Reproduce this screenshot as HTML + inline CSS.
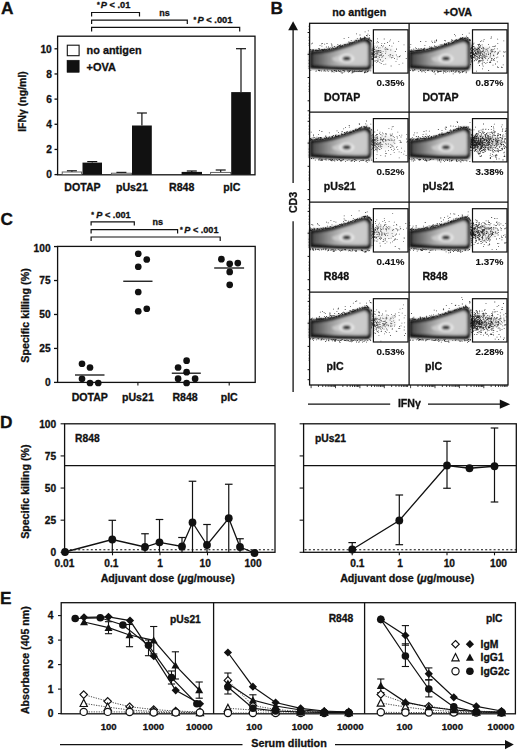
<!DOCTYPE html>
<html><head><meta charset="utf-8"><style>
html,body{margin:0;padding:0;background:#fff;}
svg{display:block;}
text{font-family:"Liberation Sans",sans-serif;fill:#111;stroke:#111;stroke-width:0.3px;}
</style></head><body>
<svg width="520" height="751" viewBox="0 0 520 751">
<defs><filter id="bl" x="-10%" y="-10%" width="120%" height="120%"><feGaussianBlur stdDeviation="0.8"/></filter>
<linearGradient id="gi" x1="0" y1="0" x2="1" y2="0"><stop offset="0" stop-color="#4a4a4a"/><stop offset="0.15" stop-color="#6e6e6e"/><stop offset="0.33" stop-color="#9c9c9c"/><stop offset="0.52" stop-color="#bababa"/><stop offset="0.8" stop-color="#c4c4c4"/><stop offset="1" stop-color="#b8b8b8"/></linearGradient></defs>
<rect width="520" height="751" fill="#fff"/>
<text x="1.00" y="13.60" font-size="17.3" text-anchor="start" font-weight="bold" >A</text>
<text x="270.60" y="13.60" font-size="17.3" text-anchor="start" font-weight="bold" >B</text>
<text x="0.40" y="225.20" font-size="17.3" text-anchor="start" font-weight="bold" >C</text>
<text x="-0.10" y="427.60" font-size="17.3" text-anchor="start" font-weight="bold" >D</text>
<text x="0.00" y="603.50" font-size="17.3" text-anchor="start" font-weight="bold" >E</text>
<path d="M91.60,16.60 L91.60,12.50 L139.50,12.50 L139.50,16.60" fill="none" stroke="#111" stroke-width="1.2"/>
<path d="M91.60,24.00 L91.60,20.20 L187.30,20.20 L187.30,24.00" fill="none" stroke="#111" stroke-width="1.2"/>
<path d="M91.60,31.60 L91.60,27.30 L239.70,27.30 L239.70,31.60" fill="none" stroke="#111" stroke-width="1.2"/>
<text x="97.00" y="7.10" font-size="7" font-weight="bold">*</text>
<text x="100.80" y="8.20" font-size="9" font-weight="bold" textLength="29.50" lengthAdjust="spacingAndGlyphs"><tspan font-style="italic">P</tspan> &lt; .01</text>
<text x="159.20" y="15.60" font-size="9" text-anchor="start" font-weight="bold" >ns</text>
<text x="193.60" y="22.00" font-size="7" font-weight="bold">*</text>
<text x="197.40" y="23.10" font-size="9" font-weight="bold" textLength="35.10" lengthAdjust="spacingAndGlyphs"><tspan font-style="italic">P</tspan> &lt; .001</text>
<rect x="57.60" y="36.20" width="197.40" height="138.60" fill="none" stroke="#111" stroke-width="1.3"/>
<line x1="54.50" y1="174.60" x2="57.60" y2="174.60" stroke="#111" stroke-width="1.3" />
<text x="51.80" y="178.30" font-size="10.2" text-anchor="end" font-weight="bold" >0</text>
<line x1="54.50" y1="149.44" x2="57.60" y2="149.44" stroke="#111" stroke-width="1.3" />
<text x="51.80" y="153.14" font-size="10.2" text-anchor="end" font-weight="bold" >2</text>
<line x1="54.50" y1="124.28" x2="57.60" y2="124.28" stroke="#111" stroke-width="1.3" />
<text x="51.80" y="127.98" font-size="10.2" text-anchor="end" font-weight="bold" >4</text>
<line x1="54.50" y1="99.12" x2="57.60" y2="99.12" stroke="#111" stroke-width="1.3" />
<text x="51.80" y="102.82" font-size="10.2" text-anchor="end" font-weight="bold" >6</text>
<line x1="54.50" y1="73.96" x2="57.60" y2="73.96" stroke="#111" stroke-width="1.3" />
<text x="51.80" y="77.66" font-size="10.2" text-anchor="end" font-weight="bold" >8</text>
<line x1="54.50" y1="48.80" x2="57.60" y2="48.80" stroke="#111" stroke-width="1.3" />
<text x="51.80" y="52.50" font-size="10.2" text-anchor="end" font-weight="bold" >10</text>
<text transform="translate(26.00,101.50) rotate(-90)" font-size="10.5" text-anchor="middle" font-weight="bold">IFN&#947; (ng/ml)</text>
<rect x="67.30" y="45.20" width="11.80" height="10.50" fill="#fff" stroke="#111" stroke-width="1.1"/>
<rect x="67.00" y="60.20" width="12.20" height="12.20" fill="#111" stroke="#111" stroke-width="0.5"/>
<text x="86.60" y="54.10" font-size="10.7" text-anchor="start" font-weight="bold"  textLength="55.0" lengthAdjust="spacingAndGlyphs">no antigen</text>
<text x="86.60" y="71.30" font-size="10.7" text-anchor="start" font-weight="bold"  textLength="29.4" lengthAdjust="spacingAndGlyphs">+OVA</text>
<line x1="71.90" y1="170.80" x2="71.90" y2="172.00" stroke="#111" stroke-width="1.2" />
<line x1="66.90" y1="170.80" x2="76.90" y2="170.80" stroke="#111" stroke-width="1.2" />
<rect x="62.20" y="172.00" width="19.40" height="2.60" fill="#fff" stroke="#555" stroke-width="0.9"/>
<line x1="92.25" y1="161.60" x2="92.25" y2="162.60" stroke="#111" stroke-width="1.2" />
<line x1="87.25" y1="161.60" x2="97.25" y2="161.60" stroke="#111" stroke-width="1.2" />
<rect x="82.50" y="162.60" width="19.50" height="12.00" fill="#111"/>
<line x1="121.40" y1="172.40" x2="121.40" y2="173.20" stroke="#111" stroke-width="1.2" />
<line x1="116.40" y1="172.40" x2="126.40" y2="172.40" stroke="#111" stroke-width="1.2" />
<rect x="111.40" y="173.20" width="20.00" height="1.40" fill="#fff" stroke="#555" stroke-width="0.9"/>
<line x1="141.90" y1="113.00" x2="141.90" y2="125.50" stroke="#111" stroke-width="1.2" />
<line x1="136.90" y1="113.00" x2="146.90" y2="113.00" stroke="#111" stroke-width="1.2" />
<rect x="132.00" y="125.50" width="19.80" height="49.10" fill="#111"/>
<line x1="191.80" y1="171.00" x2="191.80" y2="171.90" stroke="#111" stroke-width="1.2" />
<line x1="186.80" y1="171.00" x2="196.80" y2="171.00" stroke="#111" stroke-width="1.2" />
<rect x="181.60" y="171.90" width="20.40" height="2.70" fill="#111"/>
<line x1="220.70" y1="170.00" x2="220.70" y2="172.40" stroke="#111" stroke-width="1.2" />
<line x1="215.70" y1="170.00" x2="225.70" y2="170.00" stroke="#111" stroke-width="1.2" />
<rect x="210.60" y="172.40" width="20.20" height="2.20" fill="#fff" stroke="#555" stroke-width="0.9"/>
<line x1="241.00" y1="48.70" x2="241.00" y2="92.10" stroke="#111" stroke-width="1.2" />
<line x1="236.00" y1="48.70" x2="246.00" y2="48.70" stroke="#111" stroke-width="1.2" />
<rect x="231.20" y="92.10" width="19.60" height="82.50" fill="#111"/>
<text x="82.50" y="191.40" font-size="10.6" text-anchor="middle" font-weight="bold" >DOTAP</text>
<text x="131.90" y="191.40" font-size="10.6" text-anchor="middle" font-weight="bold" >pUs21</text>
<text x="181.70" y="191.40" font-size="10.6" text-anchor="middle" font-weight="bold" >R848</text>
<text x="231.90" y="191.40" font-size="10.6" text-anchor="middle" font-weight="bold" >pIC</text>
<path d="M91.10,225.60 L91.10,221.80 L134.30,221.80 L134.30,225.60" fill="none" stroke="#111" stroke-width="1.2"/>
<path d="M91.10,233.50 L91.10,229.70 L177.60,229.70 L177.60,233.50" fill="none" stroke="#111" stroke-width="1.2"/>
<path d="M91.10,241.00 L91.10,237.00 L220.20,237.00 L220.20,241.00" fill="none" stroke="#111" stroke-width="1.2"/>
<text x="91.30" y="217.00" font-size="7" font-weight="bold">*</text>
<text x="96.30" y="218.10" font-size="9" font-weight="bold" textLength="34.40" lengthAdjust="spacingAndGlyphs"><tspan font-style="italic">P</tspan> &lt; .001</text>
<text x="152.60" y="225.30" font-size="9" text-anchor="start" font-weight="bold" >ns</text>
<text x="179.90" y="231.70" font-size="7" font-weight="bold">*</text>
<text x="184.30" y="232.80" font-size="9" font-weight="bold" textLength="34.20" lengthAdjust="spacingAndGlyphs"><tspan font-style="italic">P</tspan> &lt; .001</text>
<rect x="57.60" y="246.40" width="197.60" height="136.00" fill="none" stroke="#111" stroke-width="1.3"/>
<line x1="54.00" y1="382.40" x2="57.60" y2="382.40" stroke="#111" stroke-width="1.3" />
<text x="50.60" y="386.10" font-size="10.2" text-anchor="end" font-weight="bold" >0</text>
<line x1="54.00" y1="348.44" x2="57.60" y2="348.44" stroke="#111" stroke-width="1.3" />
<text x="50.60" y="352.14" font-size="10.2" text-anchor="end" font-weight="bold" >25</text>
<line x1="54.00" y1="314.48" x2="57.60" y2="314.48" stroke="#111" stroke-width="1.3" />
<text x="50.60" y="318.18" font-size="10.2" text-anchor="end" font-weight="bold" >50</text>
<line x1="54.00" y1="280.52" x2="57.60" y2="280.52" stroke="#111" stroke-width="1.3" />
<text x="50.60" y="284.22" font-size="10.2" text-anchor="end" font-weight="bold" >75</text>
<line x1="54.00" y1="246.56" x2="57.60" y2="246.56" stroke="#111" stroke-width="1.3" />
<text x="50.60" y="251.66" font-size="10.2" text-anchor="end" font-weight="bold" >100</text>
<text transform="translate(28.80,315.50) rotate(-90)" font-size="10.7" text-anchor="middle" font-weight="bold">Specific killing (%)</text>
<line x1="89.80" y1="382.40" x2="89.80" y2="385.40" stroke="#111" stroke-width="1.1" />
<text x="89.80" y="401.00" font-size="10.6" text-anchor="middle" font-weight="bold" >DOTAP</text>
<line x1="137.90" y1="382.40" x2="137.90" y2="385.40" stroke="#111" stroke-width="1.1" />
<text x="137.90" y="401.00" font-size="10.6" text-anchor="middle" font-weight="bold" >pUs21</text>
<line x1="185.10" y1="382.40" x2="185.10" y2="385.40" stroke="#111" stroke-width="1.1" />
<text x="185.10" y="401.00" font-size="10.6" text-anchor="middle" font-weight="bold" >R848</text>
<line x1="229.20" y1="382.40" x2="229.20" y2="385.40" stroke="#111" stroke-width="1.1" />
<text x="229.20" y="401.00" font-size="10.6" text-anchor="middle" font-weight="bold" >pIC</text>
<circle cx="82" cy="363.75" r="3.35" fill="#111"/>
<circle cx="90" cy="367.5" r="3.35" fill="#111"/>
<circle cx="82" cy="378.75" r="3.35" fill="#111"/>
<circle cx="90" cy="383" r="3.35" fill="#111"/>
<circle cx="98.25" cy="383" r="3.35" fill="#111"/>
<circle cx="138.25" cy="253.75" r="3.35" fill="#111"/>
<circle cx="146.75" cy="259.5" r="3.35" fill="#111"/>
<circle cx="138.25" cy="266.75" r="3.35" fill="#111"/>
<circle cx="138.25" cy="292" r="3.35" fill="#111"/>
<circle cx="138.25" cy="311.25" r="3.35" fill="#111"/>
<circle cx="146.75" cy="308.75" r="3.35" fill="#111"/>
<circle cx="186.6" cy="360.7" r="3.35" fill="#111"/>
<circle cx="178.1" cy="367.5" r="3.35" fill="#111"/>
<circle cx="186.6" cy="372.2" r="3.35" fill="#111"/>
<circle cx="178.1" cy="378.7" r="3.35" fill="#111"/>
<circle cx="195.1" cy="378.7" r="3.35" fill="#111"/>
<circle cx="186.6" cy="383" r="3.35" fill="#111"/>
<circle cx="221.4" cy="259.2" r="3.35" fill="#111"/>
<circle cx="229.7" cy="263.8" r="3.35" fill="#111"/>
<circle cx="237.8" cy="263.1" r="3.35" fill="#111"/>
<circle cx="229.7" cy="271.9" r="3.35" fill="#111"/>
<circle cx="229.7" cy="284.8" r="3.35" fill="#111"/>
<line x1="75.00" y1="375.00" x2="104.50" y2="375.00" stroke="#111" stroke-width="1.3" />
<line x1="123.25" y1="281.25" x2="152.50" y2="281.25" stroke="#111" stroke-width="1.3" />
<line x1="171.80" y1="373.20" x2="200.80" y2="373.20" stroke="#111" stroke-width="1.3" />
<line x1="214.20" y1="268.00" x2="244.10" y2="268.00" stroke="#111" stroke-width="1.3" />
<rect x="64.60" y="423.80" width="210.40" height="128.50" fill="none" stroke="#111" stroke-width="1.3"/>
<line x1="64.60" y1="465.70" x2="275.00" y2="465.70" stroke="#111" stroke-width="1.3" />
<line x1="65.60" y1="549.80" x2="275.00" y2="549.80" stroke="#111" stroke-width="1.1" stroke-dasharray="2,2.2"/>
<line x1="60.60" y1="552.30" x2="64.60" y2="552.30" stroke="#111" stroke-width="1.1" />
<line x1="60.60" y1="520.17" x2="64.60" y2="520.17" stroke="#111" stroke-width="1.1" />
<line x1="60.60" y1="488.05" x2="64.60" y2="488.05" stroke="#111" stroke-width="1.1" />
<line x1="60.60" y1="455.92" x2="64.60" y2="455.92" stroke="#111" stroke-width="1.1" />
<line x1="60.60" y1="423.80" x2="64.60" y2="423.80" stroke="#111" stroke-width="1.1" />
<line x1="65.00" y1="552.30" x2="65.00" y2="555.30" stroke="#111" stroke-width="1.1" />
<text x="64.40" y="566.80" font-size="10.2" text-anchor="middle" font-weight="bold" >0.01</text>
<line x1="112.50" y1="552.30" x2="112.50" y2="555.30" stroke="#111" stroke-width="1.1" />
<text x="111.40" y="566.80" font-size="10.2" text-anchor="middle" font-weight="bold" >0.1</text>
<line x1="160.00" y1="552.30" x2="160.00" y2="555.30" stroke="#111" stroke-width="1.1" />
<text x="160.20" y="566.80" font-size="10.2" text-anchor="middle" font-weight="bold" >1</text>
<line x1="207.50" y1="552.30" x2="207.50" y2="555.30" stroke="#111" stroke-width="1.1" />
<text x="205.20" y="566.80" font-size="10.2" text-anchor="middle" font-weight="bold" >10</text>
<line x1="255.00" y1="552.30" x2="255.00" y2="555.30" stroke="#111" stroke-width="1.1" />
<text x="253.10" y="566.80" font-size="10.2" text-anchor="middle" font-weight="bold" >100</text>
<line x1="112.30" y1="520.30" x2="112.30" y2="552.30" stroke="#111" stroke-width="1.2" />
<line x1="108.50" y1="520.30" x2="116.10" y2="520.30" stroke="#111" stroke-width="1.2" />
<line x1="145.00" y1="533.75" x2="145.00" y2="552.30" stroke="#111" stroke-width="1.2" />
<line x1="141.20" y1="533.75" x2="148.80" y2="533.75" stroke="#111" stroke-width="1.2" />
<line x1="159.50" y1="519.50" x2="159.50" y2="552.30" stroke="#111" stroke-width="1.2" />
<line x1="155.70" y1="519.50" x2="163.30" y2="519.50" stroke="#111" stroke-width="1.2" />
<line x1="182.00" y1="537.50" x2="182.00" y2="552.30" stroke="#111" stroke-width="1.2" />
<line x1="178.20" y1="537.50" x2="185.80" y2="537.50" stroke="#111" stroke-width="1.2" />
<line x1="192.50" y1="481.25" x2="192.50" y2="552.30" stroke="#111" stroke-width="1.2" />
<line x1="188.70" y1="481.25" x2="196.30" y2="481.25" stroke="#111" stroke-width="1.2" />
<line x1="207.00" y1="524.50" x2="207.00" y2="552.30" stroke="#111" stroke-width="1.2" />
<line x1="203.20" y1="524.50" x2="210.80" y2="524.50" stroke="#111" stroke-width="1.2" />
<line x1="228.75" y1="484.25" x2="228.75" y2="552.30" stroke="#111" stroke-width="1.2" />
<line x1="224.95" y1="484.25" x2="232.55" y2="484.25" stroke="#111" stroke-width="1.2" />
<line x1="240.00" y1="538.75" x2="240.00" y2="552.30" stroke="#111" stroke-width="1.2" />
<line x1="236.20" y1="538.75" x2="243.80" y2="538.75" stroke="#111" stroke-width="1.2" />
<path d="M65.00,552.00 L112.30,539.50 L145.00,547.00 L159.50,542.30 L182.00,546.50 L192.50,522.50 L207.00,545.00 L228.75,518.25 L240.00,547.00 L254.50,553.00" fill="none" stroke="#111" stroke-width="1.3"/>
<circle cx="65" cy="552" r="3.9" fill="#111"/>
<circle cx="112.3" cy="539.5" r="3.9" fill="#111"/>
<circle cx="145" cy="547" r="3.9" fill="#111"/>
<circle cx="159.5" cy="542.3" r="3.9" fill="#111"/>
<circle cx="182" cy="546.5" r="3.9" fill="#111"/>
<circle cx="192.5" cy="522.5" r="3.9" fill="#111"/>
<circle cx="207" cy="545" r="3.9" fill="#111"/>
<circle cx="228.75" cy="518.25" r="3.9" fill="#111"/>
<circle cx="240" cy="547" r="3.9" fill="#111"/>
<circle cx="254.5" cy="553" r="3.9" fill="#111"/>
<text x="75.00" y="441.60" font-size="10.3" text-anchor="start" font-weight="bold" >R848</text>
<text x="56.20" y="556.00" font-size="10.2" text-anchor="end" font-weight="bold" >0</text>
<text x="56.20" y="523.88" font-size="10.2" text-anchor="end" font-weight="bold" >25</text>
<text x="56.20" y="491.75" font-size="10.2" text-anchor="end" font-weight="bold" >50</text>
<text x="56.20" y="459.62" font-size="10.2" text-anchor="end" font-weight="bold" >75</text>
<text x="56.20" y="427.50" font-size="10.2" text-anchor="end" font-weight="bold" >100</text>
<text transform="translate(28.60,491.60) rotate(-90)" font-size="10.7" text-anchor="middle" font-weight="bold">Specific killing (%)</text>
<text x="167.70" y="582.20" font-size="10.7" text-anchor="middle" font-weight="bold" >Adjuvant dose (<tspan font-style="italic">&#956;</tspan>g/mouse)</text>
<rect x="303.60" y="423.80" width="212.70" height="128.50" fill="none" stroke="#111" stroke-width="1.3"/>
<line x1="303.60" y1="465.70" x2="516.30" y2="465.70" stroke="#111" stroke-width="1.3" />
<line x1="304.60" y1="549.80" x2="516.30" y2="549.80" stroke="#111" stroke-width="1.1" stroke-dasharray="2,2.2"/>
<line x1="299.60" y1="552.30" x2="303.60" y2="552.30" stroke="#111" stroke-width="1.1" />
<line x1="299.60" y1="520.17" x2="303.60" y2="520.17" stroke="#111" stroke-width="1.1" />
<line x1="299.60" y1="488.05" x2="303.60" y2="488.05" stroke="#111" stroke-width="1.1" />
<line x1="299.60" y1="455.92" x2="303.60" y2="455.92" stroke="#111" stroke-width="1.1" />
<line x1="299.60" y1="423.80" x2="303.60" y2="423.80" stroke="#111" stroke-width="1.1" />
<line x1="352.20" y1="552.30" x2="352.20" y2="555.30" stroke="#111" stroke-width="1.1" />
<text x="357.40" y="566.80" font-size="10.2" text-anchor="middle" font-weight="bold" >0.1</text>
<line x1="399.30" y1="552.30" x2="399.30" y2="555.30" stroke="#111" stroke-width="1.1" />
<text x="400.20" y="566.80" font-size="10.2" text-anchor="middle" font-weight="bold" >1</text>
<line x1="447.00" y1="552.30" x2="447.00" y2="555.30" stroke="#111" stroke-width="1.1" />
<text x="449.30" y="566.80" font-size="10.2" text-anchor="middle" font-weight="bold" >10</text>
<line x1="494.50" y1="552.30" x2="494.50" y2="555.30" stroke="#111" stroke-width="1.1" />
<text x="498.50" y="566.80" font-size="10.2" text-anchor="middle" font-weight="bold" >100</text>
<line x1="352.20" y1="542.60" x2="352.20" y2="552.30" stroke="#111" stroke-width="1.2" />
<line x1="348.40" y1="542.60" x2="356.00" y2="542.60" stroke="#111" stroke-width="1.2" />
<line x1="399.30" y1="495.00" x2="399.30" y2="544.70" stroke="#111" stroke-width="1.2" />
<line x1="395.50" y1="495.00" x2="403.10" y2="495.00" stroke="#111" stroke-width="1.2" />
<line x1="395.50" y1="544.70" x2="403.10" y2="544.70" stroke="#111" stroke-width="1.2" />
<line x1="447.00" y1="441.25" x2="447.00" y2="488.25" stroke="#111" stroke-width="1.2" />
<line x1="443.20" y1="441.25" x2="450.80" y2="441.25" stroke="#111" stroke-width="1.2" />
<line x1="443.20" y1="488.25" x2="450.80" y2="488.25" stroke="#111" stroke-width="1.2" />
<line x1="494.50" y1="428.00" x2="494.50" y2="502.00" stroke="#111" stroke-width="1.2" />
<line x1="490.70" y1="428.00" x2="498.30" y2="428.00" stroke="#111" stroke-width="1.2" />
<line x1="490.70" y1="502.00" x2="498.30" y2="502.00" stroke="#111" stroke-width="1.2" />
<path d="M352.20,549.50 L399.30,520.50 L447.00,465.50 L469.50,468.25 L494.50,466.25" fill="none" stroke="#111" stroke-width="1.3"/>
<circle cx="352.2" cy="549.5" r="3.9" fill="#111"/>
<circle cx="399.3" cy="520.5" r="3.9" fill="#111"/>
<circle cx="447" cy="465.5" r="3.9" fill="#111"/>
<circle cx="469.5" cy="468.25" r="3.9" fill="#111"/>
<circle cx="494.5" cy="466.25" r="3.9" fill="#111"/>
<text x="315.00" y="441.60" font-size="10.3" text-anchor="start" font-weight="bold" >pUs21</text>
<text x="407.20" y="582.00" font-size="10.7" text-anchor="middle" font-weight="bold" >Adjuvant dose (<tspan font-style="italic">&#956;</tspan>g/mouse)</text>
<rect x="61.20" y="602.70" width="454.20" height="111.10" fill="none" stroke="#111" stroke-width="1.3"/>
<line x1="213.60" y1="602.70" x2="213.60" y2="713.80" stroke="#111" stroke-width="1.3" />
<line x1="364.60" y1="602.70" x2="364.60" y2="713.80" stroke="#111" stroke-width="1.3" />
<line x1="58.00" y1="713.60" x2="61.20" y2="713.60" stroke="#111" stroke-width="1.1" />
<text x="53.40" y="717.20" font-size="10.2" text-anchor="end" font-weight="bold" >0</text>
<line x1="58.00" y1="689.10" x2="61.20" y2="689.10" stroke="#111" stroke-width="1.1" />
<text x="53.40" y="692.70" font-size="10.2" text-anchor="end" font-weight="bold" >1</text>
<line x1="58.00" y1="664.60" x2="61.20" y2="664.60" stroke="#111" stroke-width="1.1" />
<text x="53.40" y="668.20" font-size="10.2" text-anchor="end" font-weight="bold" >2</text>
<line x1="58.00" y1="640.10" x2="61.20" y2="640.10" stroke="#111" stroke-width="1.1" />
<text x="53.40" y="643.70" font-size="10.2" text-anchor="end" font-weight="bold" >3</text>
<line x1="58.00" y1="615.60" x2="61.20" y2="615.60" stroke="#111" stroke-width="1.1" />
<text x="53.40" y="619.20" font-size="10.2" text-anchor="end" font-weight="bold" >4</text>
<text transform="translate(28.80,660.20) rotate(-90)" font-size="10.6" text-anchor="middle" font-weight="bold">Absorbance (405 nm)</text>
<text x="108.70" y="729.60" font-size="9.6" text-anchor="middle" font-weight="bold" >100</text>
<text x="153.50" y="729.60" font-size="9.6" text-anchor="middle" font-weight="bold" >1000</text>
<text x="199.30" y="729.60" font-size="9.6" text-anchor="middle" font-weight="bold" >10000</text>
<text x="254.30" y="729.60" font-size="9.6" text-anchor="middle" font-weight="bold" >100</text>
<text x="302.40" y="729.60" font-size="9.6" text-anchor="middle" font-weight="bold" >1000</text>
<text x="350.30" y="729.60" font-size="9.6" text-anchor="middle" font-weight="bold" >10000</text>
<text x="404.60" y="729.60" font-size="9.6" text-anchor="middle" font-weight="bold" >100</text>
<text x="452.30" y="729.60" font-size="9.6" text-anchor="middle" font-weight="bold" >1000</text>
<text x="500.90" y="729.60" font-size="9.6" text-anchor="middle" font-weight="bold" >10000</text>
<text x="185.40" y="622.60" font-size="10.3" text-anchor="middle" font-weight="bold" >pUs21</text>
<text x="341.00" y="621.90" font-size="10.3" text-anchor="middle" font-weight="bold" >R848</text>
<text x="494.20" y="622.40" font-size="10.3" text-anchor="middle" font-weight="bold" >pIC</text>
<line x1="60.00" y1="744.60" x2="242.50" y2="744.60" stroke="#111" stroke-width="1.3" />
<line x1="335.00" y1="744.60" x2="506.00" y2="744.60" stroke="#111" stroke-width="1.3" />
<path d="M505,740 L513.8,744.6 L505,749.2 Z" fill="#111"/>
<text x="289.00" y="747.20" font-size="10.8" text-anchor="middle" font-weight="bold" >Serum dilution</text>
<path d="M83.70,694.60 L107.70,701.30 L129.60,706.70 L153.70,709.60 L175.70,711.00 L200.00,712.00" fill="none" stroke="#333" stroke-width="0.9" stroke-dasharray="1.2,1.3"/>
<path d="M83.70,703.30 L107.70,707.10 L129.60,710.00 L153.70,711.50 L175.70,712.00 L200.00,712.50" fill="none" stroke="#333" stroke-width="0.9" stroke-dasharray="1.2,1.3"/>
<path d="M83.70,711.90 L107.70,711.90 L129.60,712.00 L153.70,712.50 L175.70,712.50 L199.90,712.50" fill="none" stroke="#333" stroke-width="0.9" stroke-dasharray="1.2,1.3"/>
<path d="M84.00,617.30 L108.50,616.80 L130.00,620.60 L153.80,656.20 L175.70,690.30 L200.00,703.80" fill="none" stroke="#111" stroke-width="1.2"/>
<line x1="108.50" y1="621.70" x2="108.50" y2="633.70" stroke="#111" stroke-width="1.1" />
<line x1="104.90" y1="621.70" x2="112.10" y2="621.70" stroke="#111" stroke-width="1.1" />
<line x1="104.90" y1="633.70" x2="112.10" y2="633.70" stroke="#111" stroke-width="1.1" />
<line x1="129.50" y1="624.50" x2="129.50" y2="646.70" stroke="#111" stroke-width="1.1" />
<line x1="125.90" y1="624.50" x2="133.10" y2="624.50" stroke="#111" stroke-width="1.1" />
<line x1="125.90" y1="646.70" x2="133.10" y2="646.70" stroke="#111" stroke-width="1.1" />
<line x1="153.70" y1="626.50" x2="153.70" y2="654.00" stroke="#111" stroke-width="1.1" />
<line x1="150.10" y1="626.50" x2="157.30" y2="626.50" stroke="#111" stroke-width="1.1" />
<line x1="150.10" y1="654.00" x2="157.30" y2="654.00" stroke="#111" stroke-width="1.1" />
<line x1="175.40" y1="651.80" x2="175.40" y2="679.00" stroke="#111" stroke-width="1.1" />
<line x1="171.80" y1="651.80" x2="179.00" y2="651.80" stroke="#111" stroke-width="1.1" />
<line x1="171.80" y1="679.00" x2="179.00" y2="679.00" stroke="#111" stroke-width="1.1" />
<line x1="199.20" y1="682.00" x2="199.20" y2="698.20" stroke="#111" stroke-width="1.1" />
<line x1="195.60" y1="682.00" x2="202.80" y2="682.00" stroke="#111" stroke-width="1.1" />
<line x1="195.60" y1="698.20" x2="202.80" y2="698.20" stroke="#111" stroke-width="1.1" />
<path d="M84.00,622.00 L108.50,627.70 L129.50,635.00 L153.70,640.40 L175.40,665.40 L199.20,690.00" fill="none" stroke="#111" stroke-width="1.2"/>
<line x1="148.50" y1="640.00" x2="148.50" y2="655.70" stroke="#111" stroke-width="1.1" />
<line x1="144.90" y1="640.00" x2="152.10" y2="640.00" stroke="#111" stroke-width="1.1" />
<line x1="144.90" y1="655.70" x2="152.10" y2="655.70" stroke="#111" stroke-width="1.1" />
<line x1="171.50" y1="671.00" x2="171.50" y2="684.00" stroke="#111" stroke-width="1.1" />
<line x1="167.90" y1="671.00" x2="175.10" y2="671.00" stroke="#111" stroke-width="1.1" />
<line x1="167.90" y1="684.00" x2="175.10" y2="684.00" stroke="#111" stroke-width="1.1" />
<path d="M75.20,618.50 L100.30,617.80 L122.90,625.00 L148.50,645.30 L171.50,677.60 L196.90,703.80" fill="none" stroke="#111" stroke-width="1.2"/>
<path d="M83.70,690.90 L87.40,694.60 L83.70,698.30 L80.00,694.60 Z" fill="#fff" stroke="#111" stroke-width="1.2"/>
<path d="M107.70,697.60 L111.40,701.30 L107.70,705.00 L104.00,701.30 Z" fill="#fff" stroke="#111" stroke-width="1.2"/>
<path d="M129.60,703.00 L133.30,706.70 L129.60,710.40 L125.90,706.70 Z" fill="#fff" stroke="#111" stroke-width="1.2"/>
<path d="M153.70,705.90 L157.40,709.60 L153.70,713.30 L150.00,709.60 Z" fill="#fff" stroke="#111" stroke-width="1.2"/>
<path d="M175.70,707.30 L179.40,711.00 L175.70,714.70 L172.00,711.00 Z" fill="#fff" stroke="#111" stroke-width="1.2"/>
<path d="M200.00,708.30 L203.70,712.00 L200.00,715.70 L196.30,712.00 Z" fill="#fff" stroke="#111" stroke-width="1.2"/>
<path d="M83.70,699.30 L87.30,706.50 L80.10,706.50 Z" fill="#fff" stroke="#111" stroke-width="1.2"/>
<path d="M107.70,703.10 L111.30,710.30 L104.10,710.30 Z" fill="#fff" stroke="#111" stroke-width="1.2"/>
<path d="M129.60,706.00 L133.20,713.20 L126.00,713.20 Z" fill="#fff" stroke="#111" stroke-width="1.2"/>
<path d="M153.70,707.50 L157.30,714.70 L150.10,714.70 Z" fill="#fff" stroke="#111" stroke-width="1.2"/>
<path d="M175.70,708.00 L179.30,715.20 L172.10,715.20 Z" fill="#fff" stroke="#111" stroke-width="1.2"/>
<path d="M200.00,708.50 L203.60,715.70 L196.40,715.70 Z" fill="#fff" stroke="#111" stroke-width="1.2"/>
<circle cx="83.70" cy="711.90" r="3.60" fill="#fff" stroke="#111" stroke-width="1.2"/>
<circle cx="107.70" cy="711.90" r="3.60" fill="#fff" stroke="#111" stroke-width="1.2"/>
<circle cx="129.60" cy="712.00" r="3.60" fill="#fff" stroke="#111" stroke-width="1.2"/>
<circle cx="153.70" cy="712.50" r="3.60" fill="#fff" stroke="#111" stroke-width="1.2"/>
<circle cx="175.70" cy="712.50" r="3.60" fill="#fff" stroke="#111" stroke-width="1.2"/>
<circle cx="199.90" cy="712.50" r="3.60" fill="#fff" stroke="#111" stroke-width="1.2"/>
<path d="M84.00,613.20 L88.10,617.30 L84.00,621.40 L79.90,617.30 Z" fill="#111" stroke="#111" stroke-width="0"/>
<path d="M108.50,612.70 L112.60,616.80 L108.50,620.90 L104.40,616.80 Z" fill="#111" stroke="#111" stroke-width="0"/>
<path d="M130.00,616.50 L134.10,620.60 L130.00,624.70 L125.90,620.60 Z" fill="#111" stroke="#111" stroke-width="0"/>
<path d="M153.80,652.10 L157.90,656.20 L153.80,660.30 L149.70,656.20 Z" fill="#111" stroke="#111" stroke-width="0"/>
<path d="M175.70,686.20 L179.80,690.30 L175.70,694.40 L171.60,690.30 Z" fill="#111" stroke="#111" stroke-width="0"/>
<path d="M200.00,699.70 L204.10,703.80 L200.00,707.90 L195.90,703.80 Z" fill="#111" stroke="#111" stroke-width="0"/>
<path d="M84.00,618.00 L88.00,625.20 L80.00,625.20 Z" fill="#111" stroke="#111" stroke-width="0"/>
<path d="M108.50,623.70 L112.50,630.90 L104.50,630.90 Z" fill="#111" stroke="#111" stroke-width="0"/>
<path d="M129.50,631.00 L133.50,638.20 L125.50,638.20 Z" fill="#111" stroke="#111" stroke-width="0"/>
<path d="M153.70,636.40 L157.70,643.60 L149.70,643.60 Z" fill="#111" stroke="#111" stroke-width="0"/>
<path d="M175.40,661.40 L179.40,668.60 L171.40,668.60 Z" fill="#111" stroke="#111" stroke-width="0"/>
<path d="M199.20,686.00 L203.20,693.20 L195.20,693.20 Z" fill="#111" stroke="#111" stroke-width="0"/>
<circle cx="75.20" cy="618.50" r="3.80" fill="#111" stroke="#111" stroke-width="0"/>
<circle cx="100.30" cy="617.80" r="3.80" fill="#111" stroke="#111" stroke-width="0"/>
<circle cx="122.90" cy="625.00" r="3.80" fill="#111" stroke="#111" stroke-width="0"/>
<circle cx="148.50" cy="645.30" r="3.80" fill="#111" stroke="#111" stroke-width="0"/>
<circle cx="171.50" cy="677.60" r="3.80" fill="#111" stroke="#111" stroke-width="0"/>
<circle cx="196.90" cy="703.80" r="3.80" fill="#111" stroke="#111" stroke-width="0"/>
<path d="M227.90,680.40 L252.90,705.50 L275.60,709.50 L300.60,711.50 L324.20,712.00 L348.70,712.30" fill="none" stroke="#333" stroke-width="0.9" stroke-dasharray="1.2,1.3"/>
<path d="M227.90,708.30 L252.90,710.00 L275.60,711.50 L300.60,712.00 L324.20,712.30 L348.70,712.50" fill="none" stroke="#333" stroke-width="0.9" stroke-dasharray="1.2,1.3"/>
<path d="M227.90,713.00 L252.90,713.00 L275.60,713.00 L300.60,713.00 L324.20,713.00 L348.70,713.00" fill="none" stroke="#333" stroke-width="0.9" stroke-dasharray="1.2,1.3"/>
<path d="M227.90,652.50 L252.90,686.70 L275.60,702.50 L300.60,708.30 L324.20,711.00 L348.70,712.00" fill="none" stroke="#111" stroke-width="1.2"/>
<line x1="227.90" y1="673.00" x2="227.90" y2="694.00" stroke="#111" stroke-width="1.1" />
<line x1="224.30" y1="673.00" x2="231.50" y2="673.00" stroke="#111" stroke-width="1.1" />
<line x1="224.30" y1="694.00" x2="231.50" y2="694.00" stroke="#111" stroke-width="1.1" />
<line x1="252.90" y1="694.80" x2="252.90" y2="705.60" stroke="#111" stroke-width="1.1" />
<line x1="249.30" y1="694.80" x2="256.50" y2="694.80" stroke="#111" stroke-width="1.1" />
<line x1="249.30" y1="705.60" x2="256.50" y2="705.60" stroke="#111" stroke-width="1.1" />
<path d="M227.90,683.50 L252.90,700.20 L275.60,706.00 L300.60,710.00 L324.20,711.50 L348.70,712.00" fill="none" stroke="#111" stroke-width="1.2"/>
<path d="M227.90,687.00 L252.90,708.30 L275.60,711.00 L300.60,712.00 L324.20,712.50 L348.70,712.50" fill="none" stroke="#111" stroke-width="1.2"/>
<path d="M227.90,676.70 L231.60,680.40 L227.90,684.10 L224.20,680.40 Z" fill="#fff" stroke="#111" stroke-width="1.2"/>
<path d="M252.90,701.80 L256.60,705.50 L252.90,709.20 L249.20,705.50 Z" fill="#fff" stroke="#111" stroke-width="1.2"/>
<path d="M275.60,705.80 L279.30,709.50 L275.60,713.20 L271.90,709.50 Z" fill="#fff" stroke="#111" stroke-width="1.2"/>
<path d="M300.60,707.80 L304.30,711.50 L300.60,715.20 L296.90,711.50 Z" fill="#fff" stroke="#111" stroke-width="1.2"/>
<path d="M324.20,708.30 L327.90,712.00 L324.20,715.70 L320.50,712.00 Z" fill="#fff" stroke="#111" stroke-width="1.2"/>
<path d="M348.70,708.60 L352.40,712.30 L348.70,716.00 L345.00,712.30 Z" fill="#fff" stroke="#111" stroke-width="1.2"/>
<path d="M227.90,704.30 L231.50,711.50 L224.30,711.50 Z" fill="#fff" stroke="#111" stroke-width="1.2"/>
<path d="M252.90,706.00 L256.50,713.20 L249.30,713.20 Z" fill="#fff" stroke="#111" stroke-width="1.2"/>
<path d="M275.60,707.50 L279.20,714.70 L272.00,714.70 Z" fill="#fff" stroke="#111" stroke-width="1.2"/>
<path d="M300.60,708.00 L304.20,715.20 L297.00,715.20 Z" fill="#fff" stroke="#111" stroke-width="1.2"/>
<path d="M324.20,708.30 L327.80,715.50 L320.60,715.50 Z" fill="#fff" stroke="#111" stroke-width="1.2"/>
<path d="M348.70,708.50 L352.30,715.70 L345.10,715.70 Z" fill="#fff" stroke="#111" stroke-width="1.2"/>
<circle cx="227.90" cy="713.00" r="3.60" fill="#fff" stroke="#111" stroke-width="1.2"/>
<circle cx="252.90" cy="713.00" r="3.60" fill="#fff" stroke="#111" stroke-width="1.2"/>
<circle cx="275.60" cy="713.00" r="3.60" fill="#fff" stroke="#111" stroke-width="1.2"/>
<circle cx="300.60" cy="713.00" r="3.60" fill="#fff" stroke="#111" stroke-width="1.2"/>
<circle cx="324.20" cy="713.00" r="3.60" fill="#fff" stroke="#111" stroke-width="1.2"/>
<circle cx="348.70" cy="713.00" r="3.60" fill="#fff" stroke="#111" stroke-width="1.2"/>
<path d="M227.90,648.40 L232.00,652.50 L227.90,656.60 L223.80,652.50 Z" fill="#111" stroke="#111" stroke-width="0"/>
<path d="M252.90,682.60 L257.00,686.70 L252.90,690.80 L248.80,686.70 Z" fill="#111" stroke="#111" stroke-width="0"/>
<path d="M275.60,698.40 L279.70,702.50 L275.60,706.60 L271.50,702.50 Z" fill="#111" stroke="#111" stroke-width="0"/>
<path d="M300.60,704.20 L304.70,708.30 L300.60,712.40 L296.50,708.30 Z" fill="#111" stroke="#111" stroke-width="0"/>
<path d="M324.20,706.90 L328.30,711.00 L324.20,715.10 L320.10,711.00 Z" fill="#111" stroke="#111" stroke-width="0"/>
<path d="M348.70,707.90 L352.80,712.00 L348.70,716.10 L344.60,712.00 Z" fill="#111" stroke="#111" stroke-width="0"/>
<path d="M227.90,679.50 L231.90,686.70 L223.90,686.70 Z" fill="#111" stroke="#111" stroke-width="0"/>
<path d="M252.90,696.20 L256.90,703.40 L248.90,703.40 Z" fill="#111" stroke="#111" stroke-width="0"/>
<path d="M275.60,702.00 L279.60,709.20 L271.60,709.20 Z" fill="#111" stroke="#111" stroke-width="0"/>
<path d="M300.60,706.00 L304.60,713.20 L296.60,713.20 Z" fill="#111" stroke="#111" stroke-width="0"/>
<path d="M324.20,707.50 L328.20,714.70 L320.20,714.70 Z" fill="#111" stroke="#111" stroke-width="0"/>
<path d="M348.70,708.00 L352.70,715.20 L344.70,715.20 Z" fill="#111" stroke="#111" stroke-width="0"/>
<circle cx="227.90" cy="687.00" r="3.80" fill="#111" stroke="#111" stroke-width="0"/>
<circle cx="252.90" cy="708.30" r="3.80" fill="#111" stroke="#111" stroke-width="0"/>
<circle cx="275.60" cy="711.00" r="3.80" fill="#111" stroke="#111" stroke-width="0"/>
<circle cx="300.60" cy="712.00" r="3.80" fill="#111" stroke="#111" stroke-width="0"/>
<circle cx="324.20" cy="712.50" r="3.80" fill="#111" stroke="#111" stroke-width="0"/>
<circle cx="348.70" cy="712.50" r="3.80" fill="#111" stroke="#111" stroke-width="0"/>
<path d="M380.80,694.40 L405.40,703.00 L428.80,706.30 L453.80,710.00 L476.30,711.00 L501.50,712.00" fill="none" stroke="#333" stroke-width="0.9" stroke-dasharray="1.2,1.3"/>
<path d="M380.80,703.00 L405.40,707.00 L428.80,710.00 L453.80,711.50 L476.30,712.00 L501.50,712.50" fill="none" stroke="#333" stroke-width="0.9" stroke-dasharray="1.2,1.3"/>
<path d="M380.80,712.30 L405.40,712.50 L428.80,712.50 L453.80,712.50 L476.30,712.50 L501.50,712.50" fill="none" stroke="#333" stroke-width="0.9" stroke-dasharray="1.2,1.3"/>
<line x1="405.40" y1="625.60" x2="405.40" y2="645.20" stroke="#111" stroke-width="1.1" />
<line x1="401.80" y1="625.60" x2="409.00" y2="625.60" stroke="#111" stroke-width="1.1" />
<line x1="401.80" y1="645.20" x2="409.00" y2="645.20" stroke="#111" stroke-width="1.1" />
<line x1="428.80" y1="667.90" x2="428.80" y2="679.70" stroke="#111" stroke-width="1.1" />
<line x1="425.20" y1="667.90" x2="432.40" y2="667.90" stroke="#111" stroke-width="1.1" />
<line x1="425.20" y1="679.70" x2="432.40" y2="679.70" stroke="#111" stroke-width="1.1" />
<path d="M380.80,619.40 L405.40,635.40 L428.80,673.80 L453.80,697.30 L476.30,706.30 L501.50,711.00" fill="none" stroke="#111" stroke-width="1.2"/>
<line x1="380.80" y1="679.00" x2="380.80" y2="692.60" stroke="#111" stroke-width="1.1" />
<line x1="377.20" y1="679.00" x2="384.40" y2="679.00" stroke="#111" stroke-width="1.1" />
<line x1="377.20" y1="692.60" x2="384.40" y2="692.60" stroke="#111" stroke-width="1.1" />
<path d="M380.80,685.80 L405.40,702.10 L428.80,707.00 L453.80,710.00 L476.30,711.50 L501.50,712.00" fill="none" stroke="#111" stroke-width="1.2"/>
<line x1="405.40" y1="643.80" x2="405.40" y2="666.50" stroke="#111" stroke-width="1.1" />
<line x1="401.80" y1="643.80" x2="409.00" y2="643.80" stroke="#111" stroke-width="1.1" />
<line x1="401.80" y1="666.50" x2="409.00" y2="666.50" stroke="#111" stroke-width="1.1" />
<line x1="428.80" y1="680.00" x2="428.80" y2="696.90" stroke="#111" stroke-width="1.1" />
<line x1="425.20" y1="680.00" x2="432.40" y2="680.00" stroke="#111" stroke-width="1.1" />
<line x1="425.20" y1="696.90" x2="432.40" y2="696.90" stroke="#111" stroke-width="1.1" />
<path d="M380.80,619.40 L405.40,656.00 L428.80,689.00 L453.80,706.90 L476.30,712.00 L501.50,712.50" fill="none" stroke="#111" stroke-width="1.2"/>
<path d="M380.80,690.70 L384.50,694.40 L380.80,698.10 L377.10,694.40 Z" fill="#fff" stroke="#111" stroke-width="1.2"/>
<path d="M405.40,699.30 L409.10,703.00 L405.40,706.70 L401.70,703.00 Z" fill="#fff" stroke="#111" stroke-width="1.2"/>
<path d="M428.80,702.60 L432.50,706.30 L428.80,710.00 L425.10,706.30 Z" fill="#fff" stroke="#111" stroke-width="1.2"/>
<path d="M453.80,706.30 L457.50,710.00 L453.80,713.70 L450.10,710.00 Z" fill="#fff" stroke="#111" stroke-width="1.2"/>
<path d="M476.30,707.30 L480.00,711.00 L476.30,714.70 L472.60,711.00 Z" fill="#fff" stroke="#111" stroke-width="1.2"/>
<path d="M501.50,708.30 L505.20,712.00 L501.50,715.70 L497.80,712.00 Z" fill="#fff" stroke="#111" stroke-width="1.2"/>
<path d="M380.80,699.00 L384.40,706.20 L377.20,706.20 Z" fill="#fff" stroke="#111" stroke-width="1.2"/>
<path d="M405.40,703.00 L409.00,710.20 L401.80,710.20 Z" fill="#fff" stroke="#111" stroke-width="1.2"/>
<path d="M428.80,706.00 L432.40,713.20 L425.20,713.20 Z" fill="#fff" stroke="#111" stroke-width="1.2"/>
<path d="M453.80,707.50 L457.40,714.70 L450.20,714.70 Z" fill="#fff" stroke="#111" stroke-width="1.2"/>
<path d="M476.30,708.00 L479.90,715.20 L472.70,715.20 Z" fill="#fff" stroke="#111" stroke-width="1.2"/>
<path d="M501.50,708.50 L505.10,715.70 L497.90,715.70 Z" fill="#fff" stroke="#111" stroke-width="1.2"/>
<circle cx="380.80" cy="712.30" r="3.60" fill="#fff" stroke="#111" stroke-width="1.2"/>
<circle cx="405.40" cy="712.50" r="3.60" fill="#fff" stroke="#111" stroke-width="1.2"/>
<circle cx="428.80" cy="712.50" r="3.60" fill="#fff" stroke="#111" stroke-width="1.2"/>
<circle cx="453.80" cy="712.50" r="3.60" fill="#fff" stroke="#111" stroke-width="1.2"/>
<circle cx="476.30" cy="712.50" r="3.60" fill="#fff" stroke="#111" stroke-width="1.2"/>
<circle cx="501.50" cy="712.50" r="3.60" fill="#fff" stroke="#111" stroke-width="1.2"/>
<path d="M380.80,615.30 L384.90,619.40 L380.80,623.50 L376.70,619.40 Z" fill="#111" stroke="#111" stroke-width="0"/>
<path d="M405.40,631.30 L409.50,635.40 L405.40,639.50 L401.30,635.40 Z" fill="#111" stroke="#111" stroke-width="0"/>
<path d="M428.80,669.70 L432.90,673.80 L428.80,677.90 L424.70,673.80 Z" fill="#111" stroke="#111" stroke-width="0"/>
<path d="M453.80,693.20 L457.90,697.30 L453.80,701.40 L449.70,697.30 Z" fill="#111" stroke="#111" stroke-width="0"/>
<path d="M476.30,702.20 L480.40,706.30 L476.30,710.40 L472.20,706.30 Z" fill="#111" stroke="#111" stroke-width="0"/>
<path d="M501.50,706.90 L505.60,711.00 L501.50,715.10 L497.40,711.00 Z" fill="#111" stroke="#111" stroke-width="0"/>
<path d="M380.80,681.80 L384.80,689.00 L376.80,689.00 Z" fill="#111" stroke="#111" stroke-width="0"/>
<path d="M405.40,698.10 L409.40,705.30 L401.40,705.30 Z" fill="#111" stroke="#111" stroke-width="0"/>
<path d="M428.80,703.00 L432.80,710.20 L424.80,710.20 Z" fill="#111" stroke="#111" stroke-width="0"/>
<path d="M453.80,706.00 L457.80,713.20 L449.80,713.20 Z" fill="#111" stroke="#111" stroke-width="0"/>
<path d="M476.30,707.50 L480.30,714.70 L472.30,714.70 Z" fill="#111" stroke="#111" stroke-width="0"/>
<path d="M501.50,708.00 L505.50,715.20 L497.50,715.20 Z" fill="#111" stroke="#111" stroke-width="0"/>
<circle cx="380.80" cy="619.40" r="3.80" fill="#111" stroke="#111" stroke-width="0"/>
<circle cx="405.40" cy="656.00" r="3.80" fill="#111" stroke="#111" stroke-width="0"/>
<circle cx="428.80" cy="689.00" r="3.80" fill="#111" stroke="#111" stroke-width="0"/>
<circle cx="453.80" cy="706.90" r="3.80" fill="#111" stroke="#111" stroke-width="0"/>
<circle cx="476.30" cy="712.00" r="3.80" fill="#111" stroke="#111" stroke-width="0"/>
<circle cx="501.50" cy="712.50" r="3.80" fill="#111" stroke="#111" stroke-width="0"/>
<path d="M455.50,640.50 L459.20,644.20 L455.50,647.90 L451.80,644.20 Z" fill="#fff" stroke="#111" stroke-width="1.2"/>
<path d="M469.90,640.10 L474.00,644.20 L469.90,648.30 L465.80,644.20 Z" fill="#111" stroke="#111" stroke-width="0"/>
<path d="M455.50,653.60 L459.10,660.80 L451.90,660.80 Z" fill="#fff" stroke="#111" stroke-width="1.2"/>
<path d="M469.90,653.60 L473.90,660.80 L465.90,660.80 Z" fill="#111" stroke="#111" stroke-width="0"/>
<circle cx="455.50" cy="671.30" r="3.60" fill="#fff" stroke="#111" stroke-width="1.2"/>
<circle cx="469.90" cy="671.30" r="3.80" fill="#111" stroke="#111" stroke-width="0"/>
<text x="480.60" y="647.60" font-size="10.4" text-anchor="start" font-weight="bold" >IgM</text>
<text x="480.60" y="660.80" font-size="10.4" text-anchor="start" font-weight="bold" >IgG1</text>
<text x="480.60" y="674.80" font-size="10.4" text-anchor="start" font-weight="bold" >IgG2c</text>
<text x="359.30" y="15.80" font-size="10.7" text-anchor="middle" font-weight="bold" >no antigen</text>
<text x="457.70" y="15.80" font-size="10.7" text-anchor="middle" font-weight="bold" >+OVA</text>
<g filter="url(#bl)">
<ellipse cx="382.40" cy="53.30" rx="13.05" ry="7" fill="#000" opacity="0.052"/>
<path d="M309.60,51.10 L321.56,50.20 L331.53,48.70 L341.50,46.10 L349.47,43.60 L356.45,41.10 L361.43,39.30 L365.92,38.30 L368.91,39.10 L370.80,41.50 L371.30,43.30 L371.30,66.30 L370.20,69.50 L367.41,70.50 L354.45,70.40 L339.50,70.10 L324.55,69.60 L309.60,68.80 Z" fill="#141414"/>
<path d="M312.59,54.30 L321.56,53.40 L331.53,51.90 L341.50,49.20 L349.47,46.70 L356.45,44.30 L361.43,42.60 L364.72,41.90 L367.01,42.90 L368.41,45.30 L368.61,64.30 L367.21,66.60 L354.45,66.60 L339.50,66.30 L324.55,65.70 L312.59,64.90 Z" fill="url(#gi)"/>
<path d="M331.53,58.30 L341.50,54.30 L351.46,49.80 L359.44,45.80 L364.42,43.80 L367.01,46.30 L366.81,59.30 L364.92,63.50 L353.46,63.90 L341.50,62.90 L334.52,61.30 Z" fill="#cbcbcb"/>
<ellipse cx="346.68" cy="58.50" rx="7.6" ry="4.4" fill="#e9e9e9"/>
<ellipse cx="346.68" cy="58.50" rx="4.3" ry="2.5" fill="#5c5c5c"/>
<ellipse cx="346.68" cy="58.50" rx="2.4" ry="1.4" fill="#353535"/>
<ellipse cx="481.50" cy="53.30" rx="14.61" ry="7" fill="#000" opacity="0.071"/>
<path d="M409.10,51.10 L420.98,50.20 L430.89,48.70 L440.79,46.10 L448.71,43.60 L455.65,41.10 L460.60,39.30 L465.05,38.30 L468.02,39.10 L469.91,41.50 L470.40,43.30 L470.40,66.30 L469.31,69.50 L466.54,70.50 L453.66,70.40 L438.81,70.10 L423.95,69.60 L409.10,68.80 Z" fill="#141414"/>
<path d="M412.07,54.30 L420.98,53.40 L430.89,51.90 L440.79,49.20 L448.71,46.70 L455.65,44.30 L460.60,42.60 L463.86,41.90 L466.14,42.90 L467.53,45.30 L467.73,64.30 L466.34,66.60 L453.66,66.60 L438.81,66.30 L423.95,65.70 L412.07,64.90 Z" fill="url(#gi)"/>
<path d="M430.89,58.30 L440.79,54.30 L450.69,49.80 L458.62,45.80 L463.57,43.80 L466.14,46.30 L465.94,59.30 L464.06,63.50 L452.67,63.90 L440.79,62.90 L433.86,61.30 Z" fill="#cbcbcb"/>
<ellipse cx="445.94" cy="58.50" rx="7.6" ry="4.4" fill="#e9e9e9"/>
<ellipse cx="445.94" cy="58.50" rx="4.3" ry="2.5" fill="#5c5c5c"/>
<ellipse cx="445.94" cy="58.50" rx="2.4" ry="1.4" fill="#353535"/>
<ellipse cx="382.40" cy="142.10" rx="13.56" ry="7" fill="#000" opacity="0.058"/>
<path d="M309.60,139.90 L321.56,139.00 L331.53,137.50 L341.50,134.90 L349.47,132.40 L356.45,129.90 L361.43,128.10 L365.92,127.10 L368.91,127.90 L370.80,130.30 L371.30,132.10 L371.30,155.10 L370.20,158.30 L367.41,159.30 L354.45,159.20 L339.50,158.90 L324.55,158.40 L309.60,157.60 Z" fill="#141414"/>
<path d="M312.59,143.10 L321.56,142.20 L331.53,140.70 L341.50,138.00 L349.47,135.50 L356.45,133.10 L361.43,131.40 L364.72,130.70 L367.01,131.70 L368.41,134.10 L368.61,153.10 L367.21,155.40 L354.45,155.40 L339.50,155.10 L324.55,154.50 L312.59,153.70 Z" fill="url(#gi)"/>
<path d="M331.53,147.10 L341.50,143.10 L351.46,138.60 L359.44,134.60 L364.42,132.60 L367.01,135.10 L366.81,148.10 L364.92,152.30 L353.46,152.70 L341.50,151.70 L334.52,150.10 Z" fill="#cbcbcb"/>
<ellipse cx="346.68" cy="147.30" rx="7.6" ry="4.4" fill="#e9e9e9"/>
<ellipse cx="346.68" cy="147.30" rx="4.3" ry="2.5" fill="#5c5c5c"/>
<ellipse cx="346.68" cy="147.30" rx="2.4" ry="1.4" fill="#353535"/>
<ellipse cx="481.50" cy="142.10" rx="22.14" ry="7" fill="#000" opacity="0.159"/>
<path d="M409.10,139.90 L420.98,139.00 L430.89,137.50 L440.79,134.90 L448.71,132.40 L455.65,129.90 L460.60,128.10 L465.05,127.10 L468.02,127.90 L469.91,130.30 L470.40,132.10 L470.40,155.10 L469.31,158.30 L466.54,159.30 L453.66,159.20 L438.81,158.90 L423.95,158.40 L409.10,157.60 Z" fill="#141414"/>
<path d="M412.07,143.10 L420.98,142.20 L430.89,140.70 L440.79,138.00 L448.71,135.50 L455.65,133.10 L460.60,131.40 L463.86,130.70 L466.14,131.70 L467.53,134.10 L467.73,153.10 L466.34,155.40 L453.66,155.40 L438.81,155.10 L423.95,154.50 L412.07,153.70 Z" fill="url(#gi)"/>
<path d="M430.89,147.10 L440.79,143.10 L450.69,138.60 L458.62,134.60 L463.57,132.60 L466.14,135.10 L465.94,148.10 L464.06,152.30 L452.67,152.70 L440.79,151.70 L433.86,150.10 Z" fill="#cbcbcb"/>
<ellipse cx="445.94" cy="147.30" rx="7.6" ry="4.4" fill="#e9e9e9"/>
<ellipse cx="445.94" cy="147.30" rx="4.3" ry="2.5" fill="#5c5c5c"/>
<ellipse cx="445.94" cy="147.30" rx="2.4" ry="1.4" fill="#353535"/>
<ellipse cx="382.40" cy="232.20" rx="13.23" ry="7" fill="#000" opacity="0.054"/>
<path d="M309.60,230.00 L321.56,229.10 L331.53,227.60 L341.50,225.00 L349.47,222.50 L356.45,220.00 L361.43,218.20 L365.92,217.20 L368.91,218.00 L370.80,220.40 L371.30,222.20 L371.30,245.20 L370.20,248.40 L367.41,249.40 L354.45,249.30 L339.50,249.00 L324.55,248.50 L309.60,247.70 Z" fill="#141414"/>
<path d="M312.59,233.20 L321.56,232.30 L331.53,230.80 L341.50,228.10 L349.47,225.60 L356.45,223.20 L361.43,221.50 L364.72,220.80 L367.01,221.80 L368.41,224.20 L368.61,243.20 L367.21,245.50 L354.45,245.50 L339.50,245.20 L324.55,244.60 L312.59,243.80 Z" fill="url(#gi)"/>
<path d="M331.53,237.20 L341.50,233.20 L351.46,228.70 L359.44,224.70 L364.42,222.70 L367.01,225.20 L366.81,238.20 L364.92,242.40 L353.46,242.80 L341.50,241.80 L334.52,240.20 Z" fill="#cbcbcb"/>
<ellipse cx="346.68" cy="237.40" rx="7.6" ry="4.4" fill="#e9e9e9"/>
<ellipse cx="346.68" cy="237.40" rx="4.3" ry="2.5" fill="#5c5c5c"/>
<ellipse cx="346.68" cy="237.40" rx="2.4" ry="1.4" fill="#353535"/>
<ellipse cx="481.50" cy="232.20" rx="16.11" ry="7" fill="#000" opacity="0.088"/>
<path d="M409.10,230.00 L420.98,229.10 L430.89,227.60 L440.79,225.00 L448.71,222.50 L455.65,220.00 L460.60,218.20 L465.05,217.20 L468.02,218.00 L469.91,220.40 L470.40,222.20 L470.40,245.20 L469.31,248.40 L466.54,249.40 L453.66,249.30 L438.81,249.00 L423.95,248.50 L409.10,247.70 Z" fill="#141414"/>
<path d="M412.07,233.20 L420.98,232.30 L430.89,230.80 L440.79,228.10 L448.71,225.60 L455.65,223.20 L460.60,221.50 L463.86,220.80 L466.14,221.80 L467.53,224.20 L467.73,243.20 L466.34,245.50 L453.66,245.50 L438.81,245.20 L423.95,244.60 L412.07,243.80 Z" fill="url(#gi)"/>
<path d="M430.89,237.20 L440.79,233.20 L450.69,228.70 L458.62,224.70 L463.57,222.70 L466.14,225.20 L465.94,238.20 L464.06,242.40 L452.67,242.80 L440.79,241.80 L433.86,240.20 Z" fill="#cbcbcb"/>
<ellipse cx="445.94" cy="237.40" rx="7.6" ry="4.4" fill="#e9e9e9"/>
<ellipse cx="445.94" cy="237.40" rx="4.3" ry="2.5" fill="#5c5c5c"/>
<ellipse cx="445.94" cy="237.40" rx="2.4" ry="1.4" fill="#353535"/>
<ellipse cx="382.40" cy="322.20" rx="13.59" ry="7" fill="#000" opacity="0.059"/>
<path d="M309.60,320.00 L321.56,319.10 L331.53,317.60 L341.50,315.00 L349.47,312.50 L356.45,310.00 L361.43,308.20 L365.92,307.20 L368.91,308.00 L370.80,310.40 L371.30,312.20 L371.30,335.20 L370.20,338.40 L367.41,339.40 L354.45,339.30 L339.50,339.00 L324.55,338.50 L309.60,337.70 Z" fill="#141414"/>
<path d="M312.59,323.20 L321.56,322.30 L331.53,320.80 L341.50,318.10 L349.47,315.60 L356.45,313.20 L361.43,311.50 L364.72,310.80 L367.01,311.80 L368.41,314.20 L368.61,333.20 L367.21,335.50 L354.45,335.50 L339.50,335.20 L324.55,334.60 L312.59,333.80 Z" fill="url(#gi)"/>
<path d="M331.53,327.20 L341.50,323.20 L351.46,318.70 L359.44,314.70 L364.42,312.70 L367.01,315.20 L366.81,328.20 L364.92,332.40 L353.46,332.80 L341.50,331.80 L334.52,330.20 Z" fill="#cbcbcb"/>
<ellipse cx="346.68" cy="327.40" rx="7.6" ry="4.4" fill="#e9e9e9"/>
<ellipse cx="346.68" cy="327.40" rx="4.3" ry="2.5" fill="#5c5c5c"/>
<ellipse cx="346.68" cy="327.40" rx="2.4" ry="1.4" fill="#353535"/>
<ellipse cx="481.50" cy="322.20" rx="18.84" ry="7" fill="#000" opacity="0.120"/>
<path d="M409.10,320.00 L420.98,319.10 L430.89,317.60 L440.79,315.00 L448.71,312.50 L455.65,310.00 L460.60,308.20 L465.05,307.20 L468.02,308.00 L469.91,310.40 L470.40,312.20 L470.40,335.20 L469.31,338.40 L466.54,339.40 L453.66,339.30 L438.81,339.00 L423.95,338.50 L409.10,337.70 Z" fill="#141414"/>
<path d="M412.07,323.20 L420.98,322.30 L430.89,320.80 L440.79,318.10 L448.71,315.60 L455.65,313.20 L460.60,311.50 L463.86,310.80 L466.14,311.80 L467.53,314.20 L467.73,333.20 L466.34,335.50 L453.66,335.50 L438.81,335.20 L423.95,334.60 L412.07,333.80 Z" fill="url(#gi)"/>
<path d="M430.89,327.20 L440.79,323.20 L450.69,318.70 L458.62,314.70 L463.57,312.70 L466.14,315.20 L465.94,328.20 L464.06,332.40 L452.67,332.80 L440.79,331.80 L433.86,330.20 Z" fill="#cbcbcb"/>
<ellipse cx="445.94" cy="327.40" rx="7.6" ry="4.4" fill="#e9e9e9"/>
<ellipse cx="445.94" cy="327.40" rx="4.3" ry="2.5" fill="#5c5c5c"/>
<ellipse cx="445.94" cy="327.40" rx="2.4" ry="1.4" fill="#353535"/>
</g>
<path d="M375.6 57.3h.8v.8h-.8zM371.8 58.2h.8v.8h-.8zM380.1 52.1h.8v.8h-.8zM379.4 54.7h.8v.8h-.8zM371.4 51.9h.8v.8h-.8zM372.0 53.9h.8v.8h-.8zM377.6 54.5h.8v.8h-.8zM373.9 51.3h.8v.8h-.8zM382.8 60.5h.8v.8h-.8zM377.0 51.2h.8v.8h-.8zM375.0 55.9h.8v.8h-.8zM372.8 56.0h.8v.8h-.8zM391.3 57.4h.8v.8h-.8zM373.3 47.9h.8v.8h-.8zM376.5 49.9h.8v.8h-.8zM380.5 55.1h.8v.8h-.8zM373.7 53.9h.8v.8h-.8zM384.6 48.6h.8v.8h-.8zM381.5 55.4h.8v.8h-.8zM378.2 50.5h.8v.8h-.8zM385.4 63.7h.8v.8h-.8zM374.3 48.4h.8v.8h-.8zM396.0 49.0h.8v.8h-.8zM386.7 49.1h.8v.8h-.8zM372.4 64.8h.8v.8h-.8zM377.4 53.4h.8v.8h-.8zM379.0 50.3h.8v.8h-.8zM371.4 49.9h.8v.8h-.8zM381.2 45.1h.8v.8h-.8zM396.0 48.6h.8v.8h-.8zM381.8 61.3h.8v.8h-.8zM381.4 43.0h.8v.8h-.8zM405.8 58.1h.8v.8h-.8zM378.6 52.4h.8v.8h-.8zM385.5 51.4h.8v.8h-.8zM383.5 64.2h.8v.8h-.8zM374.9 52.9h.8v.8h-.8zM376.8 52.8h.8v.8h-.8zM378.4 52.3h.8v.8h-.8zM373.1 54.4h.8v.8h-.8zM388.5 54.9h.8v.8h-.8zM372.6 53.4h.8v.8h-.8zM395.6 61.0h.8v.8h-.8zM371.9 48.3h.8v.8h-.8zM396.8 56.4h.8v.8h-.8zM391.5 57.1h.8v.8h-.8zM377.4 50.3h.8v.8h-.8zM376.3 62.3h.8v.8h-.8zM372.9 46.1h.8v.8h-.8zM373.2 53.7h.8v.8h-.8zM378.9 57.1h.8v.8h-.8zM381.6 53.3h.8v.8h-.8zM377.4 53.7h.8v.8h-.8zM376.5 42.4h.8v.8h-.8zM385.0 47.2h.8v.8h-.8zM379.6 47.4h.8v.8h-.8zM371.6 49.2h.8v.8h-.8zM398.6 56.4h.8v.8h-.8zM390.2 39.5h.8v.8h-.8zM376.9 51.5h.8v.8h-.8zM383.0 54.9h.8v.8h-.8zM371.7 55.9h.8v.8h-.8zM373.0 54.5h.8v.8h-.8zM375.9 53.4h.8v.8h-.8zM372.9 53.3h.8v.8h-.8zM372.2 52.7h.8v.8h-.8zM395.9 54.6h.8v.8h-.8zM382.4 55.9h.8v.8h-.8zM376.0 56.2h.8v.8h-.8zM376.4 60.0h.8v.8h-.8zM378.5 51.1h.8v.8h-.8zM372.2 53.5h.8v.8h-.8zM376.0 52.5h.8v.8h-.8zM373.0 61.4h.8v.8h-.8zM371.2 58.0h.8v.8h-.8zM372.8 51.7h.8v.8h-.8zM380.3 59.8h.8v.8h-.8zM394.9 51.3h.8v.8h-.8zM376.4 49.8h.8v.8h-.8zM373.1 54.0h.8v.8h-.8zM389.1 45.1h.8v.8h-.8zM375.7 54.8h.8v.8h-.8zM394.0 58.1h.8v.8h-.8zM387.1 42.1h.8v.8h-.8zM374.0 49.1h.8v.8h-.8zM371.3 52.9h.8v.8h-.8zM371.2 52.7h.8v.8h-.8zM385.1 58.0h.8v.8h-.8zM374.0 55.7h.8v.8h-.8zM373.5 55.0h.8v.8h-.8zM398.7 64.3h.8v.8h-.8zM393.0 42.7h.8v.8h-.8zM390.3 54.6h.8v.8h-.8zM372.0 48.4h.8v.8h-.8zM389.3 40.8h.8v.8h-.8zM387.6 49.3h.8v.8h-.8zM389.7 53.9h.8v.8h-.8zM375.8 57.3h.8v.8h-.8zM377.0 40.9h.8v.8h-.8zM377.1 60.8h.8v.8h-.8zM373.1 51.0h.8v.8h-.8zM372.5 58.7h.8v.8h-.8zM390.7 65.6h.8v.8h-.8zM372.8 58.9h.8v.8h-.8zM383.8 38.6h.8v.8h-.8zM376.1 50.9h.8v.8h-.8zM371.1 52.7h.8v.8h-.8zM403.6 44.5h.8v.8h-.8zM377.8 59.8h.8v.8h-.8zM373.8 47.3h.8v.8h-.8zM374.4 52.4h.8v.8h-.8zM381.5 57.3h.8v.8h-.8zM374.5 51.2h.8v.8h-.8zM399.9 55.5h.8v.8h-.8zM376.2 47.2h.8v.8h-.8zM399.2 56.1h.8v.8h-.8zM377.5 58.4h.8v.8h-.8zM380.0 50.2h.8v.8h-.8zM379.8 59.0h.8v.8h-.8zM373.3 53.9h.8v.8h-.8zM370.9 54.0h.8v.8h-.8zM378.6 50.3h.8v.8h-.8zM386.5 48.0h.8v.8h-.8zM379.7 51.7h.8v.8h-.8zM380.7 53.9h.8v.8h-.8zM380.8 50.8h.8v.8h-.8zM374.3 52.0h.8v.8h-.8zM379.4 62.3h.8v.8h-.8zM380.8 54.1h.8v.8h-.8zM378.0 42.2h.8v.8h-.8zM382.3 46.5h.8v.8h-.8zM385.1 53.0h.8v.8h-.8zM378.2 47.6h.8v.8h-.8zM405.1 51.1h.8v.8h-.8zM385.4 63.8h.8v.8h-.8zM374.5 45.7h.8v.8h-.8zM380.8 63.1h.8v.8h-.8zM372.7 50.4h.8v.8h-.8zM372.5 51.8h.8v.8h-.8zM374.2 53.9h.8v.8h-.8zM371.8 49.8h.8v.8h-.8zM398.3 40.9h.8v.8h-.8zM372.9 52.0h.8v.8h-.8zM372.8 47.2h.8v.8h-.8zM396.7 58.7h.8v.8h-.8zM377.0 38.4h.8v.8h-.8zM392.4 55.1h.8v.8h-.8zM373.0 48.6h.8v.8h-.8zM375.9 55.7h.8v.8h-.8zM373.5 50.4h.8v.8h-.8zM371.1 59.2h.8v.8h-.8zM380.6 52.3h.8v.8h-.8zM375.8 53.6h.8v.8h-.8zM382.7 51.2h.8v.8h-.8zM389.6 56.5h.8v.8h-.8zM374.6 52.9h.8v.8h-.8zM371.4 53.9h.8v.8h-.8zM372.6 50.0h.8v.8h-.8zM377.5 61.1h.8v.8h-.8zM374.5 48.9h.8v.8h-.8zM372.8 58.2h.8v.8h-.8zM385.4 49.4h.8v.8h-.8zM372.0 59.3h.8v.8h-.8zM377.6 56.0h.8v.8h-.8zM371.8 58.7h.8v.8h-.8zM390.4 49.6h.8v.8h-.8zM372.0 54.3h.8v.8h-.8zM394.8 51.1h.8v.8h-.8zM378.2 49.9h.8v.8h-.8zM402.4 62.7h.8v.8h-.8zM374.7 57.1h.8v.8h-.8zM374.2 57.3h.8v.8h-.8zM372.3 54.0h.8v.8h-.8zM373.6 54.5h.8v.8h-.8zM375.4 50.6h.8v.8h-.8zM375.0 60.6h.8v.8h-.8zM379.3 55.4h.8v.8h-.8zM371.1 56.6h.8v.8h-.8zM374.4 60.6h.8v.8h-.8zM380.6 54.2h.8v.8h-.8zM373.4 43.2h.8v.8h-.8zM372.3 54.9h.8v.8h-.8zM391.5 45.8h.8v.8h-.8zM392.6 56.8h.8v.8h-.8zM376.9 45.8h.8v.8h-.8zM376.0 57.0h.8v.8h-.8zM383.1 45.4h.8v.8h-.8zM377.2 52.4h.8v.8h-.8zM372.6 54.5h.8v.8h-.8zM371.8 53.1h.8v.8h-.8zM373.0 50.0h.8v.8h-.8zM372.0 57.9h.8v.8h-.8zM384.3 43.1h.8v.8h-.8z" fill="#444"/>
<path d="M327.0 49.6h.8v.8h-.8zM337.2 46.6h.8v.8h-.8zM369.7 39.4h.8v.8h-.8zM331.6 45.7h.8v.8h-.8zM338.9 46.3h.8v.8h-.8zM325.9 46.6h.8v.8h-.8zM312.2 50.3h.8v.8h-.8zM342.3 46.0h.8v.8h-.8zM353.8 41.5h.8v.8h-.8zM318.8 50.0h.8v.8h-.8zM312.3 50.0h.8v.8h-.8zM359.8 38.2h.8v.8h-.8zM340.8 45.6h.8v.8h-.8zM364.8 37.1h.8v.8h-.8zM323.8 49.6h.8v.8h-.8zM361.3 39.6h.8v.8h-.8zM348.3 37.3h.8v.8h-.8zM355.8 40.5h.8v.8h-.8zM350.3 41.9h.8v.8h-.8zM326.0 49.1h.8v.8h-.8zM355.3 40.5h.8v.8h-.8zM351.9 42.9h.8v.8h-.8zM349.3 43.4h.8v.8h-.8zM328.4 49.2h.8v.8h-.8zM313.3 50.9h.8v.8h-.8zM327.6 48.0h.8v.8h-.8zM338.4 45.5h.8v.8h-.8zM367.5 33.8h.8v.8h-.8zM360.3 38.8h.8v.8h-.8zM368.0 38.9h.8v.8h-.8zM318.4 48.1h.8v.8h-.8zM341.0 46.1h.8v.8h-.8zM323.9 49.1h.8v.8h-.8zM340.0 46.0h.8v.8h-.8zM318.3 50.2h.8v.8h-.8zM356.0 40.8h.8v.8h-.8zM366.9 38.3h.8v.8h-.8zM333.9 46.1h.8v.8h-.8zM331.9 47.3h.8v.8h-.8zM361.2 39.3h.8v.8h-.8zM325.0 49.9h.8v.8h-.8zM368.7 38.0h.8v.8h-.8zM348.6 41.9h.8v.8h-.8zM312.7 49.8h.8v.8h-.8zM356.1 33.5h.8v.8h-.8zM317.5 50.1h.8v.8h-.8zM328.0 49.3h.8v.8h-.8zM328.2 46.5h.8v.8h-.8zM319.9 50.2h.8v.8h-.8zM323.2 49.6h.8v.8h-.8zM337.4 44.3h.8v.8h-.8zM315.2 50.4h.8v.8h-.8zM344.8 44.0h.8v.8h-.8zM342.0 45.1h.8v.8h-.8zM313.4 50.6h.8v.8h-.8zM348.5 41.4h.8v.8h-.8zM326.3 49.8h.8v.8h-.8zM362.0 38.4h.8v.8h-.8zM311.6 50.7h.8v.8h-.8zM309.6 49.1h.8v.8h-.8zM360.6 38.1h.8v.8h-.8zM319.1 48.4h.8v.8h-.8zM367.8 38.8h.8v.8h-.8zM343.7 37.9h.8v.8h-.8zM324.0 48.7h.8v.8h-.8zM325.2 49.2h.8v.8h-.8zM316.5 49.7h.8v.8h-.8zM323.4 49.6h.8v.8h-.8zM328.2 46.8h.8v.8h-.8zM339.0 46.4h.8v.8h-.8zM369.0 35.2h.8v.8h-.8zM351.3 42.3h.8v.8h-.8zM350.8 40.0h.8v.8h-.8zM335.6 47.6h.8v.8h-.8zM358.9 40.4h.8v.8h-.8zM328.9 48.1h.8v.8h-.8zM323.3 50.2h.8v.8h-.8zM321.2 49.6h.8v.8h-.8zM350.7 42.9h.8v.8h-.8zM369.8 40.1h.8v.8h-.8zM313.3 49.3h.8v.8h-.8zM371.2 40.2h.8v.8h-.8zM321.1 43.5h.8v.8h-.8zM333.0 47.9h.8v.8h-.8zM320.1 49.7h.8v.8h-.8zM317.2 50.8h.8v.8h-.8zM331.6 48.1h.8v.8h-.8zM338.9 45.2h.8v.8h-.8zM321.5 45.7h.8v.8h-.8zM359.8 38.4h.8v.8h-.8zM311.8 49.0h.8v.8h-.8zM365.1 37.8h.8v.8h-.8zM368.8 38.7h.8v.8h-.8zM326.6 43.1h.8v.8h-.8zM366.2 35.1h.8v.8h-.8zM339.0 45.1h.8v.8h-.8zM333.5 48.5h.8v.8h-.8zM320.9 49.4h.8v.8h-.8zM360.4 39.7h.8v.8h-.8zM332.0 47.4h.8v.8h-.8zM321.8 50.2h.8v.8h-.8zM343.8 44.9h.8v.8h-.8zM364.2 37.4h.8v.8h-.8zM340.4 46.6h.8v.8h-.8zM324.1 48.8h.8v.8h-.8zM361.9 38.7h.8v.8h-.8zM361.6 39.2h.8v.8h-.8zM321.9 49.1h.8v.8h-.8zM319.1 49.6h.8v.8h-.8zM370.9 40.4h.8v.8h-.8zM359.6 34.6h.8v.8h-.8zM360.2 37.3h.8v.8h-.8zM312.1 51.1h.8v.8h-.8zM345.6 44.6h.8v.8h-.8zM363.1 38.4h.8v.8h-.8zM316.1 50.6h.8v.8h-.8zM323.1 49.9h.8v.8h-.8zM346.6 44.3h.8v.8h-.8zM310.3 50.6h.8v.8h-.8zM322.2 48.9h.8v.8h-.8zM313.5 50.2h.8v.8h-.8zM315.2 50.3h.8v.8h-.8zM334.9 47.9h.8v.8h-.8zM344.6 44.5h.8v.8h-.8zM363.0 38.2h.8v.8h-.8zM322.2 43.2h.8v.8h-.8zM335.8 47.4h.8v.8h-.8zM319.6 45.2h.8v.8h-.8zM349.2 43.6h.8v.8h-.8zM340.8 46.3h.8v.8h-.8zM341.8 45.8h.8v.8h-.8zM369.4 39.6h.8v.8h-.8zM367.9 30.5h.8v.8h-.8zM333.6 48.3h.8v.8h-.8zM360.6 38.9h.8v.8h-.8zM361.9 37.9h.8v.8h-.8zM323.1 49.2h.8v.8h-.8zM324.9 49.2h.8v.8h-.8zM312.1 42.8h.8v.8h-.8zM316.9 50.1h.8v.8h-.8zM348.4 43.9h.8v.8h-.8zM350.3 42.5h.8v.8h-.8zM311.0 50.4h.8v.8h-.8zM357.8 40.0h.8v.8h-.8zM338.8 46.6h.8v.8h-.8zM336.9 47.2h.8v.8h-.8zM348.9 42.5h.8v.8h-.8zM313.0 50.3h.8v.8h-.8zM368.4 37.8h.8v.8h-.8zM360.0 38.5h.8v.8h-.8zM340.0 44.4h.8v.8h-.8zM367.1 35.5h.8v.8h-.8zM356.3 40.2h.8v.8h-.8zM318.5 48.8h.8v.8h-.8zM322.5 50.3h.8v.8h-.8zM320.9 49.3h.8v.8h-.8zM351.6 42.6h.8v.8h-.8zM342.4 45.7h.8v.8h-.8zM363.5 37.8h.8v.8h-.8zM371.0 40.9h.8v.8h-.8zM358.9 40.2h.8v.8h-.8zM356.9 37.9h.8v.8h-.8zM355.6 39.8h.8v.8h-.8zM370.4 40.2h.8v.8h-.8zM328.9 49.1h.8v.8h-.8zM336.3 47.7h.8v.8h-.8zM317.8 50.5h.8v.8h-.8zM331.5 44.6h.8v.8h-.8zM323.5 48.9h.8v.8h-.8zM338.9 46.3h.8v.8h-.8zM324.7 49.7h.8v.8h-.8zM357.9 40.5h.8v.8h-.8zM310.3 50.5h.8v.8h-.8zM337.0 46.4h.8v.8h-.8zM325.0 49.7h.8v.8h-.8zM324.3 43.7h.8v.8h-.8zM310.4 48.9h.8v.8h-.8zM347.2 43.8h.8v.8h-.8zM359.9 39.7h.8v.8h-.8zM364.6 38.1h.8v.8h-.8zM310.0 50.4h.8v.8h-.8zM337.6 45.9h.8v.8h-.8zM324.0 49.2h.8v.8h-.8zM361.8 39.3h.8v.8h-.8zM343.8 43.9h.8v.8h-.8zM349.3 43.2h.8v.8h-.8zM364.0 38.2h.8v.8h-.8zM368.0 39.1h.8v.8h-.8zM364.0 38.6h.8v.8h-.8zM352.4 42.1h.8v.8h-.8zM338.6 46.2h.8v.8h-.8zM354.4 40.7h.8v.8h-.8zM322.7 50.0h.8v.8h-.8zM311.3 43.5h.8v.8h-.8zM330.9 43.4h.8v.8h-.8zM348.8 43.9h.8v.8h-.8zM313.7 50.2h.8v.8h-.8zM364.7 31.4h.8v.8h-.8zM366.1 38.2h.8v.8h-.8zM311.7 51.1h.8v.8h-.8zM348.8 43.4h.8v.8h-.8zM315.6 49.6h.8v.8h-.8zM329.3 49.1h.8v.8h-.8zM353.8 42.2h.8v.8h-.8zM369.2 37.5h.8v.8h-.8zM335.1 48.0h.8v.8h-.8zM331.0 48.7h.8v.8h-.8zM315.2 49.7h.8v.8h-.8zM309.7 50.8h.8v.8h-.8zM339.9 45.0h.8v.8h-.8zM321.0 49.5h.8v.8h-.8zM367.9 39.1h.8v.8h-.8zM352.8 42.2h.8v.8h-.8zM358.3 40.7h.8v.8h-.8zM348.4 43.5h.8v.8h-.8zM314.9 50.1h.8v.8h-.8zM322.3 50.2h.8v.8h-.8zM364.2 36.6h.8v.8h-.8zM342.4 46.0h.8v.8h-.8zM329.8 47.4h.8v.8h-.8zM350.5 43.5h.8v.8h-.8zM345.4 44.5h.8v.8h-.8zM364.3 38.9h.8v.8h-.8zM361.7 38.8h.8v.8h-.8zM324.9 49.4h.8v.8h-.8zM321.3 49.3h.8v.8h-.8zM315.9 50.4h.8v.8h-.8zM358.7 40.5h.8v.8h-.8zM321.7 50.1h.8v.8h-.8zM311.7 50.8h.8v.8h-.8zM352.5 72.1h.8v.8h-.8zM338.2 70.1h.8v.8h-.8zM318.4 70.2h.8v.8h-.8zM355.4 71.1h.8v.8h-.8zM365.7 71.9h.8v.8h-.8zM355.9 71.1h.8v.8h-.8zM335.6 70.2h.8v.8h-.8zM364.0 72.4h.8v.8h-.8zM357.4 71.1h.8v.8h-.8zM351.6 72.6h.8v.8h-.8zM349.2 71.3h.8v.8h-.8zM348.4 70.6h.8v.8h-.8zM315.6 71.0h.8v.8h-.8zM353.7 71.4h.8v.8h-.8zM348.5 70.3h.8v.8h-.8zM337.7 71.3h.8v.8h-.8zM348.0 71.8h.8v.8h-.8zM367.1 71.5h.8v.8h-.8zM320.9 70.6h.8v.8h-.8zM333.6 71.6h.8v.8h-.8zM339.9 70.4h.8v.8h-.8zM343.2 70.2h.8v.8h-.8zM319.5 69.9h.8v.8h-.8zM341.7 72.9h.8v.8h-.8zM315.8 70.5h.8v.8h-.8zM353.9 71.1h.8v.8h-.8zM341.3 71.6h.8v.8h-.8zM341.8 71.9h.8v.8h-.8zM335.0 70.7h.8v.8h-.8zM351.9 70.6h.8v.8h-.8zM333.9 70.0h.8v.8h-.8zM370.4 70.4h.8v.8h-.8zM331.6 70.7h.8v.8h-.8zM334.3 70.3h.8v.8h-.8zM310.4 69.9h.8v.8h-.8zM352.8 71.0h.8v.8h-.8zM331.4 69.9h.8v.8h-.8zM355.4 71.3h.8v.8h-.8zM367.7 71.3h.8v.8h-.8zM359.1 70.6h.8v.8h-.8zM333.8 70.1h.8v.8h-.8zM357.6 71.0h.8v.8h-.8zM359.6 71.3h.8v.8h-.8zM344.3 71.2h.8v.8h-.8zM323.6 70.6h.8v.8h-.8zM349.1 70.5h.8v.8h-.8zM360.2 71.0h.8v.8h-.8zM327.8 70.9h.8v.8h-.8zM343.5 71.8h.8v.8h-.8zM331.5 71.4h.8v.8h-.8zM362.2 70.6h.8v.8h-.8zM325.3 70.8h.8v.8h-.8zM335.9 70.0h.8v.8h-.8zM354.2 70.5h.8v.8h-.8zM327.0 69.7h.8v.8h-.8zM339.2 71.1h.8v.8h-.8zM336.1 71.1h.8v.8h-.8zM332.0 71.2h.8v.8h-.8zM367.0 70.7h.8v.8h-.8zM360.8 70.8h.8v.8h-.8zM365.6 70.6h.8v.8h-.8zM361.0 71.1h.8v.8h-.8zM348.7 70.5h.8v.8h-.8zM368.4 70.3h.8v.8h-.8zM350.1 70.3h.8v.8h-.8zM318.4 69.8h.8v.8h-.8zM324.0 69.8h.8v.8h-.8zM319.0 70.4h.8v.8h-.8zM365.5 70.7h.8v.8h-.8zM364.7 71.2h.8v.8h-.8zM347.2 70.6h.8v.8h-.8zM364.8 72.2h.8v.8h-.8zM358.3 70.9h.8v.8h-.8zM352.4 71.0h.8v.8h-.8zM342.4 70.2h.8v.8h-.8zM364.1 71.8h.8v.8h-.8zM343.9 70.3h.8v.8h-.8zM318.2 70.1h.8v.8h-.8zM340.1 71.4h.8v.8h-.8zM318.5 69.8h.8v.8h-.8z" fill="#222"/>
<path d="M479.2 46.6h.8v.8h-.8zM497.0 53.4h.8v.8h-.8zM470.1 55.7h.8v.8h-.8zM481.3 47.9h.8v.8h-.8zM484.9 56.6h.8v.8h-.8zM477.4 49.1h.8v.8h-.8zM483.8 57.2h.8v.8h-.8zM470.4 48.6h.8v.8h-.8zM475.5 59.0h.8v.8h-.8zM479.0 52.6h.8v.8h-.8zM501.0 66.8h.8v.8h-.8zM483.4 55.3h.8v.8h-.8zM475.6 56.3h.8v.8h-.8zM478.8 49.4h.8v.8h-.8zM480.1 53.8h.8v.8h-.8zM477.8 49.8h.8v.8h-.8zM477.5 44.3h.8v.8h-.8zM474.7 50.4h.8v.8h-.8zM493.9 45.9h.8v.8h-.8zM474.3 56.4h.8v.8h-.8zM479.6 61.1h.8v.8h-.8zM491.4 51.7h.8v.8h-.8zM475.5 51.6h.8v.8h-.8zM482.0 57.8h.8v.8h-.8zM483.7 53.7h.8v.8h-.8zM487.5 51.5h.8v.8h-.8zM499.5 50.7h.8v.8h-.8zM474.9 52.9h.8v.8h-.8zM470.1 56.6h.8v.8h-.8zM482.8 65.7h.8v.8h-.8zM484.6 56.6h.8v.8h-.8zM482.9 40.7h.8v.8h-.8zM483.1 46.9h.8v.8h-.8zM482.3 46.8h.8v.8h-.8zM485.5 55.5h.8v.8h-.8zM478.3 60.9h.8v.8h-.8zM489.6 56.8h.8v.8h-.8zM470.5 54.8h.8v.8h-.8zM490.3 62.1h.8v.8h-.8zM476.3 49.6h.8v.8h-.8zM493.5 55.5h.8v.8h-.8zM474.1 47.5h.8v.8h-.8zM474.9 49.6h.8v.8h-.8zM477.7 55.4h.8v.8h-.8zM484.0 55.2h.8v.8h-.8zM481.4 52.5h.8v.8h-.8zM470.5 58.8h.8v.8h-.8zM481.7 60.4h.8v.8h-.8zM504.1 51.8h.8v.8h-.8zM476.7 53.6h.8v.8h-.8zM482.2 68.5h.8v.8h-.8zM478.8 47.6h.8v.8h-.8zM477.2 59.2h.8v.8h-.8zM473.2 57.2h.8v.8h-.8zM472.2 53.7h.8v.8h-.8zM485.7 53.4h.8v.8h-.8zM471.8 55.1h.8v.8h-.8zM497.7 52.6h.8v.8h-.8zM471.9 60.1h.8v.8h-.8zM473.8 54.1h.8v.8h-.8zM488.0 54.1h.8v.8h-.8zM490.2 55.4h.8v.8h-.8zM487.0 59.8h.8v.8h-.8zM471.2 48.0h.8v.8h-.8zM483.5 51.6h.8v.8h-.8zM474.0 60.4h.8v.8h-.8zM470.2 51.9h.8v.8h-.8zM470.2 49.0h.8v.8h-.8zM471.1 47.1h.8v.8h-.8zM475.1 52.9h.8v.8h-.8zM496.9 48.5h.8v.8h-.8zM479.1 58.1h.8v.8h-.8zM481.6 55.3h.8v.8h-.8zM477.9 52.0h.8v.8h-.8zM491.7 49.7h.8v.8h-.8zM476.1 49.0h.8v.8h-.8zM477.4 47.6h.8v.8h-.8zM476.6 56.0h.8v.8h-.8zM490.9 36.6h.8v.8h-.8zM481.4 52.8h.8v.8h-.8zM486.5 56.0h.8v.8h-.8zM482.7 48.6h.8v.8h-.8zM475.0 47.7h.8v.8h-.8zM477.6 57.1h.8v.8h-.8zM485.7 49.3h.8v.8h-.8zM482.5 61.8h.8v.8h-.8zM474.5 48.1h.8v.8h-.8zM470.0 53.0h.8v.8h-.8zM482.0 59.4h.8v.8h-.8zM493.0 55.0h.8v.8h-.8zM494.4 51.8h.8v.8h-.8zM492.7 59.8h.8v.8h-.8zM474.4 48.8h.8v.8h-.8zM495.9 57.5h.8v.8h-.8zM503.4 40.5h.8v.8h-.8zM475.8 58.6h.8v.8h-.8zM491.7 58.0h.8v.8h-.8zM473.0 53.3h.8v.8h-.8zM473.6 42.8h.8v.8h-.8zM482.7 50.4h.8v.8h-.8zM473.1 48.8h.8v.8h-.8zM474.0 53.4h.8v.8h-.8zM478.4 44.0h.8v.8h-.8zM471.2 55.8h.8v.8h-.8zM473.6 46.0h.8v.8h-.8zM481.8 62.9h.8v.8h-.8zM480.0 46.4h.8v.8h-.8zM478.8 50.4h.8v.8h-.8zM472.9 51.8h.8v.8h-.8zM472.7 52.0h.8v.8h-.8zM481.3 48.1h.8v.8h-.8zM477.0 50.4h.8v.8h-.8zM470.6 53.0h.8v.8h-.8zM483.6 55.3h.8v.8h-.8zM491.1 58.7h.8v.8h-.8zM475.8 58.8h.8v.8h-.8zM480.0 54.7h.8v.8h-.8zM497.4 42.9h.8v.8h-.8zM474.1 53.8h.8v.8h-.8zM490.6 38.0h.8v.8h-.8zM489.8 60.9h.8v.8h-.8zM493.3 58.9h.8v.8h-.8zM470.5 52.6h.8v.8h-.8zM473.1 54.1h.8v.8h-.8zM470.7 54.9h.8v.8h-.8zM481.1 57.6h.8v.8h-.8zM502.8 64.4h.8v.8h-.8zM476.9 56.0h.8v.8h-.8zM471.7 56.5h.8v.8h-.8zM481.3 52.2h.8v.8h-.8zM483.9 62.0h.8v.8h-.8zM476.8 51.3h.8v.8h-.8zM478.1 60.6h.8v.8h-.8zM473.4 56.7h.8v.8h-.8zM475.9 54.2h.8v.8h-.8zM501.7 67.1h.8v.8h-.8zM470.7 48.9h.8v.8h-.8zM491.0 50.7h.8v.8h-.8zM470.8 57.5h.8v.8h-.8zM485.4 50.8h.8v.8h-.8zM489.3 62.1h.8v.8h-.8zM471.5 51.8h.8v.8h-.8zM471.8 56.2h.8v.8h-.8zM478.9 55.2h.8v.8h-.8zM472.1 56.1h.8v.8h-.8zM485.4 63.3h.8v.8h-.8zM473.0 53.9h.8v.8h-.8zM470.5 55.9h.8v.8h-.8zM497.4 56.7h.8v.8h-.8zM478.1 51.5h.8v.8h-.8zM471.4 60.6h.8v.8h-.8zM483.5 48.3h.8v.8h-.8zM478.2 48.1h.8v.8h-.8zM478.8 61.7h.8v.8h-.8zM483.5 56.0h.8v.8h-.8zM470.8 55.6h.8v.8h-.8zM487.0 49.8h.8v.8h-.8zM497.8 51.8h.8v.8h-.8zM474.2 51.0h.8v.8h-.8zM474.3 54.7h.8v.8h-.8zM494.9 50.9h.8v.8h-.8zM479.2 56.1h.8v.8h-.8zM475.2 55.2h.8v.8h-.8zM470.8 58.1h.8v.8h-.8zM473.2 49.2h.8v.8h-.8zM478.8 52.4h.8v.8h-.8zM473.1 56.7h.8v.8h-.8zM476.2 70.7h.8v.8h-.8zM505.3 51.4h.8v.8h-.8zM471.4 51.1h.8v.8h-.8zM470.8 61.8h.8v.8h-.8zM487.6 48.3h.8v.8h-.8zM470.2 64.1h.8v.8h-.8zM492.4 51.1h.8v.8h-.8zM470.0 55.2h.8v.8h-.8zM494.3 48.5h.8v.8h-.8zM477.8 52.7h.8v.8h-.8zM503.1 55.6h.8v.8h-.8zM472.0 58.8h.8v.8h-.8zM472.7 54.2h.8v.8h-.8zM473.0 46.3h.8v.8h-.8zM471.1 58.2h.8v.8h-.8zM479.3 57.2h.8v.8h-.8zM474.4 55.0h.8v.8h-.8zM486.7 61.9h.8v.8h-.8zM492.7 49.0h.8v.8h-.8zM470.9 51.9h.8v.8h-.8zM488.0 44.3h.8v.8h-.8zM470.8 56.9h.8v.8h-.8zM492.6 46.1h.8v.8h-.8zM497.2 66.6h.8v.8h-.8zM479.2 65.1h.8v.8h-.8zM478.8 54.4h.8v.8h-.8zM498.0 52.8h.8v.8h-.8zM494.2 58.2h.8v.8h-.8zM476.2 55.8h.8v.8h-.8zM482.3 58.1h.8v.8h-.8zM470.1 49.0h.8v.8h-.8zM479.9 52.6h.8v.8h-.8zM471.8 51.6h.8v.8h-.8zM497.3 38.8h.8v.8h-.8zM475.3 52.2h.8v.8h-.8zM488.9 46.8h.8v.8h-.8zM470.9 60.4h.8v.8h-.8zM479.3 43.7h.8v.8h-.8zM479.8 46.6h.8v.8h-.8zM470.3 52.3h.8v.8h-.8zM471.5 55.9h.8v.8h-.8zM473.9 53.8h.8v.8h-.8zM471.4 52.4h.8v.8h-.8zM486.3 53.7h.8v.8h-.8zM482.5 54.3h.8v.8h-.8zM481.7 44.4h.8v.8h-.8zM471.5 52.4h.8v.8h-.8zM497.7 52.8h.8v.8h-.8zM471.8 52.0h.8v.8h-.8zM479.3 48.9h.8v.8h-.8zM471.8 53.3h.8v.8h-.8zM477.1 57.7h.8v.8h-.8zM496.9 61.4h.8v.8h-.8zM472.2 46.9h.8v.8h-.8zM472.4 50.1h.8v.8h-.8zM493.8 60.2h.8v.8h-.8zM477.4 51.4h.8v.8h-.8zM494.9 45.6h.8v.8h-.8zM490.4 50.5h.8v.8h-.8zM475.6 56.3h.8v.8h-.8zM477.8 62.6h.8v.8h-.8zM503.2 51.4h.8v.8h-.8zM493.0 54.7h.8v.8h-.8zM479.9 51.8h.8v.8h-.8zM477.5 51.7h.8v.8h-.8zM483.6 48.4h.8v.8h-.8zM471.0 57.1h.8v.8h-.8zM477.7 52.2h.8v.8h-.8zM472.0 53.3h.8v.8h-.8zM483.7 39.3h.8v.8h-.8zM492.6 64.8h.8v.8h-.8zM470.5 47.7h.8v.8h-.8zM484.0 52.4h.8v.8h-.8zM474.3 60.3h.8v.8h-.8zM480.6 60.2h.8v.8h-.8zM473.9 50.4h.8v.8h-.8zM480.0 41.0h.8v.8h-.8zM474.6 58.0h.8v.8h-.8zM475.0 51.9h.8v.8h-.8zM482.3 50.9h.8v.8h-.8zM478.5 52.9h.8v.8h-.8zM480.4 55.0h.8v.8h-.8zM471.9 55.1h.8v.8h-.8zM474.7 50.1h.8v.8h-.8zM473.8 55.4h.8v.8h-.8zM471.3 45.6h.8v.8h-.8zM482.8 50.0h.8v.8h-.8zM481.5 51.1h.8v.8h-.8zM486.9 49.8h.8v.8h-.8zM478.4 46.4h.8v.8h-.8zM478.6 51.1h.8v.8h-.8zM475.1 53.5h.8v.8h-.8zM479.8 57.2h.8v.8h-.8zM476.6 52.6h.8v.8h-.8zM475.9 52.9h.8v.8h-.8zM496.9 54.0h.8v.8h-.8zM479.2 60.1h.8v.8h-.8zM474.6 57.2h.8v.8h-.8zM490.1 52.8h.8v.8h-.8zM472.3 61.3h.8v.8h-.8zM477.9 57.6h.8v.8h-.8zM470.9 49.9h.8v.8h-.8zM488.1 58.0h.8v.8h-.8zM471.6 55.0h.8v.8h-.8zM488.3 70.1h.8v.8h-.8zM472.3 51.2h.8v.8h-.8zM485.3 58.3h.8v.8h-.8zM483.0 59.8h.8v.8h-.8zM479.9 45.1h.8v.8h-.8zM488.3 52.8h.8v.8h-.8zM478.8 44.3h.8v.8h-.8zM490.9 49.2h.8v.8h-.8zM471.9 44.1h.8v.8h-.8zM497.9 67.2h.8v.8h-.8zM482.0 53.6h.8v.8h-.8zM479.4 60.2h.8v.8h-.8zM477.4 51.8h.8v.8h-.8zM490.8 60.1h.8v.8h-.8zM476.5 48.4h.8v.8h-.8zM478.2 45.2h.8v.8h-.8zM474.7 55.3h.8v.8h-.8zM476.7 48.7h.8v.8h-.8zM475.3 51.7h.8v.8h-.8zM491.1 58.2h.8v.8h-.8zM478.0 48.3h.8v.8h-.8zM472.8 52.5h.8v.8h-.8zM481.7 56.3h.8v.8h-.8zM481.9 64.4h.8v.8h-.8zM475.3 59.0h.8v.8h-.8zM495.2 63.6h.8v.8h-.8zM473.1 43.7h.8v.8h-.8zM477.6 53.9h.8v.8h-.8zM470.7 53.0h.8v.8h-.8zM481.3 40.5h.8v.8h-.8zM490.2 53.6h.8v.8h-.8zM480.5 60.0h.8v.8h-.8zM479.9 53.2h.8v.8h-.8zM485.7 48.7h.8v.8h-.8zM482.3 56.8h.8v.8h-.8zM475.9 60.2h.8v.8h-.8zM480.1 50.6h.8v.8h-.8zM471.4 50.3h.8v.8h-.8zM481.2 57.4h.8v.8h-.8z" fill="#222"/>
<path d="M444.3 43.2h.8v.8h-.8zM447.5 42.4h.8v.8h-.8zM441.7 45.9h.8v.8h-.8zM459.8 39.3h.8v.8h-.8zM464.0 38.1h.8v.8h-.8zM434.9 46.0h.8v.8h-.8zM440.5 45.8h.8v.8h-.8zM446.1 44.7h.8v.8h-.8zM448.2 43.0h.8v.8h-.8zM451.5 40.2h.8v.8h-.8zM460.8 38.2h.8v.8h-.8zM443.1 44.8h.8v.8h-.8zM441.7 44.7h.8v.8h-.8zM418.7 50.6h.8v.8h-.8zM415.2 50.3h.8v.8h-.8zM458.6 39.0h.8v.8h-.8zM456.4 40.4h.8v.8h-.8zM425.5 41.0h.8v.8h-.8zM444.9 44.4h.8v.8h-.8zM463.8 37.9h.8v.8h-.8zM436.1 39.6h.8v.8h-.8zM461.6 38.8h.8v.8h-.8zM459.2 39.6h.8v.8h-.8zM467.4 37.8h.8v.8h-.8zM453.2 42.1h.8v.8h-.8zM457.8 39.7h.8v.8h-.8zM431.1 47.8h.8v.8h-.8zM416.2 48.2h.8v.8h-.8zM433.9 47.7h.8v.8h-.8zM424.1 49.8h.8v.8h-.8zM423.7 48.5h.8v.8h-.8zM452.4 40.0h.8v.8h-.8zM460.4 38.9h.8v.8h-.8zM418.9 49.8h.8v.8h-.8zM432.2 47.9h.8v.8h-.8zM423.1 50.0h.8v.8h-.8zM452.5 42.4h.8v.8h-.8zM424.2 47.7h.8v.8h-.8zM462.7 38.2h.8v.8h-.8zM456.5 40.2h.8v.8h-.8zM444.0 43.6h.8v.8h-.8zM461.4 38.4h.8v.8h-.8zM415.8 49.9h.8v.8h-.8zM413.1 50.7h.8v.8h-.8zM416.8 50.6h.8v.8h-.8zM456.7 40.1h.8v.8h-.8zM417.2 50.7h.8v.8h-.8zM430.7 48.8h.8v.8h-.8zM452.0 42.7h.8v.8h-.8zM420.3 41.1h.8v.8h-.8zM454.2 40.6h.8v.8h-.8zM421.3 50.2h.8v.8h-.8zM411.5 50.6h.8v.8h-.8zM444.1 43.9h.8v.8h-.8zM435.8 40.6h.8v.8h-.8zM456.8 40.1h.8v.8h-.8zM461.5 39.1h.8v.8h-.8zM457.7 40.4h.8v.8h-.8zM455.1 40.1h.8v.8h-.8zM460.0 38.9h.8v.8h-.8zM467.2 36.9h.8v.8h-.8zM460.1 38.6h.8v.8h-.8zM412.4 50.8h.8v.8h-.8zM416.9 49.7h.8v.8h-.8zM452.2 42.3h.8v.8h-.8zM448.2 43.2h.8v.8h-.8zM412.7 50.4h.8v.8h-.8zM417.5 49.9h.8v.8h-.8zM423.7 50.0h.8v.8h-.8zM430.7 47.7h.8v.8h-.8zM417.8 49.8h.8v.8h-.8zM455.8 41.0h.8v.8h-.8zM445.9 43.0h.8v.8h-.8zM426.9 49.2h.8v.8h-.8zM412.8 51.0h.8v.8h-.8zM416.0 50.2h.8v.8h-.8zM431.4 40.7h.8v.8h-.8zM455.2 35.5h.8v.8h-.8zM469.3 40.1h.8v.8h-.8zM420.8 50.3h.8v.8h-.8zM465.6 37.8h.8v.8h-.8zM424.5 48.7h.8v.8h-.8zM410.8 50.9h.8v.8h-.8zM448.3 42.0h.8v.8h-.8zM419.4 50.2h.8v.8h-.8zM420.4 48.5h.8v.8h-.8zM431.7 47.8h.8v.8h-.8zM411.6 50.9h.8v.8h-.8zM459.4 39.4h.8v.8h-.8zM439.8 44.4h.8v.8h-.8zM444.8 43.7h.8v.8h-.8zM468.6 38.9h.8v.8h-.8zM436.1 40.3h.8v.8h-.8zM461.6 37.7h.8v.8h-.8zM426.5 49.0h.8v.8h-.8zM436.0 46.5h.8v.8h-.8zM464.6 38.2h.8v.8h-.8zM430.5 48.3h.8v.8h-.8zM429.0 46.4h.8v.8h-.8zM468.9 39.6h.8v.8h-.8zM458.9 38.7h.8v.8h-.8zM444.2 44.7h.8v.8h-.8zM448.8 43.5h.8v.8h-.8zM420.7 49.6h.8v.8h-.8zM414.3 50.4h.8v.8h-.8zM441.6 45.2h.8v.8h-.8zM416.1 49.9h.8v.8h-.8zM462.0 37.2h.8v.8h-.8zM441.7 46.1h.8v.8h-.8zM444.3 39.9h.8v.8h-.8zM445.2 40.5h.8v.8h-.8zM462.1 38.7h.8v.8h-.8zM455.6 38.9h.8v.8h-.8zM460.1 37.6h.8v.8h-.8zM468.0 37.7h.8v.8h-.8zM412.6 50.4h.8v.8h-.8zM410.0 50.7h.8v.8h-.8zM435.3 47.4h.8v.8h-.8zM462.6 36.9h.8v.8h-.8zM454.9 40.7h.8v.8h-.8zM450.9 42.9h.8v.8h-.8zM467.3 38.7h.8v.8h-.8zM446.2 43.6h.8v.8h-.8zM465.9 38.0h.8v.8h-.8zM421.0 48.5h.8v.8h-.8zM410.4 44.2h.8v.8h-.8zM420.5 49.7h.8v.8h-.8zM418.0 50.4h.8v.8h-.8zM451.4 39.2h.8v.8h-.8zM418.4 48.2h.8v.8h-.8zM458.2 39.8h.8v.8h-.8zM433.2 48.2h.8v.8h-.8zM461.0 37.8h.8v.8h-.8zM429.3 47.9h.8v.8h-.8zM445.3 44.3h.8v.8h-.8zM444.5 45.0h.8v.8h-.8zM409.5 46.8h.8v.8h-.8zM469.7 39.4h.8v.8h-.8zM450.3 43.2h.8v.8h-.8zM444.0 44.5h.8v.8h-.8zM470.0 40.0h.8v.8h-.8zM456.6 40.7h.8v.8h-.8zM431.4 48.5h.8v.8h-.8zM450.9 41.2h.8v.8h-.8zM454.5 40.3h.8v.8h-.8zM434.0 45.4h.8v.8h-.8zM428.9 48.0h.8v.8h-.8zM423.5 50.0h.8v.8h-.8zM409.5 50.5h.8v.8h-.8zM427.7 48.6h.8v.8h-.8zM427.6 48.9h.8v.8h-.8zM430.0 47.5h.8v.8h-.8zM414.0 50.4h.8v.8h-.8zM456.7 39.7h.8v.8h-.8zM413.3 48.7h.8v.8h-.8zM410.5 51.1h.8v.8h-.8zM452.3 42.4h.8v.8h-.8zM462.2 38.2h.8v.8h-.8zM454.2 34.0h.8v.8h-.8zM462.9 38.8h.8v.8h-.8zM420.7 48.3h.8v.8h-.8zM422.1 49.8h.8v.8h-.8zM448.9 42.4h.8v.8h-.8zM434.5 42.1h.8v.8h-.8zM429.6 47.7h.8v.8h-.8zM409.9 51.3h.8v.8h-.8zM469.7 39.6h.8v.8h-.8zM414.8 50.4h.8v.8h-.8zM456.2 39.5h.8v.8h-.8zM445.2 43.9h.8v.8h-.8zM446.0 43.9h.8v.8h-.8zM456.0 39.7h.8v.8h-.8zM456.5 39.9h.8v.8h-.8zM466.9 38.9h.8v.8h-.8zM438.3 46.0h.8v.8h-.8zM423.1 48.6h.8v.8h-.8zM410.8 51.0h.8v.8h-.8zM420.3 50.3h.8v.8h-.8zM418.3 49.9h.8v.8h-.8zM410.9 49.6h.8v.8h-.8zM469.4 39.2h.8v.8h-.8zM437.4 47.3h.8v.8h-.8zM415.7 50.9h.8v.8h-.8zM462.2 34.3h.8v.8h-.8zM434.3 45.8h.8v.8h-.8zM424.6 48.7h.8v.8h-.8zM423.3 49.6h.8v.8h-.8zM470.2 39.7h.8v.8h-.8zM418.7 49.2h.8v.8h-.8zM459.6 38.3h.8v.8h-.8zM438.9 46.4h.8v.8h-.8zM436.9 47.0h.8v.8h-.8zM422.0 49.6h.8v.8h-.8zM420.3 49.9h.8v.8h-.8zM427.4 49.0h.8v.8h-.8zM465.1 38.5h.8v.8h-.8zM415.1 47.4h.8v.8h-.8zM465.5 37.3h.8v.8h-.8zM469.3 39.8h.8v.8h-.8zM411.4 51.1h.8v.8h-.8zM435.5 47.6h.8v.8h-.8zM463.0 38.9h.8v.8h-.8zM417.4 50.1h.8v.8h-.8zM454.4 41.5h.8v.8h-.8zM430.8 46.5h.8v.8h-.8zM468.5 39.8h.8v.8h-.8zM425.9 49.0h.8v.8h-.8zM440.3 45.7h.8v.8h-.8zM431.4 47.2h.8v.8h-.8zM442.8 45.7h.8v.8h-.8zM462.8 38.9h.8v.8h-.8zM468.8 39.1h.8v.8h-.8zM434.3 40.8h.8v.8h-.8zM466.0 35.8h.8v.8h-.8zM432.2 41.9h.8v.8h-.8zM457.2 40.1h.8v.8h-.8zM451.7 42.1h.8v.8h-.8zM468.8 32.7h.8v.8h-.8zM461.5 37.9h.8v.8h-.8zM447.8 44.1h.8v.8h-.8zM452.8 41.4h.8v.8h-.8zM428.9 48.5h.8v.8h-.8zM422.8 49.6h.8v.8h-.8zM453.4 41.6h.8v.8h-.8zM422.7 48.7h.8v.8h-.8zM441.5 44.2h.8v.8h-.8zM419.7 50.1h.8v.8h-.8zM464.0 37.7h.8v.8h-.8zM432.5 47.6h.8v.8h-.8zM424.5 45.3h.8v.8h-.8zM458.4 71.7h.8v.8h-.8zM414.5 69.3h.8v.8h-.8zM433.4 71.8h.8v.8h-.8zM436.7 70.1h.8v.8h-.8zM438.5 70.7h.8v.8h-.8zM418.3 71.2h.8v.8h-.8zM450.9 71.3h.8v.8h-.8zM423.7 70.7h.8v.8h-.8zM431.9 70.5h.8v.8h-.8zM410.2 69.9h.8v.8h-.8zM421.4 69.8h.8v.8h-.8zM420.1 69.6h.8v.8h-.8zM453.2 70.6h.8v.8h-.8zM423.9 70.6h.8v.8h-.8zM460.3 71.9h.8v.8h-.8zM461.8 71.4h.8v.8h-.8zM421.5 71.4h.8v.8h-.8zM447.0 71.3h.8v.8h-.8zM431.9 71.1h.8v.8h-.8zM431.6 70.2h.8v.8h-.8zM452.8 70.7h.8v.8h-.8zM448.9 71.5h.8v.8h-.8zM458.9 71.2h.8v.8h-.8zM444.6 71.2h.8v.8h-.8zM465.9 71.6h.8v.8h-.8zM452.8 73.4h.8v.8h-.8zM432.0 70.4h.8v.8h-.8zM413.4 70.0h.8v.8h-.8zM455.5 71.5h.8v.8h-.8zM439.6 71.1h.8v.8h-.8zM464.4 70.5h.8v.8h-.8zM445.5 70.5h.8v.8h-.8zM437.5 72.3h.8v.8h-.8zM434.6 70.5h.8v.8h-.8zM438.2 71.1h.8v.8h-.8zM439.3 70.9h.8v.8h-.8zM440.5 70.9h.8v.8h-.8zM454.6 72.0h.8v.8h-.8zM433.8 71.7h.8v.8h-.8zM443.1 70.6h.8v.8h-.8zM456.3 70.5h.8v.8h-.8zM422.7 70.1h.8v.8h-.8zM413.8 69.3h.8v.8h-.8zM414.5 69.6h.8v.8h-.8zM455.4 70.8h.8v.8h-.8zM450.9 70.5h.8v.8h-.8zM452.8 70.8h.8v.8h-.8zM451.5 70.4h.8v.8h-.8zM434.8 73.6h.8v.8h-.8zM459.3 72.6h.8v.8h-.8zM462.6 71.1h.8v.8h-.8zM440.9 71.0h.8v.8h-.8zM409.5 69.8h.8v.8h-.8zM425.2 69.7h.8v.8h-.8zM428.3 69.8h.8v.8h-.8zM443.2 72.6h.8v.8h-.8zM440.5 70.5h.8v.8h-.8zM427.8 69.9h.8v.8h-.8zM462.3 71.2h.8v.8h-.8zM424.9 71.9h.8v.8h-.8zM421.5 70.9h.8v.8h-.8zM432.1 70.4h.8v.8h-.8zM437.6 71.6h.8v.8h-.8zM431.6 70.0h.8v.8h-.8zM458.3 71.3h.8v.8h-.8zM443.2 72.8h.8v.8h-.8zM412.2 69.6h.8v.8h-.8zM434.2 71.3h.8v.8h-.8zM443.8 70.6h.8v.8h-.8zM458.0 71.3h.8v.8h-.8zM427.0 70.2h.8v.8h-.8zM445.5 72.3h.8v.8h-.8zM437.0 71.2h.8v.8h-.8zM463.0 71.0h.8v.8h-.8zM412.6 70.6h.8v.8h-.8zM412.1 69.7h.8v.8h-.8zM462.1 71.9h.8v.8h-.8zM420.2 70.1h.8v.8h-.8zM465.7 72.5h.8v.8h-.8zM439.7 70.9h.8v.8h-.8z" fill="#222"/>
<path d="M385.0 139.8h.8v.8h-.8zM373.9 138.8h.8v.8h-.8zM393.8 152.2h.8v.8h-.8zM373.8 150.0h.8v.8h-.8zM372.2 148.2h.8v.8h-.8zM377.6 140.0h.8v.8h-.8zM400.6 136.6h.8v.8h-.8zM385.4 143.3h.8v.8h-.8zM385.8 143.9h.8v.8h-.8zM371.4 143.9h.8v.8h-.8zM374.2 138.9h.8v.8h-.8zM381.9 139.1h.8v.8h-.8zM373.0 147.1h.8v.8h-.8zM401.4 134.7h.8v.8h-.8zM373.0 149.5h.8v.8h-.8zM391.1 149.0h.8v.8h-.8zM371.3 141.6h.8v.8h-.8zM376.9 139.9h.8v.8h-.8zM380.8 139.1h.8v.8h-.8zM372.1 135.5h.8v.8h-.8zM378.0 143.9h.8v.8h-.8zM385.2 150.8h.8v.8h-.8zM372.5 147.3h.8v.8h-.8zM380.3 141.8h.8v.8h-.8zM375.2 137.6h.8v.8h-.8zM379.5 149.3h.8v.8h-.8zM404.3 150.8h.8v.8h-.8zM396.0 147.0h.8v.8h-.8zM382.3 139.7h.8v.8h-.8zM372.8 141.6h.8v.8h-.8zM374.9 149.1h.8v.8h-.8zM374.1 136.7h.8v.8h-.8zM403.4 153.8h.8v.8h-.8zM376.2 148.7h.8v.8h-.8zM371.5 140.1h.8v.8h-.8zM376.0 138.7h.8v.8h-.8zM387.9 143.6h.8v.8h-.8zM373.4 143.0h.8v.8h-.8zM371.8 138.7h.8v.8h-.8zM381.2 147.9h.8v.8h-.8zM390.4 147.1h.8v.8h-.8zM382.3 140.6h.8v.8h-.8zM379.9 142.4h.8v.8h-.8zM372.2 140.8h.8v.8h-.8zM381.7 139.7h.8v.8h-.8zM376.4 137.1h.8v.8h-.8zM373.1 146.6h.8v.8h-.8zM373.2 145.7h.8v.8h-.8zM394.1 139.7h.8v.8h-.8zM396.9 137.6h.8v.8h-.8zM372.1 142.4h.8v.8h-.8zM397.4 149.0h.8v.8h-.8zM380.5 146.4h.8v.8h-.8zM372.5 139.6h.8v.8h-.8zM380.5 142.8h.8v.8h-.8zM379.8 139.7h.8v.8h-.8zM377.4 144.6h.8v.8h-.8zM373.8 144.4h.8v.8h-.8zM396.7 146.3h.8v.8h-.8zM379.7 142.8h.8v.8h-.8zM406.9 141.1h.8v.8h-.8zM379.3 143.8h.8v.8h-.8zM385.6 134.3h.8v.8h-.8zM374.2 142.1h.8v.8h-.8zM374.8 139.5h.8v.8h-.8zM371.3 138.3h.8v.8h-.8zM375.2 145.6h.8v.8h-.8zM398.7 151.4h.8v.8h-.8zM374.2 145.1h.8v.8h-.8zM382.3 144.0h.8v.8h-.8zM371.7 135.8h.8v.8h-.8zM374.4 131.6h.8v.8h-.8zM371.4 135.3h.8v.8h-.8zM383.0 138.3h.8v.8h-.8zM376.2 133.9h.8v.8h-.8zM391.8 126.5h.8v.8h-.8zM371.0 144.3h.8v.8h-.8zM406.3 134.0h.8v.8h-.8zM372.1 144.3h.8v.8h-.8zM374.4 141.4h.8v.8h-.8zM373.0 135.6h.8v.8h-.8zM376.2 144.1h.8v.8h-.8zM374.0 144.4h.8v.8h-.8zM375.9 158.3h.8v.8h-.8zM390.6 138.5h.8v.8h-.8zM379.1 133.0h.8v.8h-.8zM400.9 142.3h.8v.8h-.8zM388.4 139.2h.8v.8h-.8zM383.2 139.2h.8v.8h-.8zM394.4 142.9h.8v.8h-.8zM386.8 139.4h.8v.8h-.8zM376.3 148.6h.8v.8h-.8zM384.9 155.6h.8v.8h-.8zM388.1 150.3h.8v.8h-.8zM405.7 155.1h.8v.8h-.8zM400.4 141.6h.8v.8h-.8zM391.3 128.8h.8v.8h-.8zM382.1 132.4h.8v.8h-.8zM390.2 147.2h.8v.8h-.8zM396.6 136.0h.8v.8h-.8zM380.4 155.3h.8v.8h-.8zM390.4 154.2h.8v.8h-.8zM374.5 143.8h.8v.8h-.8zM373.7 139.4h.8v.8h-.8zM378.6 142.6h.8v.8h-.8zM400.9 152.0h.8v.8h-.8zM385.4 140.6h.8v.8h-.8zM390.1 135.4h.8v.8h-.8zM390.7 135.3h.8v.8h-.8zM392.8 126.2h.8v.8h-.8zM377.4 148.3h.8v.8h-.8zM393.6 147.7h.8v.8h-.8zM376.1 134.6h.8v.8h-.8zM390.7 134.7h.8v.8h-.8zM371.0 141.4h.8v.8h-.8zM372.4 142.2h.8v.8h-.8zM391.9 133.6h.8v.8h-.8zM378.6 145.5h.8v.8h-.8zM376.0 143.1h.8v.8h-.8zM394.3 148.9h.8v.8h-.8zM383.0 141.4h.8v.8h-.8zM374.9 144.0h.8v.8h-.8zM386.1 133.5h.8v.8h-.8zM391.6 145.8h.8v.8h-.8zM372.5 141.6h.8v.8h-.8zM392.6 140.2h.8v.8h-.8zM373.5 140.6h.8v.8h-.8zM376.6 154.2h.8v.8h-.8zM374.1 146.8h.8v.8h-.8zM399.1 134.9h.8v.8h-.8zM377.2 129.8h.8v.8h-.8zM379.8 142.1h.8v.8h-.8zM373.1 149.7h.8v.8h-.8zM380.3 145.5h.8v.8h-.8zM378.5 143.5h.8v.8h-.8zM376.4 138.7h.8v.8h-.8zM372.2 134.2h.8v.8h-.8zM380.0 138.6h.8v.8h-.8zM376.8 151.4h.8v.8h-.8zM384.7 136.5h.8v.8h-.8zM371.9 138.9h.8v.8h-.8zM376.5 138.5h.8v.8h-.8zM376.8 136.2h.8v.8h-.8zM380.2 136.9h.8v.8h-.8zM379.6 131.8h.8v.8h-.8zM376.6 143.7h.8v.8h-.8zM393.5 141.7h.8v.8h-.8zM385.4 135.8h.8v.8h-.8zM388.4 139.6h.8v.8h-.8zM398.8 140.3h.8v.8h-.8zM371.3 135.4h.8v.8h-.8zM375.8 149.7h.8v.8h-.8zM398.8 157.4h.8v.8h-.8zM372.9 137.3h.8v.8h-.8zM371.5 139.3h.8v.8h-.8zM377.2 142.0h.8v.8h-.8zM375.0 135.5h.8v.8h-.8zM389.0 139.9h.8v.8h-.8zM377.8 148.2h.8v.8h-.8zM385.1 133.2h.8v.8h-.8zM376.9 149.6h.8v.8h-.8zM385.6 139.9h.8v.8h-.8zM375.0 145.3h.8v.8h-.8zM392.9 150.2h.8v.8h-.8zM390.7 139.9h.8v.8h-.8zM380.0 144.5h.8v.8h-.8zM397.3 148.9h.8v.8h-.8zM373.3 148.2h.8v.8h-.8zM375.6 145.8h.8v.8h-.8zM377.0 143.5h.8v.8h-.8zM375.5 141.4h.8v.8h-.8zM378.1 146.3h.8v.8h-.8zM372.3 141.8h.8v.8h-.8zM377.0 147.0h.8v.8h-.8zM401.0 147.8h.8v.8h-.8zM378.4 145.9h.8v.8h-.8zM389.8 133.8h.8v.8h-.8zM375.6 146.7h.8v.8h-.8zM378.9 149.2h.8v.8h-.8zM381.2 137.7h.8v.8h-.8zM374.9 135.3h.8v.8h-.8zM376.6 147.3h.8v.8h-.8zM375.2 139.3h.8v.8h-.8zM383.4 141.5h.8v.8h-.8zM371.4 149.1h.8v.8h-.8zM392.9 135.9h.8v.8h-.8zM406.2 138.6h.8v.8h-.8zM374.8 142.2h.8v.8h-.8zM380.9 144.2h.8v.8h-.8zM388.5 139.1h.8v.8h-.8zM391.6 135.5h.8v.8h-.8zM372.4 140.0h.8v.8h-.8zM383.5 138.5h.8v.8h-.8zM377.2 134.1h.8v.8h-.8zM406.3 141.7h.8v.8h-.8zM377.2 137.6h.8v.8h-.8zM391.5 139.4h.8v.8h-.8zM396.7 146.2h.8v.8h-.8zM380.4 134.1h.8v.8h-.8zM400.0 140.4h.8v.8h-.8zM372.7 141.3h.8v.8h-.8zM377.6 143.7h.8v.8h-.8zM379.7 146.8h.8v.8h-.8zM381.7 135.4h.8v.8h-.8zM377.4 138.5h.8v.8h-.8zM394.3 139.4h.8v.8h-.8zM390.4 144.2h.8v.8h-.8zM384.9 139.1h.8v.8h-.8zM388.5 127.9h.8v.8h-.8zM399.7 142.0h.8v.8h-.8zM388.0 146.2h.8v.8h-.8zM397.4 131.7h.8v.8h-.8zM372.7 140.2h.8v.8h-.8zM382.8 133.4h.8v.8h-.8zM374.9 147.8h.8v.8h-.8zM392.7 146.2h.8v.8h-.8zM374.9 142.9h.8v.8h-.8zM372.1 145.0h.8v.8h-.8zM385.1 153.0h.8v.8h-.8zM376.5 140.7h.8v.8h-.8zM386.0 152.9h.8v.8h-.8zM375.8 146.1h.8v.8h-.8zM370.9 140.6h.8v.8h-.8zM374.9 140.3h.8v.8h-.8zM371.7 137.2h.8v.8h-.8zM391.6 145.1h.8v.8h-.8zM371.4 143.0h.8v.8h-.8zM374.1 140.2h.8v.8h-.8zM383.4 139.3h.8v.8h-.8zM381.5 146.3h.8v.8h-.8zM374.0 142.9h.8v.8h-.8zM393.9 137.2h.8v.8h-.8z" fill="#444"/>
<path d="M359.6 128.8h.8v.8h-.8zM340.8 135.3h.8v.8h-.8zM348.5 132.8h.8v.8h-.8zM346.0 132.4h.8v.8h-.8zM371.1 129.4h.8v.8h-.8zM314.0 137.2h.8v.8h-.8zM337.7 135.5h.8v.8h-.8zM321.3 137.7h.8v.8h-.8zM321.6 139.2h.8v.8h-.8zM353.1 130.1h.8v.8h-.8zM344.2 133.5h.8v.8h-.8zM366.5 124.7h.8v.8h-.8zM313.5 139.9h.8v.8h-.8zM348.5 132.8h.8v.8h-.8zM319.7 137.1h.8v.8h-.8zM320.4 136.9h.8v.8h-.8zM359.3 127.4h.8v.8h-.8zM357.6 129.6h.8v.8h-.8zM365.9 127.1h.8v.8h-.8zM316.3 138.5h.8v.8h-.8zM322.5 139.2h.8v.8h-.8zM368.0 127.7h.8v.8h-.8zM354.9 129.3h.8v.8h-.8zM310.4 138.8h.8v.8h-.8zM333.0 135.3h.8v.8h-.8zM312.3 139.9h.8v.8h-.8zM314.0 139.2h.8v.8h-.8zM349.1 131.4h.8v.8h-.8zM365.6 127.1h.8v.8h-.8zM322.0 138.9h.8v.8h-.8zM348.9 126.8h.8v.8h-.8zM312.9 138.8h.8v.8h-.8zM351.2 131.9h.8v.8h-.8zM338.8 135.1h.8v.8h-.8zM346.6 132.8h.8v.8h-.8zM333.8 136.9h.8v.8h-.8zM348.8 125.1h.8v.8h-.8zM359.2 128.5h.8v.8h-.8zM324.5 138.2h.8v.8h-.8zM349.1 132.5h.8v.8h-.8zM319.1 129.9h.8v.8h-.8zM353.5 131.1h.8v.8h-.8zM319.7 138.9h.8v.8h-.8zM366.2 120.6h.8v.8h-.8zM344.0 133.9h.8v.8h-.8zM359.0 127.7h.8v.8h-.8zM343.3 128.4h.8v.8h-.8zM311.1 139.0h.8v.8h-.8zM337.9 135.0h.8v.8h-.8zM316.4 138.6h.8v.8h-.8zM331.4 136.3h.8v.8h-.8zM315.9 138.7h.8v.8h-.8zM356.7 129.2h.8v.8h-.8zM310.0 138.1h.8v.8h-.8zM352.4 130.6h.8v.8h-.8zM347.4 132.6h.8v.8h-.8zM354.9 130.1h.8v.8h-.8zM311.5 137.7h.8v.8h-.8zM336.2 136.1h.8v.8h-.8zM353.3 130.9h.8v.8h-.8zM331.1 137.6h.8v.8h-.8zM350.0 132.1h.8v.8h-.8zM361.3 126.6h.8v.8h-.8zM335.1 135.0h.8v.8h-.8zM364.4 126.9h.8v.8h-.8zM364.6 127.2h.8v.8h-.8zM316.1 139.3h.8v.8h-.8zM342.8 133.9h.8v.8h-.8zM342.4 134.1h.8v.8h-.8zM366.1 126.3h.8v.8h-.8zM315.1 139.6h.8v.8h-.8zM325.7 137.8h.8v.8h-.8zM320.5 137.8h.8v.8h-.8zM356.1 129.7h.8v.8h-.8zM311.3 139.8h.8v.8h-.8zM349.4 132.0h.8v.8h-.8zM346.5 132.8h.8v.8h-.8zM310.5 139.3h.8v.8h-.8zM316.6 136.8h.8v.8h-.8zM357.2 129.8h.8v.8h-.8zM328.3 136.9h.8v.8h-.8zM315.5 138.8h.8v.8h-.8zM361.0 126.5h.8v.8h-.8zM359.2 128.8h.8v.8h-.8zM310.2 139.3h.8v.8h-.8zM345.9 131.6h.8v.8h-.8zM318.5 137.0h.8v.8h-.8zM344.8 132.4h.8v.8h-.8zM310.5 139.8h.8v.8h-.8zM354.3 130.5h.8v.8h-.8zM325.2 135.9h.8v.8h-.8zM358.8 128.4h.8v.8h-.8zM356.9 129.9h.8v.8h-.8zM332.2 136.9h.8v.8h-.8zM363.3 126.4h.8v.8h-.8zM311.4 139.6h.8v.8h-.8zM338.0 132.2h.8v.8h-.8zM320.3 138.9h.8v.8h-.8zM316.9 138.7h.8v.8h-.8zM343.9 132.2h.8v.8h-.8zM355.6 128.5h.8v.8h-.8zM316.4 138.8h.8v.8h-.8zM324.4 137.8h.8v.8h-.8zM326.0 136.7h.8v.8h-.8zM354.8 129.7h.8v.8h-.8zM350.6 131.8h.8v.8h-.8zM370.4 123.7h.8v.8h-.8zM341.4 131.4h.8v.8h-.8zM355.4 129.8h.8v.8h-.8zM349.8 132.4h.8v.8h-.8zM368.0 127.8h.8v.8h-.8zM320.8 137.2h.8v.8h-.8zM365.3 123.4h.8v.8h-.8zM318.3 139.2h.8v.8h-.8zM345.6 132.9h.8v.8h-.8zM368.2 127.6h.8v.8h-.8zM341.2 134.1h.8v.8h-.8zM323.0 138.7h.8v.8h-.8zM371.4 129.8h.8v.8h-.8zM334.8 136.7h.8v.8h-.8zM311.0 139.6h.8v.8h-.8zM347.1 133.0h.8v.8h-.8zM344.3 134.2h.8v.8h-.8zM368.9 127.7h.8v.8h-.8zM341.9 131.2h.8v.8h-.8zM320.0 138.3h.8v.8h-.8zM334.9 135.7h.8v.8h-.8zM326.2 137.6h.8v.8h-.8zM312.8 137.2h.8v.8h-.8zM327.5 138.1h.8v.8h-.8zM335.6 134.6h.8v.8h-.8zM341.3 132.9h.8v.8h-.8zM350.3 130.7h.8v.8h-.8zM321.5 131.1h.8v.8h-.8zM344.8 133.4h.8v.8h-.8zM332.2 136.1h.8v.8h-.8zM314.1 139.8h.8v.8h-.8zM359.0 123.9h.8v.8h-.8zM351.5 131.6h.8v.8h-.8zM358.2 128.0h.8v.8h-.8zM368.8 127.9h.8v.8h-.8zM324.0 137.9h.8v.8h-.8zM350.6 132.2h.8v.8h-.8zM326.0 137.0h.8v.8h-.8zM334.7 136.6h.8v.8h-.8zM345.3 133.8h.8v.8h-.8zM336.6 130.5h.8v.8h-.8zM319.5 138.3h.8v.8h-.8zM357.0 129.2h.8v.8h-.8zM369.3 127.2h.8v.8h-.8zM328.2 138.2h.8v.8h-.8zM363.7 125.9h.8v.8h-.8zM310.5 138.4h.8v.8h-.8zM309.9 139.8h.8v.8h-.8zM309.8 140.1h.8v.8h-.8zM310.8 131.8h.8v.8h-.8zM369.5 128.2h.8v.8h-.8zM335.4 136.0h.8v.8h-.8zM313.0 134.4h.8v.8h-.8zM352.7 131.2h.8v.8h-.8zM354.6 130.2h.8v.8h-.8zM344.2 132.0h.8v.8h-.8zM352.4 130.3h.8v.8h-.8zM359.2 123.4h.8v.8h-.8zM321.4 138.8h.8v.8h-.8zM315.4 137.8h.8v.8h-.8zM318.1 134.0h.8v.8h-.8zM324.5 137.5h.8v.8h-.8zM342.5 134.8h.8v.8h-.8zM327.6 138.1h.8v.8h-.8zM347.6 132.7h.8v.8h-.8zM325.7 138.2h.8v.8h-.8zM357.3 129.1h.8v.8h-.8zM328.7 136.7h.8v.8h-.8zM313.0 135.5h.8v.8h-.8zM318.9 139.2h.8v.8h-.8zM338.1 135.9h.8v.8h-.8zM332.0 137.1h.8v.8h-.8zM357.5 129.5h.8v.8h-.8zM325.2 138.5h.8v.8h-.8zM329.3 136.4h.8v.8h-.8zM337.2 136.1h.8v.8h-.8zM347.8 132.3h.8v.8h-.8zM311.9 139.3h.8v.8h-.8zM317.6 138.1h.8v.8h-.8zM356.0 130.0h.8v.8h-.8zM314.9 139.4h.8v.8h-.8zM327.4 138.1h.8v.8h-.8zM316.2 139.1h.8v.8h-.8zM320.1 139.1h.8v.8h-.8zM335.9 136.4h.8v.8h-.8zM316.8 139.2h.8v.8h-.8zM364.7 126.6h.8v.8h-.8zM327.4 137.7h.8v.8h-.8zM355.0 130.2h.8v.8h-.8zM359.9 128.4h.8v.8h-.8zM325.4 135.4h.8v.8h-.8zM329.5 137.5h.8v.8h-.8zM330.7 137.5h.8v.8h-.8zM345.1 126.9h.8v.8h-.8zM347.1 131.3h.8v.8h-.8zM360.2 127.2h.8v.8h-.8zM332.8 135.0h.8v.8h-.8zM365.8 126.6h.8v.8h-.8zM364.4 127.7h.8v.8h-.8zM370.8 129.2h.8v.8h-.8zM359.8 128.9h.8v.8h-.8zM317.9 138.0h.8v.8h-.8zM360.3 127.6h.8v.8h-.8zM318.2 137.8h.8v.8h-.8zM351.4 131.8h.8v.8h-.8zM337.8 135.9h.8v.8h-.8zM357.9 129.1h.8v.8h-.8zM315.8 139.2h.8v.8h-.8zM358.8 123.4h.8v.8h-.8zM321.9 138.8h.8v.8h-.8zM359.2 128.3h.8v.8h-.8zM338.7 135.7h.8v.8h-.8zM328.9 132.5h.8v.8h-.8zM360.8 127.6h.8v.8h-.8zM335.3 135.6h.8v.8h-.8zM332.1 136.6h.8v.8h-.8zM317.3 139.4h.8v.8h-.8zM353.9 130.9h.8v.8h-.8zM342.0 134.2h.8v.8h-.8zM355.6 128.7h.8v.8h-.8zM364.2 126.6h.8v.8h-.8zM367.1 127.6h.8v.8h-.8zM329.9 138.0h.8v.8h-.8zM350.9 131.5h.8v.8h-.8zM371.4 160.3h.8v.8h-.8zM320.9 159.0h.8v.8h-.8zM365.8 161.2h.8v.8h-.8zM363.3 159.9h.8v.8h-.8zM332.0 159.4h.8v.8h-.8zM311.0 158.1h.8v.8h-.8zM340.6 161.0h.8v.8h-.8zM368.6 160.5h.8v.8h-.8zM341.2 160.3h.8v.8h-.8zM318.5 158.7h.8v.8h-.8zM348.6 159.5h.8v.8h-.8zM346.8 160.2h.8v.8h-.8zM325.6 158.6h.8v.8h-.8zM341.3 160.2h.8v.8h-.8zM338.5 159.0h.8v.8h-.8zM330.6 158.7h.8v.8h-.8zM353.9 159.2h.8v.8h-.8zM325.4 159.3h.8v.8h-.8zM341.5 159.7h.8v.8h-.8zM365.5 160.7h.8v.8h-.8zM322.1 159.9h.8v.8h-.8zM355.9 160.2h.8v.8h-.8zM353.6 159.4h.8v.8h-.8zM361.4 160.2h.8v.8h-.8zM366.8 162.0h.8v.8h-.8zM337.0 159.7h.8v.8h-.8zM314.9 159.8h.8v.8h-.8zM351.5 160.0h.8v.8h-.8zM318.4 159.7h.8v.8h-.8zM371.3 158.8h.8v.8h-.8zM330.4 158.7h.8v.8h-.8zM321.9 159.2h.8v.8h-.8zM319.6 159.5h.8v.8h-.8zM328.3 159.4h.8v.8h-.8zM319.6 158.2h.8v.8h-.8zM321.5 158.7h.8v.8h-.8zM329.1 159.3h.8v.8h-.8zM339.2 158.9h.8v.8h-.8zM336.8 160.2h.8v.8h-.8zM368.0 159.4h.8v.8h-.8zM338.7 159.4h.8v.8h-.8zM318.5 159.6h.8v.8h-.8zM320.1 159.8h.8v.8h-.8zM369.4 159.6h.8v.8h-.8zM334.5 159.5h.8v.8h-.8zM331.4 159.6h.8v.8h-.8zM352.3 159.7h.8v.8h-.8zM363.0 159.7h.8v.8h-.8zM345.0 161.3h.8v.8h-.8zM354.6 159.3h.8v.8h-.8zM331.5 160.5h.8v.8h-.8zM334.4 160.7h.8v.8h-.8zM336.3 159.2h.8v.8h-.8zM350.6 160.6h.8v.8h-.8zM355.0 159.8h.8v.8h-.8zM332.2 158.9h.8v.8h-.8zM362.2 159.7h.8v.8h-.8zM351.5 160.7h.8v.8h-.8zM330.6 160.0h.8v.8h-.8zM334.5 159.2h.8v.8h-.8zM320.9 160.1h.8v.8h-.8zM359.1 160.9h.8v.8h-.8zM311.3 158.3h.8v.8h-.8zM340.2 160.1h.8v.8h-.8zM332.1 159.5h.8v.8h-.8zM342.5 159.6h.8v.8h-.8zM367.0 160.2h.8v.8h-.8zM330.2 159.6h.8v.8h-.8zM333.5 160.3h.8v.8h-.8zM325.7 159.8h.8v.8h-.8zM332.5 159.5h.8v.8h-.8zM366.0 160.0h.8v.8h-.8zM342.9 159.1h.8v.8h-.8zM360.4 160.3h.8v.8h-.8zM319.5 158.2h.8v.8h-.8zM321.5 158.5h.8v.8h-.8zM313.3 158.0h.8v.8h-.8zM323.7 159.0h.8v.8h-.8zM313.2 158.0h.8v.8h-.8zM354.1 161.1h.8v.8h-.8z" fill="#222"/>
<path d="M472.0 146.2h.8v.8h-.8zM474.5 139.8h.8v.8h-.8zM499.1 147.3h.8v.8h-.8zM472.1 138.8h.8v.8h-.8zM470.8 144.1h.8v.8h-.8zM470.5 142.8h.8v.8h-.8zM496.0 139.5h.8v.8h-.8zM473.7 140.5h.8v.8h-.8zM474.2 136.7h.8v.8h-.8zM479.5 147.8h.8v.8h-.8zM480.5 141.3h.8v.8h-.8zM476.2 143.6h.8v.8h-.8zM495.9 144.4h.8v.8h-.8zM473.5 144.6h.8v.8h-.8zM479.1 141.9h.8v.8h-.8zM486.0 139.9h.8v.8h-.8zM494.1 150.1h.8v.8h-.8zM503.1 144.1h.8v.8h-.8zM488.1 128.9h.8v.8h-.8zM489.4 146.4h.8v.8h-.8zM478.7 132.0h.8v.8h-.8zM474.1 141.1h.8v.8h-.8zM480.2 141.9h.8v.8h-.8zM504.2 141.3h.8v.8h-.8zM502.6 141.2h.8v.8h-.8zM503.8 142.0h.8v.8h-.8zM481.3 138.5h.8v.8h-.8zM497.6 132.9h.8v.8h-.8zM481.1 155.8h.8v.8h-.8zM490.2 139.3h.8v.8h-.8zM476.6 146.5h.8v.8h-.8zM500.0 135.2h.8v.8h-.8zM476.4 139.9h.8v.8h-.8zM484.2 139.9h.8v.8h-.8zM471.8 151.7h.8v.8h-.8zM500.3 137.3h.8v.8h-.8zM488.0 149.5h.8v.8h-.8zM481.8 137.9h.8v.8h-.8zM472.3 146.0h.8v.8h-.8zM476.8 149.8h.8v.8h-.8zM482.3 149.9h.8v.8h-.8zM497.4 141.6h.8v.8h-.8zM492.1 153.9h.8v.8h-.8zM472.2 135.2h.8v.8h-.8zM475.1 142.4h.8v.8h-.8zM492.5 140.9h.8v.8h-.8zM487.9 142.0h.8v.8h-.8zM504.9 142.6h.8v.8h-.8zM480.8 148.2h.8v.8h-.8zM472.7 140.6h.8v.8h-.8zM499.2 149.9h.8v.8h-.8zM471.2 147.1h.8v.8h-.8zM473.0 140.2h.8v.8h-.8zM491.4 138.2h.8v.8h-.8zM505.7 147.1h.8v.8h-.8zM470.7 140.4h.8v.8h-.8zM483.4 143.5h.8v.8h-.8zM496.8 141.1h.8v.8h-.8zM474.3 147.7h.8v.8h-.8zM472.7 148.2h.8v.8h-.8zM474.3 137.9h.8v.8h-.8zM473.8 142.1h.8v.8h-.8zM476.1 143.5h.8v.8h-.8zM490.1 157.1h.8v.8h-.8zM486.1 133.1h.8v.8h-.8zM504.6 135.8h.8v.8h-.8zM475.6 134.8h.8v.8h-.8zM483.2 148.9h.8v.8h-.8zM473.7 139.8h.8v.8h-.8zM481.0 135.5h.8v.8h-.8zM473.9 145.5h.8v.8h-.8zM484.4 147.4h.8v.8h-.8zM476.6 137.8h.8v.8h-.8zM500.3 150.1h.8v.8h-.8zM488.8 149.6h.8v.8h-.8zM479.7 151.8h.8v.8h-.8zM488.5 141.7h.8v.8h-.8zM478.0 146.4h.8v.8h-.8zM470.6 142.7h.8v.8h-.8zM477.1 144.6h.8v.8h-.8zM491.0 126.1h.8v.8h-.8zM494.5 134.9h.8v.8h-.8zM479.5 149.4h.8v.8h-.8zM486.6 139.2h.8v.8h-.8zM489.6 136.3h.8v.8h-.8zM477.5 145.9h.8v.8h-.8zM471.4 147.4h.8v.8h-.8zM474.9 142.5h.8v.8h-.8zM485.0 150.9h.8v.8h-.8zM493.4 151.8h.8v.8h-.8zM494.0 131.6h.8v.8h-.8zM496.4 144.6h.8v.8h-.8zM481.8 142.1h.8v.8h-.8zM470.2 146.9h.8v.8h-.8zM481.4 148.3h.8v.8h-.8zM470.3 142.8h.8v.8h-.8zM472.3 145.2h.8v.8h-.8zM485.3 134.8h.8v.8h-.8zM481.0 155.3h.8v.8h-.8zM495.3 155.5h.8v.8h-.8zM472.5 142.0h.8v.8h-.8zM473.4 138.5h.8v.8h-.8zM479.6 135.0h.8v.8h-.8zM473.7 137.5h.8v.8h-.8zM497.4 134.8h.8v.8h-.8zM476.2 143.9h.8v.8h-.8zM473.4 144.2h.8v.8h-.8zM488.8 143.4h.8v.8h-.8zM484.8 138.6h.8v.8h-.8zM488.1 135.7h.8v.8h-.8zM486.6 139.6h.8v.8h-.8zM470.3 146.1h.8v.8h-.8zM475.7 143.9h.8v.8h-.8zM499.9 142.9h.8v.8h-.8zM475.8 151.2h.8v.8h-.8zM472.1 137.9h.8v.8h-.8zM478.6 142.8h.8v.8h-.8zM500.6 144.3h.8v.8h-.8zM482.7 128.7h.8v.8h-.8zM489.6 141.8h.8v.8h-.8zM474.2 143.8h.8v.8h-.8zM478.5 143.0h.8v.8h-.8zM472.0 139.4h.8v.8h-.8zM477.8 137.7h.8v.8h-.8zM485.2 146.4h.8v.8h-.8zM473.6 140.8h.8v.8h-.8zM477.7 137.0h.8v.8h-.8zM495.9 157.5h.8v.8h-.8zM481.8 143.0h.8v.8h-.8zM472.8 143.3h.8v.8h-.8zM490.7 138.8h.8v.8h-.8zM471.3 138.3h.8v.8h-.8zM472.3 141.9h.8v.8h-.8zM498.7 140.0h.8v.8h-.8zM473.9 136.7h.8v.8h-.8zM493.4 132.0h.8v.8h-.8zM472.0 144.7h.8v.8h-.8zM480.7 142.2h.8v.8h-.8zM474.7 148.2h.8v.8h-.8zM478.6 141.3h.8v.8h-.8zM475.3 149.2h.8v.8h-.8zM480.8 139.8h.8v.8h-.8zM473.6 137.6h.8v.8h-.8zM471.5 129.6h.8v.8h-.8zM472.2 137.1h.8v.8h-.8zM474.6 142.0h.8v.8h-.8zM493.4 128.4h.8v.8h-.8zM477.3 142.4h.8v.8h-.8zM473.2 137.4h.8v.8h-.8zM484.0 148.6h.8v.8h-.8zM495.3 150.6h.8v.8h-.8zM488.2 144.1h.8v.8h-.8zM496.6 141.7h.8v.8h-.8zM504.1 148.2h.8v.8h-.8zM471.2 144.5h.8v.8h-.8zM488.5 141.0h.8v.8h-.8zM495.1 135.0h.8v.8h-.8zM479.7 141.1h.8v.8h-.8zM482.2 144.7h.8v.8h-.8zM497.4 142.2h.8v.8h-.8zM496.7 148.0h.8v.8h-.8zM493.5 147.0h.8v.8h-.8zM470.1 145.7h.8v.8h-.8zM502.6 159.8h.8v.8h-.8zM491.8 132.0h.8v.8h-.8zM485.5 140.4h.8v.8h-.8zM483.9 139.0h.8v.8h-.8zM485.1 147.3h.8v.8h-.8zM488.7 143.0h.8v.8h-.8zM484.8 147.0h.8v.8h-.8zM484.8 134.1h.8v.8h-.8zM474.3 145.5h.8v.8h-.8zM486.0 140.3h.8v.8h-.8zM495.7 155.4h.8v.8h-.8zM502.1 135.5h.8v.8h-.8zM485.1 138.4h.8v.8h-.8zM480.9 145.4h.8v.8h-.8zM496.1 145.9h.8v.8h-.8zM497.8 133.6h.8v.8h-.8zM475.1 137.8h.8v.8h-.8zM477.7 143.5h.8v.8h-.8zM479.4 142.4h.8v.8h-.8zM474.9 134.4h.8v.8h-.8zM475.6 143.6h.8v.8h-.8zM493.8 131.3h.8v.8h-.8zM491.3 140.1h.8v.8h-.8zM471.3 139.0h.8v.8h-.8zM479.5 155.7h.8v.8h-.8zM485.7 145.4h.8v.8h-.8zM493.5 155.4h.8v.8h-.8zM475.5 140.3h.8v.8h-.8zM478.7 149.4h.8v.8h-.8zM498.2 151.4h.8v.8h-.8zM484.1 138.8h.8v.8h-.8zM484.1 145.7h.8v.8h-.8zM496.3 154.3h.8v.8h-.8zM482.2 137.6h.8v.8h-.8zM474.3 144.2h.8v.8h-.8zM481.8 145.6h.8v.8h-.8zM479.9 150.9h.8v.8h-.8zM472.7 146.0h.8v.8h-.8zM480.7 138.6h.8v.8h-.8zM489.1 142.1h.8v.8h-.8zM480.5 143.2h.8v.8h-.8zM480.1 147.4h.8v.8h-.8zM500.3 142.7h.8v.8h-.8zM478.6 138.9h.8v.8h-.8zM474.4 136.2h.8v.8h-.8zM470.4 139.5h.8v.8h-.8zM477.4 135.9h.8v.8h-.8zM474.7 148.4h.8v.8h-.8zM475.6 133.7h.8v.8h-.8zM488.6 136.8h.8v.8h-.8zM470.8 140.5h.8v.8h-.8zM478.3 137.7h.8v.8h-.8zM485.1 135.4h.8v.8h-.8zM472.8 143.0h.8v.8h-.8zM481.4 146.9h.8v.8h-.8zM479.5 144.3h.8v.8h-.8zM475.8 144.4h.8v.8h-.8zM488.7 138.1h.8v.8h-.8zM480.0 151.6h.8v.8h-.8zM505.2 146.0h.8v.8h-.8zM476.6 143.0h.8v.8h-.8zM471.2 139.9h.8v.8h-.8zM490.7 145.6h.8v.8h-.8zM501.8 148.2h.8v.8h-.8zM480.4 136.2h.8v.8h-.8zM504.0 147.7h.8v.8h-.8zM499.5 146.1h.8v.8h-.8zM482.3 144.6h.8v.8h-.8zM483.1 142.0h.8v.8h-.8zM475.1 144.2h.8v.8h-.8zM472.0 142.1h.8v.8h-.8zM479.7 136.2h.8v.8h-.8zM477.2 144.6h.8v.8h-.8zM473.9 140.8h.8v.8h-.8zM485.1 136.1h.8v.8h-.8zM475.0 145.3h.8v.8h-.8zM478.6 138.6h.8v.8h-.8zM490.2 136.8h.8v.8h-.8zM471.9 140.7h.8v.8h-.8zM492.6 144.8h.8v.8h-.8zM486.1 139.4h.8v.8h-.8zM478.7 130.5h.8v.8h-.8zM479.5 148.8h.8v.8h-.8zM480.9 146.5h.8v.8h-.8zM493.1 151.5h.8v.8h-.8zM482.5 138.5h.8v.8h-.8zM503.0 145.7h.8v.8h-.8zM482.9 144.9h.8v.8h-.8zM498.0 135.2h.8v.8h-.8zM470.6 144.1h.8v.8h-.8zM493.8 133.5h.8v.8h-.8zM474.7 142.2h.8v.8h-.8zM474.0 137.8h.8v.8h-.8zM476.3 136.1h.8v.8h-.8zM491.9 148.7h.8v.8h-.8zM474.0 146.9h.8v.8h-.8zM485.1 139.0h.8v.8h-.8zM473.0 147.3h.8v.8h-.8zM484.0 139.7h.8v.8h-.8zM477.8 140.2h.8v.8h-.8zM494.0 132.0h.8v.8h-.8zM502.0 138.6h.8v.8h-.8zM487.9 143.4h.8v.8h-.8zM487.7 142.2h.8v.8h-.8zM482.6 136.5h.8v.8h-.8zM472.4 136.4h.8v.8h-.8zM490.0 158.1h.8v.8h-.8zM497.5 140.4h.8v.8h-.8zM474.1 151.0h.8v.8h-.8zM482.3 146.4h.8v.8h-.8zM486.1 133.5h.8v.8h-.8zM478.7 153.0h.8v.8h-.8zM470.6 141.3h.8v.8h-.8zM471.6 143.4h.8v.8h-.8zM490.7 145.1h.8v.8h-.8zM477.3 144.2h.8v.8h-.8zM476.9 151.7h.8v.8h-.8zM477.0 145.4h.8v.8h-.8zM475.5 134.8h.8v.8h-.8zM472.0 147.0h.8v.8h-.8zM490.0 138.1h.8v.8h-.8zM483.2 149.4h.8v.8h-.8zM502.6 136.4h.8v.8h-.8zM477.0 141.8h.8v.8h-.8zM476.0 132.9h.8v.8h-.8zM495.1 137.7h.8v.8h-.8zM475.2 144.2h.8v.8h-.8zM484.7 147.6h.8v.8h-.8zM470.6 142.3h.8v.8h-.8zM479.3 143.3h.8v.8h-.8zM497.9 149.4h.8v.8h-.8zM492.7 134.6h.8v.8h-.8zM473.5 145.2h.8v.8h-.8zM502.7 144.0h.8v.8h-.8zM474.7 141.3h.8v.8h-.8zM505.4 133.5h.8v.8h-.8zM472.1 141.1h.8v.8h-.8zM483.9 150.6h.8v.8h-.8zM480.0 138.7h.8v.8h-.8zM482.2 140.2h.8v.8h-.8zM470.0 143.0h.8v.8h-.8zM487.0 134.7h.8v.8h-.8zM472.8 138.4h.8v.8h-.8zM501.7 137.5h.8v.8h-.8zM502.6 159.2h.8v.8h-.8zM494.0 145.3h.8v.8h-.8zM493.7 134.7h.8v.8h-.8zM481.2 144.5h.8v.8h-.8zM485.1 144.7h.8v.8h-.8zM480.4 144.2h.8v.8h-.8zM488.2 145.5h.8v.8h-.8zM474.5 136.4h.8v.8h-.8zM482.2 143.2h.8v.8h-.8zM484.8 142.7h.8v.8h-.8zM474.7 149.9h.8v.8h-.8zM487.8 144.8h.8v.8h-.8zM486.3 144.4h.8v.8h-.8zM477.7 150.9h.8v.8h-.8zM497.4 143.5h.8v.8h-.8zM492.1 151.5h.8v.8h-.8zM479.8 140.1h.8v.8h-.8zM491.8 142.4h.8v.8h-.8zM494.8 147.7h.8v.8h-.8zM497.9 150.6h.8v.8h-.8zM472.3 146.7h.8v.8h-.8zM471.1 135.0h.8v.8h-.8zM476.0 145.3h.8v.8h-.8zM471.9 143.7h.8v.8h-.8zM484.2 142.1h.8v.8h-.8zM483.1 147.1h.8v.8h-.8zM479.8 144.2h.8v.8h-.8zM472.6 135.3h.8v.8h-.8zM475.3 146.4h.8v.8h-.8zM472.4 142.3h.8v.8h-.8zM495.3 147.0h.8v.8h-.8zM475.0 126.7h.8v.8h-.8zM470.8 142.3h.8v.8h-.8zM480.5 141.3h.8v.8h-.8zM485.2 135.8h.8v.8h-.8zM500.9 145.5h.8v.8h-.8zM481.0 142.6h.8v.8h-.8zM487.3 147.4h.8v.8h-.8zM483.1 138.1h.8v.8h-.8zM487.2 139.9h.8v.8h-.8zM491.1 142.9h.8v.8h-.8zM477.5 142.6h.8v.8h-.8zM496.4 141.4h.8v.8h-.8zM491.8 137.2h.8v.8h-.8zM492.6 141.2h.8v.8h-.8zM482.3 141.1h.8v.8h-.8zM478.3 138.2h.8v.8h-.8zM472.9 139.8h.8v.8h-.8zM493.5 139.0h.8v.8h-.8zM477.7 151.0h.8v.8h-.8zM486.7 143.3h.8v.8h-.8zM497.8 138.3h.8v.8h-.8zM471.5 143.0h.8v.8h-.8zM497.2 141.4h.8v.8h-.8zM479.7 144.4h.8v.8h-.8zM484.7 147.7h.8v.8h-.8zM481.3 147.1h.8v.8h-.8zM477.5 146.4h.8v.8h-.8zM475.5 145.6h.8v.8h-.8zM480.6 142.3h.8v.8h-.8zM472.5 138.6h.8v.8h-.8zM470.9 134.1h.8v.8h-.8zM474.8 145.1h.8v.8h-.8zM482.3 142.5h.8v.8h-.8zM473.5 138.5h.8v.8h-.8zM485.5 128.8h.8v.8h-.8zM475.7 137.4h.8v.8h-.8zM470.7 140.5h.8v.8h-.8zM482.4 146.4h.8v.8h-.8zM488.6 139.2h.8v.8h-.8zM496.2 158.7h.8v.8h-.8zM472.4 145.9h.8v.8h-.8zM477.6 141.9h.8v.8h-.8zM480.0 141.0h.8v.8h-.8zM472.9 141.3h.8v.8h-.8zM473.5 142.2h.8v.8h-.8zM475.3 143.9h.8v.8h-.8zM474.6 143.1h.8v.8h-.8zM485.4 149.7h.8v.8h-.8zM481.4 150.1h.8v.8h-.8zM476.1 142.6h.8v.8h-.8zM471.0 150.0h.8v.8h-.8zM498.7 158.4h.8v.8h-.8zM481.1 149.9h.8v.8h-.8zM489.2 144.2h.8v.8h-.8zM471.4 140.6h.8v.8h-.8zM495.0 131.5h.8v.8h-.8zM476.9 137.9h.8v.8h-.8zM484.5 144.7h.8v.8h-.8zM477.0 147.1h.8v.8h-.8zM488.6 140.4h.8v.8h-.8zM491.7 147.6h.8v.8h-.8zM471.9 143.7h.8v.8h-.8zM475.5 136.7h.8v.8h-.8zM472.6 136.9h.8v.8h-.8zM496.9 141.6h.8v.8h-.8zM479.9 132.2h.8v.8h-.8zM476.8 147.6h.8v.8h-.8zM476.3 144.8h.8v.8h-.8zM474.8 136.1h.8v.8h-.8zM487.3 132.5h.8v.8h-.8zM471.8 143.8h.8v.8h-.8zM476.3 139.8h.8v.8h-.8zM490.2 144.8h.8v.8h-.8zM496.4 150.4h.8v.8h-.8zM472.1 141.0h.8v.8h-.8zM483.6 139.7h.8v.8h-.8zM492.2 141.3h.8v.8h-.8zM474.5 140.8h.8v.8h-.8zM479.9 145.8h.8v.8h-.8zM495.2 141.4h.8v.8h-.8zM480.9 134.0h.8v.8h-.8zM487.8 137.8h.8v.8h-.8zM483.2 123.6h.8v.8h-.8zM496.5 155.2h.8v.8h-.8zM476.6 133.2h.8v.8h-.8zM502.7 134.5h.8v.8h-.8zM479.7 142.8h.8v.8h-.8zM503.9 151.7h.8v.8h-.8zM493.4 130.0h.8v.8h-.8zM473.9 145.4h.8v.8h-.8zM475.0 147.2h.8v.8h-.8zM478.7 144.6h.8v.8h-.8zM496.7 144.9h.8v.8h-.8zM475.4 144.6h.8v.8h-.8zM477.6 141.5h.8v.8h-.8zM470.3 146.1h.8v.8h-.8zM482.1 141.4h.8v.8h-.8zM479.9 156.1h.8v.8h-.8zM475.5 142.1h.8v.8h-.8zM476.2 144.3h.8v.8h-.8zM496.2 142.7h.8v.8h-.8zM488.4 137.0h.8v.8h-.8zM477.1 142.0h.8v.8h-.8zM472.8 142.6h.8v.8h-.8zM496.2 140.8h.8v.8h-.8zM505.1 138.2h.8v.8h-.8zM505.4 131.0h.8v.8h-.8zM473.5 138.6h.8v.8h-.8zM480.8 141.0h.8v.8h-.8zM474.5 140.5h.8v.8h-.8zM501.9 131.0h.8v.8h-.8zM490.9 129.0h.8v.8h-.8zM505.4 129.8h.8v.8h-.8zM487.7 135.1h.8v.8h-.8zM479.8 153.2h.8v.8h-.8zM472.3 138.7h.8v.8h-.8zM491.9 133.1h.8v.8h-.8zM501.8 124.5h.8v.8h-.8zM482.5 132.5h.8v.8h-.8zM478.1 144.2h.8v.8h-.8zM472.5 136.3h.8v.8h-.8zM476.0 136.0h.8v.8h-.8zM494.3 145.2h.8v.8h-.8zM473.1 140.6h.8v.8h-.8zM484.4 134.5h.8v.8h-.8zM482.5 144.3h.8v.8h-.8zM474.0 135.8h.8v.8h-.8zM482.7 144.2h.8v.8h-.8zM470.4 137.9h.8v.8h-.8zM481.3 147.9h.8v.8h-.8zM488.7 132.5h.8v.8h-.8zM475.7 140.2h.8v.8h-.8zM480.6 148.2h.8v.8h-.8zM491.9 135.7h.8v.8h-.8zM489.7 141.9h.8v.8h-.8zM470.3 145.6h.8v.8h-.8zM472.1 146.3h.8v.8h-.8zM495.3 156.6h.8v.8h-.8zM488.6 139.4h.8v.8h-.8zM488.4 148.7h.8v.8h-.8zM476.4 142.5h.8v.8h-.8zM490.5 150.2h.8v.8h-.8zM480.0 144.8h.8v.8h-.8zM484.3 139.7h.8v.8h-.8zM497.8 144.2h.8v.8h-.8zM504.1 138.4h.8v.8h-.8zM489.3 140.1h.8v.8h-.8zM471.0 141.5h.8v.8h-.8zM488.2 139.0h.8v.8h-.8zM480.1 139.4h.8v.8h-.8zM490.3 153.5h.8v.8h-.8zM478.5 130.4h.8v.8h-.8zM487.7 138.0h.8v.8h-.8zM470.6 137.0h.8v.8h-.8zM483.0 133.0h.8v.8h-.8zM490.6 132.1h.8v.8h-.8zM486.1 143.4h.8v.8h-.8zM495.8 143.3h.8v.8h-.8zM478.2 141.8h.8v.8h-.8zM470.7 144.8h.8v.8h-.8zM492.1 143.8h.8v.8h-.8zM480.1 138.2h.8v.8h-.8zM475.4 140.4h.8v.8h-.8zM489.7 133.9h.8v.8h-.8zM478.3 130.9h.8v.8h-.8zM501.9 130.8h.8v.8h-.8zM480.3 148.8h.8v.8h-.8zM479.0 143.2h.8v.8h-.8zM487.3 138.2h.8v.8h-.8zM501.4 143.7h.8v.8h-.8zM476.7 141.7h.8v.8h-.8zM484.4 145.5h.8v.8h-.8zM480.7 129.8h.8v.8h-.8zM471.4 139.2h.8v.8h-.8zM478.5 143.7h.8v.8h-.8zM477.6 144.4h.8v.8h-.8zM495.5 138.6h.8v.8h-.8zM504.2 139.8h.8v.8h-.8zM485.0 149.3h.8v.8h-.8zM475.2 150.2h.8v.8h-.8zM475.5 138.8h.8v.8h-.8zM470.0 147.1h.8v.8h-.8zM472.2 136.1h.8v.8h-.8zM500.7 143.9h.8v.8h-.8zM478.0 138.9h.8v.8h-.8zM487.7 141.3h.8v.8h-.8zM486.5 147.0h.8v.8h-.8zM473.1 148.0h.8v.8h-.8zM475.9 134.2h.8v.8h-.8zM495.3 140.3h.8v.8h-.8zM501.9 138.1h.8v.8h-.8zM500.7 140.7h.8v.8h-.8zM477.0 144.3h.8v.8h-.8zM501.2 126.5h.8v.8h-.8zM473.7 143.8h.8v.8h-.8zM472.4 136.9h.8v.8h-.8zM473.7 149.7h.8v.8h-.8zM471.6 142.1h.8v.8h-.8zM493.3 138.8h.8v.8h-.8zM471.8 142.2h.8v.8h-.8zM481.1 140.7h.8v.8h-.8zM478.8 142.5h.8v.8h-.8zM475.9 144.0h.8v.8h-.8zM502.4 128.5h.8v.8h-.8zM486.0 141.1h.8v.8h-.8zM480.3 139.4h.8v.8h-.8zM477.3 140.4h.8v.8h-.8zM475.1 149.8h.8v.8h-.8zM478.3 140.0h.8v.8h-.8zM491.5 156.2h.8v.8h-.8zM483.8 132.1h.8v.8h-.8zM482.6 131.4h.8v.8h-.8zM476.3 138.1h.8v.8h-.8zM476.3 146.8h.8v.8h-.8zM500.9 148.3h.8v.8h-.8zM473.6 129.5h.8v.8h-.8zM483.9 149.8h.8v.8h-.8zM480.2 148.3h.8v.8h-.8zM480.0 132.3h.8v.8h-.8zM472.8 137.4h.8v.8h-.8zM492.8 138.9h.8v.8h-.8zM477.2 147.8h.8v.8h-.8zM482.5 129.4h.8v.8h-.8zM473.2 143.7h.8v.8h-.8zM481.3 133.2h.8v.8h-.8zM479.9 143.9h.8v.8h-.8zM499.5 137.0h.8v.8h-.8zM483.4 138.7h.8v.8h-.8zM504.0 145.3h.8v.8h-.8zM475.3 149.1h.8v.8h-.8zM479.9 135.9h.8v.8h-.8zM472.4 139.0h.8v.8h-.8zM471.5 136.5h.8v.8h-.8zM482.5 141.2h.8v.8h-.8zM481.4 144.8h.8v.8h-.8zM474.0 147.8h.8v.8h-.8zM486.5 138.9h.8v.8h-.8zM481.7 142.1h.8v.8h-.8zM484.4 147.5h.8v.8h-.8zM482.5 149.6h.8v.8h-.8zM474.9 141.3h.8v.8h-.8zM471.2 144.2h.8v.8h-.8zM502.2 149.0h.8v.8h-.8zM482.3 152.2h.8v.8h-.8zM486.3 140.2h.8v.8h-.8zM471.4 141.8h.8v.8h-.8zM493.3 139.4h.8v.8h-.8zM487.0 144.4h.8v.8h-.8zM492.5 142.5h.8v.8h-.8zM484.1 143.9h.8v.8h-.8zM470.7 141.6h.8v.8h-.8zM476.9 135.1h.8v.8h-.8zM482.5 142.5h.8v.8h-.8zM474.2 145.1h.8v.8h-.8zM505.7 127.9h.8v.8h-.8zM479.0 144.6h.8v.8h-.8zM504.8 131.0h.8v.8h-.8zM480.5 137.5h.8v.8h-.8zM487.4 148.6h.8v.8h-.8zM493.6 161.0h.8v.8h-.8zM486.1 140.2h.8v.8h-.8zM478.6 140.2h.8v.8h-.8zM475.5 142.5h.8v.8h-.8zM482.4 141.3h.8v.8h-.8zM477.6 134.1h.8v.8h-.8zM475.6 140.9h.8v.8h-.8zM497.1 135.6h.8v.8h-.8zM479.1 142.6h.8v.8h-.8zM505.7 129.9h.8v.8h-.8zM470.2 150.3h.8v.8h-.8zM480.4 143.4h.8v.8h-.8zM501.1 139.7h.8v.8h-.8zM502.4 147.7h.8v.8h-.8zM486.9 142.4h.8v.8h-.8zM470.8 137.3h.8v.8h-.8zM501.2 144.1h.8v.8h-.8zM470.0 146.5h.8v.8h-.8zM476.3 137.8h.8v.8h-.8zM491.4 131.5h.8v.8h-.8zM482.4 141.2h.8v.8h-.8zM474.9 135.1h.8v.8h-.8zM486.2 133.6h.8v.8h-.8zM474.7 137.7h.8v.8h-.8zM477.9 140.8h.8v.8h-.8zM479.1 144.1h.8v.8h-.8zM497.6 137.7h.8v.8h-.8zM497.8 139.7h.8v.8h-.8zM472.6 142.1h.8v.8h-.8zM472.1 139.7h.8v.8h-.8zM476.1 138.2h.8v.8h-.8zM495.1 154.8h.8v.8h-.8zM487.4 141.6h.8v.8h-.8zM470.3 140.4h.8v.8h-.8zM474.7 145.7h.8v.8h-.8zM481.9 143.1h.8v.8h-.8zM477.8 153.2h.8v.8h-.8zM476.7 143.0h.8v.8h-.8zM475.0 145.5h.8v.8h-.8zM472.7 144.9h.8v.8h-.8zM474.2 142.1h.8v.8h-.8zM482.5 149.8h.8v.8h-.8zM477.7 133.3h.8v.8h-.8zM497.2 139.8h.8v.8h-.8zM478.9 150.3h.8v.8h-.8zM487.4 136.3h.8v.8h-.8zM483.6 140.5h.8v.8h-.8zM489.8 155.0h.8v.8h-.8zM470.7 141.2h.8v.8h-.8zM486.2 137.6h.8v.8h-.8zM493.1 149.2h.8v.8h-.8zM474.5 138.7h.8v.8h-.8zM474.4 141.8h.8v.8h-.8zM476.8 140.7h.8v.8h-.8zM472.6 145.3h.8v.8h-.8zM474.1 146.6h.8v.8h-.8zM503.5 152.5h.8v.8h-.8zM472.9 143.6h.8v.8h-.8zM483.4 152.1h.8v.8h-.8zM478.9 153.1h.8v.8h-.8zM474.7 140.0h.8v.8h-.8zM486.7 145.1h.8v.8h-.8zM501.5 142.1h.8v.8h-.8zM472.2 136.2h.8v.8h-.8zM497.2 150.6h.8v.8h-.8zM478.1 140.0h.8v.8h-.8zM499.4 134.2h.8v.8h-.8zM470.9 145.8h.8v.8h-.8zM504.4 138.4h.8v.8h-.8zM483.5 144.0h.8v.8h-.8zM486.7 137.0h.8v.8h-.8zM470.5 140.4h.8v.8h-.8zM493.9 123.8h.8v.8h-.8zM497.5 148.4h.8v.8h-.8zM489.7 157.8h.8v.8h-.8zM482.2 143.4h.8v.8h-.8zM489.1 144.3h.8v.8h-.8zM470.6 139.1h.8v.8h-.8zM473.1 143.4h.8v.8h-.8zM473.3 139.0h.8v.8h-.8zM473.0 137.0h.8v.8h-.8zM481.3 142.5h.8v.8h-.8zM481.5 141.9h.8v.8h-.8zM471.2 144.1h.8v.8h-.8zM495.1 139.8h.8v.8h-.8zM484.4 138.7h.8v.8h-.8zM485.2 142.3h.8v.8h-.8zM504.2 154.8h.8v.8h-.8zM481.5 150.7h.8v.8h-.8zM476.5 142.5h.8v.8h-.8zM492.0 150.2h.8v.8h-.8zM487.8 148.3h.8v.8h-.8zM485.2 137.3h.8v.8h-.8zM478.4 143.0h.8v.8h-.8zM477.9 145.9h.8v.8h-.8zM470.7 145.1h.8v.8h-.8zM495.3 143.7h.8v.8h-.8zM497.7 142.5h.8v.8h-.8zM497.6 135.2h.8v.8h-.8zM474.9 136.1h.8v.8h-.8zM501.6 138.1h.8v.8h-.8zM473.9 137.3h.8v.8h-.8zM504.5 156.3h.8v.8h-.8zM472.4 144.1h.8v.8h-.8zM497.2 141.8h.8v.8h-.8zM502.0 129.4h.8v.8h-.8zM485.3 129.0h.8v.8h-.8zM492.1 135.8h.8v.8h-.8zM492.6 134.8h.8v.8h-.8zM499.9 136.9h.8v.8h-.8zM488.0 147.0h.8v.8h-.8zM481.6 146.5h.8v.8h-.8zM482.0 137.0h.8v.8h-.8zM480.5 140.1h.8v.8h-.8zM481.8 131.5h.8v.8h-.8zM472.0 150.4h.8v.8h-.8zM470.4 141.4h.8v.8h-.8zM482.6 136.3h.8v.8h-.8zM488.9 138.7h.8v.8h-.8zM470.3 144.3h.8v.8h-.8zM483.2 140.3h.8v.8h-.8zM478.3 152.4h.8v.8h-.8zM475.8 141.9h.8v.8h-.8zM503.7 156.1h.8v.8h-.8zM483.4 138.8h.8v.8h-.8zM503.8 146.4h.8v.8h-.8zM489.0 139.5h.8v.8h-.8zM473.3 137.2h.8v.8h-.8zM471.3 141.9h.8v.8h-.8zM505.0 138.6h.8v.8h-.8zM493.2 126.6h.8v.8h-.8zM490.3 149.7h.8v.8h-.8zM481.5 146.6h.8v.8h-.8zM476.1 149.3h.8v.8h-.8zM472.7 139.0h.8v.8h-.8zM475.5 138.6h.8v.8h-.8zM478.3 147.8h.8v.8h-.8zM482.2 143.5h.8v.8h-.8zM496.9 137.4h.8v.8h-.8zM478.5 154.3h.8v.8h-.8zM478.4 137.7h.8v.8h-.8zM489.7 147.6h.8v.8h-.8zM490.6 146.8h.8v.8h-.8zM491.5 141.1h.8v.8h-.8zM472.8 143.1h.8v.8h-.8zM487.4 144.8h.8v.8h-.8zM490.4 147.4h.8v.8h-.8zM488.6 141.6h.8v.8h-.8zM476.8 142.7h.8v.8h-.8zM476.4 139.3h.8v.8h-.8zM482.2 145.0h.8v.8h-.8zM474.5 140.6h.8v.8h-.8zM473.0 143.0h.8v.8h-.8zM480.6 147.0h.8v.8h-.8zM500.1 134.1h.8v.8h-.8zM480.7 145.7h.8v.8h-.8zM501.5 149.6h.8v.8h-.8z" fill="#222"/>
<path d="M465.7 126.9h.8v.8h-.8zM441.4 134.6h.8v.8h-.8zM463.5 126.8h.8v.8h-.8zM437.4 135.4h.8v.8h-.8zM450.9 131.8h.8v.8h-.8zM452.7 130.9h.8v.8h-.8zM459.6 128.6h.8v.8h-.8zM424.4 138.6h.8v.8h-.8zM457.5 128.7h.8v.8h-.8zM449.3 132.3h.8v.8h-.8zM441.5 134.7h.8v.8h-.8zM435.5 136.4h.8v.8h-.8zM411.9 136.9h.8v.8h-.8zM461.1 127.1h.8v.8h-.8zM427.3 135.7h.8v.8h-.8zM458.6 127.6h.8v.8h-.8zM425.8 130.5h.8v.8h-.8zM411.8 139.2h.8v.8h-.8zM466.2 127.1h.8v.8h-.8zM447.7 132.3h.8v.8h-.8zM415.9 138.6h.8v.8h-.8zM440.6 133.9h.8v.8h-.8zM437.9 129.1h.8v.8h-.8zM410.2 139.9h.8v.8h-.8zM417.0 139.0h.8v.8h-.8zM451.4 130.4h.8v.8h-.8zM418.6 138.4h.8v.8h-.8zM417.3 139.0h.8v.8h-.8zM443.0 133.6h.8v.8h-.8zM458.2 128.4h.8v.8h-.8zM465.6 127.0h.8v.8h-.8zM457.5 129.0h.8v.8h-.8zM462.8 127.7h.8v.8h-.8zM442.1 133.4h.8v.8h-.8zM463.2 126.8h.8v.8h-.8zM455.9 129.8h.8v.8h-.8zM460.2 127.6h.8v.8h-.8zM430.0 137.4h.8v.8h-.8zM430.8 136.6h.8v.8h-.8zM462.0 128.0h.8v.8h-.8zM463.4 126.4h.8v.8h-.8zM414.3 132.4h.8v.8h-.8zM441.6 132.3h.8v.8h-.8zM434.3 136.5h.8v.8h-.8zM417.6 139.4h.8v.8h-.8zM458.6 128.1h.8v.8h-.8zM423.6 136.5h.8v.8h-.8zM441.7 134.8h.8v.8h-.8zM455.0 129.8h.8v.8h-.8zM426.2 136.7h.8v.8h-.8zM454.0 130.3h.8v.8h-.8zM431.4 136.4h.8v.8h-.8zM458.5 128.0h.8v.8h-.8zM409.5 138.8h.8v.8h-.8zM418.2 138.5h.8v.8h-.8zM459.7 126.3h.8v.8h-.8zM416.7 132.5h.8v.8h-.8zM428.9 130.8h.8v.8h-.8zM460.6 127.2h.8v.8h-.8zM428.0 137.4h.8v.8h-.8zM453.7 130.3h.8v.8h-.8zM416.7 139.3h.8v.8h-.8zM460.3 128.0h.8v.8h-.8zM422.7 133.9h.8v.8h-.8zM427.6 138.2h.8v.8h-.8zM445.8 133.1h.8v.8h-.8zM438.0 134.2h.8v.8h-.8zM411.6 138.5h.8v.8h-.8zM463.1 127.5h.8v.8h-.8zM439.1 135.3h.8v.8h-.8zM415.9 136.1h.8v.8h-.8zM430.5 137.4h.8v.8h-.8zM464.9 127.1h.8v.8h-.8zM419.9 137.9h.8v.8h-.8zM442.4 134.4h.8v.8h-.8zM466.6 127.0h.8v.8h-.8zM467.9 127.5h.8v.8h-.8zM467.2 127.9h.8v.8h-.8zM466.4 126.4h.8v.8h-.8zM424.9 138.6h.8v.8h-.8zM424.7 138.5h.8v.8h-.8zM423.6 131.1h.8v.8h-.8zM413.5 138.3h.8v.8h-.8zM417.9 136.1h.8v.8h-.8zM457.9 127.6h.8v.8h-.8zM441.8 134.7h.8v.8h-.8zM450.2 130.8h.8v.8h-.8zM443.4 133.9h.8v.8h-.8zM442.1 134.2h.8v.8h-.8zM465.7 126.9h.8v.8h-.8zM435.4 135.6h.8v.8h-.8zM452.9 130.6h.8v.8h-.8zM463.2 127.2h.8v.8h-.8zM455.4 126.0h.8v.8h-.8zM423.7 138.3h.8v.8h-.8zM422.0 135.9h.8v.8h-.8zM436.1 135.7h.8v.8h-.8zM428.5 137.5h.8v.8h-.8zM429.0 138.0h.8v.8h-.8zM415.3 138.9h.8v.8h-.8zM454.9 129.6h.8v.8h-.8zM417.0 138.2h.8v.8h-.8zM451.2 130.6h.8v.8h-.8zM420.5 138.0h.8v.8h-.8zM443.3 134.1h.8v.8h-.8zM447.8 132.9h.8v.8h-.8zM433.1 136.4h.8v.8h-.8zM449.1 132.0h.8v.8h-.8zM413.1 139.3h.8v.8h-.8zM454.8 128.8h.8v.8h-.8zM413.5 134.6h.8v.8h-.8zM410.8 138.5h.8v.8h-.8zM434.5 136.6h.8v.8h-.8zM447.2 132.4h.8v.8h-.8zM424.4 138.6h.8v.8h-.8zM439.8 134.5h.8v.8h-.8zM415.8 139.5h.8v.8h-.8zM441.3 134.0h.8v.8h-.8zM465.5 126.9h.8v.8h-.8zM417.8 137.5h.8v.8h-.8zM428.3 137.7h.8v.8h-.8zM441.8 133.9h.8v.8h-.8zM469.2 129.2h.8v.8h-.8zM409.4 139.7h.8v.8h-.8zM457.6 129.2h.8v.8h-.8zM409.9 138.4h.8v.8h-.8zM423.5 137.8h.8v.8h-.8zM429.1 134.9h.8v.8h-.8zM458.3 129.2h.8v.8h-.8zM456.7 121.3h.8v.8h-.8zM423.0 137.7h.8v.8h-.8zM469.8 128.8h.8v.8h-.8zM439.6 135.1h.8v.8h-.8zM456.2 129.4h.8v.8h-.8zM463.6 126.8h.8v.8h-.8zM454.4 129.7h.8v.8h-.8zM415.1 139.2h.8v.8h-.8zM412.1 139.6h.8v.8h-.8zM453.4 129.3h.8v.8h-.8zM423.1 138.0h.8v.8h-.8zM462.2 127.6h.8v.8h-.8zM419.7 136.9h.8v.8h-.8zM442.3 133.4h.8v.8h-.8zM444.6 133.1h.8v.8h-.8zM409.1 139.1h.8v.8h-.8zM416.9 139.0h.8v.8h-.8zM410.3 139.6h.8v.8h-.8zM425.0 136.1h.8v.8h-.8zM424.1 138.3h.8v.8h-.8zM431.2 137.6h.8v.8h-.8zM439.4 133.5h.8v.8h-.8zM464.4 126.8h.8v.8h-.8zM416.6 139.4h.8v.8h-.8zM416.3 139.0h.8v.8h-.8zM447.2 131.8h.8v.8h-.8zM410.1 139.0h.8v.8h-.8zM456.3 128.1h.8v.8h-.8zM421.4 137.9h.8v.8h-.8zM466.6 126.2h.8v.8h-.8zM450.4 125.6h.8v.8h-.8zM420.4 138.3h.8v.8h-.8zM448.4 131.9h.8v.8h-.8zM422.0 138.1h.8v.8h-.8zM423.9 138.6h.8v.8h-.8zM449.4 130.4h.8v.8h-.8zM445.4 129.0h.8v.8h-.8zM446.0 127.3h.8v.8h-.8zM423.9 137.7h.8v.8h-.8zM433.4 136.4h.8v.8h-.8zM460.7 126.5h.8v.8h-.8zM448.3 132.7h.8v.8h-.8zM455.8 129.9h.8v.8h-.8zM457.1 128.3h.8v.8h-.8zM439.1 134.1h.8v.8h-.8zM470.4 129.8h.8v.8h-.8zM450.2 129.6h.8v.8h-.8zM410.7 140.0h.8v.8h-.8zM428.0 135.9h.8v.8h-.8zM436.4 135.6h.8v.8h-.8zM441.6 130.0h.8v.8h-.8zM468.7 128.4h.8v.8h-.8zM428.7 138.1h.8v.8h-.8zM417.2 138.3h.8v.8h-.8zM433.6 134.9h.8v.8h-.8zM468.3 126.5h.8v.8h-.8zM460.0 128.5h.8v.8h-.8zM444.8 127.7h.8v.8h-.8zM432.0 136.9h.8v.8h-.8zM426.0 137.8h.8v.8h-.8zM425.7 133.8h.8v.8h-.8zM458.0 125.8h.8v.8h-.8zM457.2 122.1h.8v.8h-.8zM431.0 135.9h.8v.8h-.8zM463.8 126.8h.8v.8h-.8zM412.2 139.9h.8v.8h-.8zM444.3 133.7h.8v.8h-.8zM415.7 139.2h.8v.8h-.8zM453.5 129.5h.8v.8h-.8zM445.6 126.6h.8v.8h-.8zM419.2 139.4h.8v.8h-.8zM437.4 135.5h.8v.8h-.8zM453.2 130.2h.8v.8h-.8zM465.7 127.4h.8v.8h-.8zM433.0 136.5h.8v.8h-.8zM417.6 139.3h.8v.8h-.8zM463.7 127.2h.8v.8h-.8zM457.3 129.4h.8v.8h-.8zM469.6 122.2h.8v.8h-.8zM435.1 136.6h.8v.8h-.8zM463.0 127.2h.8v.8h-.8zM433.0 136.9h.8v.8h-.8zM453.1 129.8h.8v.8h-.8zM444.7 133.7h.8v.8h-.8zM460.1 128.0h.8v.8h-.8zM425.3 138.1h.8v.8h-.8zM468.6 128.4h.8v.8h-.8zM438.1 135.5h.8v.8h-.8zM416.4 139.5h.8v.8h-.8zM461.8 127.5h.8v.8h-.8zM468.8 128.9h.8v.8h-.8zM457.8 128.6h.8v.8h-.8zM446.5 131.9h.8v.8h-.8zM440.9 133.3h.8v.8h-.8zM449.2 132.1h.8v.8h-.8zM442.7 134.4h.8v.8h-.8zM444.8 133.8h.8v.8h-.8zM435.8 135.1h.8v.8h-.8zM448.3 132.2h.8v.8h-.8zM452.9 125.8h.8v.8h-.8zM428.4 136.5h.8v.8h-.8zM426.8 159.8h.8v.8h-.8zM424.8 159.9h.8v.8h-.8zM422.8 158.4h.8v.8h-.8zM456.1 160.3h.8v.8h-.8zM424.7 158.4h.8v.8h-.8zM460.5 161.6h.8v.8h-.8zM424.3 160.0h.8v.8h-.8zM413.5 158.0h.8v.8h-.8zM461.7 159.5h.8v.8h-.8zM450.8 159.8h.8v.8h-.8zM451.0 160.3h.8v.8h-.8zM418.9 159.5h.8v.8h-.8zM450.9 160.7h.8v.8h-.8zM445.0 159.7h.8v.8h-.8zM424.9 158.9h.8v.8h-.8zM411.0 158.7h.8v.8h-.8zM465.9 160.5h.8v.8h-.8zM443.1 160.2h.8v.8h-.8zM440.9 159.6h.8v.8h-.8zM426.4 161.2h.8v.8h-.8zM439.0 159.5h.8v.8h-.8zM409.2 158.1h.8v.8h-.8zM447.4 159.7h.8v.8h-.8zM440.4 161.6h.8v.8h-.8zM455.9 159.6h.8v.8h-.8zM414.5 159.7h.8v.8h-.8zM445.7 159.4h.8v.8h-.8zM449.2 159.4h.8v.8h-.8zM436.8 158.8h.8v.8h-.8zM460.4 159.5h.8v.8h-.8zM416.7 158.2h.8v.8h-.8zM464.6 160.0h.8v.8h-.8zM452.5 159.4h.8v.8h-.8zM465.9 160.4h.8v.8h-.8zM458.7 160.5h.8v.8h-.8zM414.5 160.0h.8v.8h-.8zM430.1 159.1h.8v.8h-.8zM417.9 159.3h.8v.8h-.8zM409.6 159.0h.8v.8h-.8zM413.0 160.6h.8v.8h-.8zM447.0 160.1h.8v.8h-.8zM462.9 160.5h.8v.8h-.8zM420.3 159.2h.8v.8h-.8zM429.5 159.4h.8v.8h-.8zM411.9 158.8h.8v.8h-.8zM449.4 160.7h.8v.8h-.8zM456.3 161.3h.8v.8h-.8zM413.7 158.9h.8v.8h-.8zM466.6 160.4h.8v.8h-.8zM439.3 160.5h.8v.8h-.8zM419.7 159.1h.8v.8h-.8zM469.5 161.1h.8v.8h-.8zM439.3 159.5h.8v.8h-.8zM429.1 159.6h.8v.8h-.8zM437.4 160.5h.8v.8h-.8zM426.0 160.1h.8v.8h-.8zM423.1 159.3h.8v.8h-.8zM418.8 159.9h.8v.8h-.8zM413.2 158.0h.8v.8h-.8zM425.8 159.4h.8v.8h-.8zM456.5 159.4h.8v.8h-.8zM427.9 159.7h.8v.8h-.8zM462.5 160.0h.8v.8h-.8zM456.8 161.0h.8v.8h-.8zM447.2 159.6h.8v.8h-.8zM438.7 159.6h.8v.8h-.8zM420.3 159.5h.8v.8h-.8zM451.8 159.9h.8v.8h-.8zM461.4 160.0h.8v.8h-.8zM444.0 160.9h.8v.8h-.8zM439.3 159.0h.8v.8h-.8zM432.7 158.9h.8v.8h-.8zM430.7 158.7h.8v.8h-.8zM411.5 160.4h.8v.8h-.8zM449.2 159.2h.8v.8h-.8zM418.8 158.7h.8v.8h-.8zM458.5 160.0h.8v.8h-.8zM449.1 160.7h.8v.8h-.8zM425.5 159.7h.8v.8h-.8zM460.3 161.2h.8v.8h-.8z" fill="#222"/>
<path d="M393.3 228.9h.8v.8h-.8zM374.5 228.6h.8v.8h-.8zM371.9 234.3h.8v.8h-.8zM396.4 228.6h.8v.8h-.8zM380.5 226.4h.8v.8h-.8zM396.8 238.9h.8v.8h-.8zM385.1 234.6h.8v.8h-.8zM380.3 228.0h.8v.8h-.8zM374.0 232.3h.8v.8h-.8zM384.5 224.5h.8v.8h-.8zM399.3 248.6h.8v.8h-.8zM372.2 237.2h.8v.8h-.8zM376.3 237.3h.8v.8h-.8zM388.5 228.7h.8v.8h-.8zM403.7 237.6h.8v.8h-.8zM371.6 236.7h.8v.8h-.8zM371.8 225.5h.8v.8h-.8zM377.7 228.2h.8v.8h-.8zM382.4 220.9h.8v.8h-.8zM398.5 229.4h.8v.8h-.8zM375.7 240.4h.8v.8h-.8zM383.7 232.8h.8v.8h-.8zM383.9 234.3h.8v.8h-.8zM398.9 233.7h.8v.8h-.8zM376.4 219.4h.8v.8h-.8zM373.6 234.2h.8v.8h-.8zM383.2 239.2h.8v.8h-.8zM387.3 235.3h.8v.8h-.8zM373.0 232.9h.8v.8h-.8zM392.3 213.3h.8v.8h-.8zM390.0 242.5h.8v.8h-.8zM380.6 229.4h.8v.8h-.8zM392.2 235.7h.8v.8h-.8zM384.4 224.2h.8v.8h-.8zM373.3 230.2h.8v.8h-.8zM394.8 237.9h.8v.8h-.8zM389.5 226.7h.8v.8h-.8zM371.6 244.9h.8v.8h-.8zM371.7 231.4h.8v.8h-.8zM376.3 225.0h.8v.8h-.8zM380.2 239.0h.8v.8h-.8zM383.1 226.2h.8v.8h-.8zM374.9 227.0h.8v.8h-.8zM372.8 231.4h.8v.8h-.8zM372.8 224.5h.8v.8h-.8zM377.8 231.8h.8v.8h-.8zM371.6 234.3h.8v.8h-.8zM397.3 230.5h.8v.8h-.8zM371.5 230.8h.8v.8h-.8zM374.6 230.1h.8v.8h-.8zM377.6 232.4h.8v.8h-.8zM377.5 226.9h.8v.8h-.8zM377.2 228.2h.8v.8h-.8zM373.5 235.9h.8v.8h-.8zM376.2 236.7h.8v.8h-.8zM386.5 241.4h.8v.8h-.8zM376.4 234.0h.8v.8h-.8zM403.0 229.3h.8v.8h-.8zM375.6 237.0h.8v.8h-.8zM380.2 230.6h.8v.8h-.8zM377.4 239.5h.8v.8h-.8zM386.0 230.4h.8v.8h-.8zM380.9 238.1h.8v.8h-.8zM386.4 228.3h.8v.8h-.8zM372.0 228.6h.8v.8h-.8zM372.4 233.8h.8v.8h-.8zM373.4 234.4h.8v.8h-.8zM384.2 225.1h.8v.8h-.8zM374.2 240.5h.8v.8h-.8zM374.3 233.2h.8v.8h-.8zM384.9 235.3h.8v.8h-.8zM381.5 232.1h.8v.8h-.8zM384.7 243.3h.8v.8h-.8zM377.7 226.5h.8v.8h-.8zM378.0 227.6h.8v.8h-.8zM372.1 225.5h.8v.8h-.8zM376.6 241.0h.8v.8h-.8zM383.4 240.8h.8v.8h-.8zM395.3 239.2h.8v.8h-.8zM376.6 228.2h.8v.8h-.8zM374.5 236.1h.8v.8h-.8zM373.8 236.9h.8v.8h-.8zM379.6 238.0h.8v.8h-.8zM406.3 227.8h.8v.8h-.8zM393.2 236.0h.8v.8h-.8zM396.2 224.1h.8v.8h-.8zM377.9 227.5h.8v.8h-.8zM377.7 236.1h.8v.8h-.8zM374.8 236.8h.8v.8h-.8zM372.5 236.0h.8v.8h-.8zM396.4 224.8h.8v.8h-.8zM375.2 228.9h.8v.8h-.8zM392.6 229.5h.8v.8h-.8zM373.8 228.8h.8v.8h-.8zM375.7 227.4h.8v.8h-.8zM371.9 227.2h.8v.8h-.8zM391.7 232.9h.8v.8h-.8zM373.7 233.7h.8v.8h-.8zM390.7 237.7h.8v.8h-.8zM374.1 231.4h.8v.8h-.8zM371.9 231.4h.8v.8h-.8zM386.0 229.1h.8v.8h-.8zM378.7 232.2h.8v.8h-.8zM405.4 223.1h.8v.8h-.8zM377.6 236.2h.8v.8h-.8zM379.5 242.8h.8v.8h-.8zM381.5 235.3h.8v.8h-.8zM376.1 231.5h.8v.8h-.8zM404.1 237.8h.8v.8h-.8zM393.4 225.0h.8v.8h-.8zM380.7 237.3h.8v.8h-.8zM373.6 239.2h.8v.8h-.8zM373.1 233.7h.8v.8h-.8zM381.1 233.4h.8v.8h-.8zM373.1 232.3h.8v.8h-.8zM383.9 218.3h.8v.8h-.8zM384.1 220.2h.8v.8h-.8zM379.9 245.6h.8v.8h-.8zM379.1 233.3h.8v.8h-.8zM394.8 246.1h.8v.8h-.8zM378.8 234.8h.8v.8h-.8zM373.9 230.7h.8v.8h-.8zM381.5 233.4h.8v.8h-.8zM373.9 231.4h.8v.8h-.8zM385.2 228.6h.8v.8h-.8zM382.7 228.8h.8v.8h-.8zM375.2 221.1h.8v.8h-.8zM384.9 221.9h.8v.8h-.8zM392.2 241.4h.8v.8h-.8zM388.5 228.0h.8v.8h-.8zM400.1 228.4h.8v.8h-.8zM392.0 230.2h.8v.8h-.8zM384.8 238.1h.8v.8h-.8zM378.3 224.4h.8v.8h-.8zM377.0 234.2h.8v.8h-.8zM380.4 224.6h.8v.8h-.8zM396.2 233.5h.8v.8h-.8zM378.5 232.4h.8v.8h-.8zM372.2 233.2h.8v.8h-.8zM397.0 229.4h.8v.8h-.8zM374.0 237.2h.8v.8h-.8zM384.7 239.8h.8v.8h-.8zM377.4 227.0h.8v.8h-.8zM379.6 226.5h.8v.8h-.8zM377.4 230.8h.8v.8h-.8zM385.2 239.4h.8v.8h-.8zM403.2 241.0h.8v.8h-.8zM388.4 226.2h.8v.8h-.8zM372.2 231.2h.8v.8h-.8zM372.1 223.9h.8v.8h-.8zM395.5 228.3h.8v.8h-.8zM373.4 232.2h.8v.8h-.8zM378.9 222.8h.8v.8h-.8zM394.8 234.9h.8v.8h-.8zM379.7 236.6h.8v.8h-.8zM386.8 227.1h.8v.8h-.8zM395.6 234.3h.8v.8h-.8zM377.0 229.1h.8v.8h-.8zM379.0 234.0h.8v.8h-.8zM385.9 226.3h.8v.8h-.8zM379.2 238.1h.8v.8h-.8zM371.0 235.4h.8v.8h-.8zM380.6 231.1h.8v.8h-.8zM373.7 233.7h.8v.8h-.8zM372.9 235.3h.8v.8h-.8zM371.4 228.2h.8v.8h-.8zM374.8 229.4h.8v.8h-.8zM375.4 232.0h.8v.8h-.8zM399.6 226.5h.8v.8h-.8zM382.0 233.6h.8v.8h-.8zM372.4 226.2h.8v.8h-.8zM372.0 231.4h.8v.8h-.8zM380.6 228.9h.8v.8h-.8zM382.6 241.1h.8v.8h-.8zM400.3 228.0h.8v.8h-.8zM373.4 230.5h.8v.8h-.8zM385.8 233.0h.8v.8h-.8zM377.5 230.5h.8v.8h-.8zM375.0 223.0h.8v.8h-.8zM380.9 234.5h.8v.8h-.8zM387.6 232.7h.8v.8h-.8zM382.7 227.6h.8v.8h-.8zM376.7 226.3h.8v.8h-.8zM384.3 233.4h.8v.8h-.8zM373.2 233.6h.8v.8h-.8zM375.5 229.8h.8v.8h-.8zM394.0 239.3h.8v.8h-.8zM371.4 234.8h.8v.8h-.8zM371.3 231.4h.8v.8h-.8zM388.5 238.1h.8v.8h-.8zM371.0 237.9h.8v.8h-.8zM372.5 231.1h.8v.8h-.8zM378.7 233.9h.8v.8h-.8zM376.1 231.8h.8v.8h-.8zM393.6 240.1h.8v.8h-.8zM398.4 248.2h.8v.8h-.8zM381.1 228.9h.8v.8h-.8zM375.6 231.7h.8v.8h-.8zM373.9 234.2h.8v.8h-.8zM375.7 238.3h.8v.8h-.8zM388.7 221.0h.8v.8h-.8zM372.0 228.7h.8v.8h-.8zM393.9 221.7h.8v.8h-.8zM374.2 231.9h.8v.8h-.8zM385.5 224.0h.8v.8h-.8z" fill="#444"/>
<path d="M345.7 223.0h.8v.8h-.8zM356.1 218.9h.8v.8h-.8zM329.9 228.0h.8v.8h-.8zM355.9 219.3h.8v.8h-.8zM325.6 228.2h.8v.8h-.8zM364.9 216.2h.8v.8h-.8zM343.8 215.4h.8v.8h-.8zM348.6 222.1h.8v.8h-.8zM327.5 227.6h.8v.8h-.8zM314.1 229.0h.8v.8h-.8zM362.8 216.1h.8v.8h-.8zM361.3 218.5h.8v.8h-.8zM365.3 215.7h.8v.8h-.8zM368.8 216.7h.8v.8h-.8zM340.4 224.8h.8v.8h-.8zM325.7 227.6h.8v.8h-.8zM341.1 223.6h.8v.8h-.8zM310.1 227.5h.8v.8h-.8zM314.4 228.9h.8v.8h-.8zM311.6 229.6h.8v.8h-.8zM367.2 216.0h.8v.8h-.8zM368.4 216.5h.8v.8h-.8zM326.0 221.7h.8v.8h-.8zM325.0 227.3h.8v.8h-.8zM329.3 227.8h.8v.8h-.8zM361.1 218.3h.8v.8h-.8zM317.5 228.3h.8v.8h-.8zM344.4 223.8h.8v.8h-.8zM312.4 229.5h.8v.8h-.8zM364.5 216.5h.8v.8h-.8zM343.1 223.5h.8v.8h-.8zM333.5 226.5h.8v.8h-.8zM335.6 226.7h.8v.8h-.8zM364.1 217.6h.8v.8h-.8zM340.9 224.8h.8v.8h-.8zM346.6 223.3h.8v.8h-.8zM339.2 224.1h.8v.8h-.8zM334.1 225.9h.8v.8h-.8zM327.0 228.2h.8v.8h-.8zM316.6 228.3h.8v.8h-.8zM365.5 215.6h.8v.8h-.8zM370.9 220.1h.8v.8h-.8zM310.5 229.8h.8v.8h-.8zM351.7 221.7h.8v.8h-.8zM317.2 222.9h.8v.8h-.8zM363.9 216.0h.8v.8h-.8zM328.1 227.9h.8v.8h-.8zM312.5 229.3h.8v.8h-.8zM312.5 224.7h.8v.8h-.8zM318.6 228.8h.8v.8h-.8zM322.7 227.8h.8v.8h-.8zM352.3 221.5h.8v.8h-.8zM341.4 225.0h.8v.8h-.8zM356.3 219.5h.8v.8h-.8zM309.9 230.1h.8v.8h-.8zM354.1 220.8h.8v.8h-.8zM338.0 224.9h.8v.8h-.8zM364.1 216.0h.8v.8h-.8zM325.6 228.6h.8v.8h-.8zM340.0 224.6h.8v.8h-.8zM352.9 217.9h.8v.8h-.8zM348.5 222.1h.8v.8h-.8zM329.4 228.0h.8v.8h-.8zM335.3 226.2h.8v.8h-.8zM366.2 216.6h.8v.8h-.8zM332.4 226.9h.8v.8h-.8zM339.0 225.9h.8v.8h-.8zM335.0 227.0h.8v.8h-.8zM361.4 216.8h.8v.8h-.8zM327.8 228.3h.8v.8h-.8zM350.0 220.9h.8v.8h-.8zM327.1 225.8h.8v.8h-.8zM314.4 228.5h.8v.8h-.8zM359.8 219.1h.8v.8h-.8zM343.7 222.4h.8v.8h-.8zM320.4 227.8h.8v.8h-.8zM319.5 228.6h.8v.8h-.8zM359.4 217.7h.8v.8h-.8zM330.4 226.2h.8v.8h-.8zM354.3 219.2h.8v.8h-.8zM322.7 229.2h.8v.8h-.8zM319.2 229.5h.8v.8h-.8zM356.9 219.8h.8v.8h-.8zM321.8 227.8h.8v.8h-.8zM361.4 218.1h.8v.8h-.8zM341.7 223.8h.8v.8h-.8zM357.1 218.0h.8v.8h-.8zM343.4 223.8h.8v.8h-.8zM328.9 227.8h.8v.8h-.8zM337.8 225.9h.8v.8h-.8zM357.9 219.3h.8v.8h-.8zM369.0 217.1h.8v.8h-.8zM344.9 223.2h.8v.8h-.8zM350.6 222.3h.8v.8h-.8zM371.2 219.1h.8v.8h-.8zM321.3 228.0h.8v.8h-.8zM325.3 227.9h.8v.8h-.8zM349.2 222.5h.8v.8h-.8zM348.2 222.9h.8v.8h-.8zM335.5 221.7h.8v.8h-.8zM358.7 210.4h.8v.8h-.8zM367.6 217.5h.8v.8h-.8zM335.5 226.2h.8v.8h-.8zM344.1 223.4h.8v.8h-.8zM335.5 225.5h.8v.8h-.8zM359.6 218.5h.8v.8h-.8zM311.5 224.1h.8v.8h-.8zM334.6 226.0h.8v.8h-.8zM312.6 229.4h.8v.8h-.8zM343.7 218.5h.8v.8h-.8zM331.7 227.4h.8v.8h-.8zM346.9 223.5h.8v.8h-.8zM344.5 219.8h.8v.8h-.8zM370.6 218.9h.8v.8h-.8zM355.1 220.0h.8v.8h-.8zM321.9 229.2h.8v.8h-.8zM331.4 227.8h.8v.8h-.8zM363.8 215.7h.8v.8h-.8zM361.5 217.0h.8v.8h-.8zM362.5 216.4h.8v.8h-.8zM318.8 225.0h.8v.8h-.8zM347.1 223.3h.8v.8h-.8zM325.2 228.2h.8v.8h-.8zM351.2 221.1h.8v.8h-.8zM314.2 229.5h.8v.8h-.8zM365.2 216.2h.8v.8h-.8zM365.0 216.0h.8v.8h-.8zM324.7 228.1h.8v.8h-.8zM348.9 222.6h.8v.8h-.8zM343.1 221.3h.8v.8h-.8zM368.7 217.8h.8v.8h-.8zM321.8 229.1h.8v.8h-.8zM348.1 222.0h.8v.8h-.8zM317.7 229.3h.8v.8h-.8zM333.1 227.4h.8v.8h-.8zM313.3 229.4h.8v.8h-.8zM366.8 211.5h.8v.8h-.8zM345.6 220.1h.8v.8h-.8zM341.9 225.1h.8v.8h-.8zM330.6 226.9h.8v.8h-.8zM340.5 223.9h.8v.8h-.8zM323.5 227.8h.8v.8h-.8zM367.1 217.7h.8v.8h-.8zM316.1 229.8h.8v.8h-.8zM312.2 228.8h.8v.8h-.8zM371.2 220.0h.8v.8h-.8zM367.0 215.2h.8v.8h-.8zM328.7 228.0h.8v.8h-.8zM369.8 218.8h.8v.8h-.8zM339.5 225.7h.8v.8h-.8zM345.1 223.6h.8v.8h-.8zM313.7 228.3h.8v.8h-.8zM370.0 218.6h.8v.8h-.8zM321.4 228.4h.8v.8h-.8zM342.3 224.0h.8v.8h-.8zM368.3 216.9h.8v.8h-.8zM336.3 226.3h.8v.8h-.8zM368.9 217.0h.8v.8h-.8zM330.5 220.0h.8v.8h-.8zM313.5 227.7h.8v.8h-.8zM347.1 222.3h.8v.8h-.8zM323.3 227.5h.8v.8h-.8zM344.1 223.6h.8v.8h-.8zM363.7 216.6h.8v.8h-.8zM337.5 225.1h.8v.8h-.8zM357.7 219.2h.8v.8h-.8zM310.1 229.6h.8v.8h-.8zM330.0 226.4h.8v.8h-.8zM361.7 218.4h.8v.8h-.8zM336.4 226.5h.8v.8h-.8zM327.8 222.4h.8v.8h-.8zM353.9 220.8h.8v.8h-.8zM317.6 224.2h.8v.8h-.8zM341.9 224.7h.8v.8h-.8zM369.1 217.1h.8v.8h-.8zM350.1 221.2h.8v.8h-.8zM367.7 217.9h.8v.8h-.8zM316.8 229.3h.8v.8h-.8zM369.3 217.8h.8v.8h-.8zM342.0 225.1h.8v.8h-.8zM354.0 220.8h.8v.8h-.8zM355.1 219.6h.8v.8h-.8zM342.1 224.0h.8v.8h-.8zM326.3 228.4h.8v.8h-.8zM370.1 218.3h.8v.8h-.8zM335.1 225.9h.8v.8h-.8zM370.2 219.3h.8v.8h-.8zM311.4 230.1h.8v.8h-.8zM339.6 224.8h.8v.8h-.8zM352.1 220.0h.8v.8h-.8zM350.2 222.3h.8v.8h-.8zM367.5 216.6h.8v.8h-.8zM309.9 228.6h.8v.8h-.8zM337.7 225.2h.8v.8h-.8zM348.4 221.0h.8v.8h-.8zM367.2 217.6h.8v.8h-.8zM368.2 217.2h.8v.8h-.8zM323.5 228.5h.8v.8h-.8zM364.3 216.6h.8v.8h-.8zM316.5 229.6h.8v.8h-.8zM354.5 220.4h.8v.8h-.8zM335.6 226.5h.8v.8h-.8zM364.3 217.4h.8v.8h-.8zM365.3 212.1h.8v.8h-.8zM311.0 228.4h.8v.8h-.8zM329.5 226.4h.8v.8h-.8zM332.2 227.7h.8v.8h-.8zM369.5 218.3h.8v.8h-.8zM336.9 225.9h.8v.8h-.8zM370.3 217.5h.8v.8h-.8zM359.2 218.9h.8v.8h-.8zM353.2 220.3h.8v.8h-.8zM333.6 221.0h.8v.8h-.8zM331.6 224.4h.8v.8h-.8zM310.6 230.2h.8v.8h-.8zM351.2 214.9h.8v.8h-.8zM356.6 219.1h.8v.8h-.8zM359.3 218.0h.8v.8h-.8zM355.1 220.8h.8v.8h-.8zM332.8 227.1h.8v.8h-.8zM357.7 218.9h.8v.8h-.8zM336.4 226.4h.8v.8h-.8zM313.6 229.8h.8v.8h-.8zM371.3 220.3h.8v.8h-.8zM316.9 228.0h.8v.8h-.8zM354.2 220.9h.8v.8h-.8zM339.9 224.5h.8v.8h-.8zM348.3 220.8h.8v.8h-.8zM333.2 227.1h.8v.8h-.8zM355.3 220.2h.8v.8h-.8zM340.1 250.7h.8v.8h-.8zM349.4 250.2h.8v.8h-.8zM309.9 247.7h.8v.8h-.8zM364.9 251.1h.8v.8h-.8zM360.9 249.6h.8v.8h-.8zM364.6 252.1h.8v.8h-.8zM333.7 251.1h.8v.8h-.8zM354.5 249.9h.8v.8h-.8zM335.5 249.9h.8v.8h-.8zM332.3 249.4h.8v.8h-.8zM362.0 250.4h.8v.8h-.8zM313.3 250.0h.8v.8h-.8zM344.2 249.2h.8v.8h-.8zM349.3 249.8h.8v.8h-.8zM363.6 251.3h.8v.8h-.8zM333.2 249.6h.8v.8h-.8zM325.1 248.5h.8v.8h-.8zM362.3 250.2h.8v.8h-.8zM349.2 250.2h.8v.8h-.8zM321.0 249.4h.8v.8h-.8zM345.1 249.1h.8v.8h-.8zM321.0 249.3h.8v.8h-.8zM325.8 248.8h.8v.8h-.8zM355.3 250.6h.8v.8h-.8zM355.9 250.8h.8v.8h-.8zM332.8 251.0h.8v.8h-.8zM343.7 249.5h.8v.8h-.8zM345.4 249.7h.8v.8h-.8zM365.7 250.8h.8v.8h-.8zM310.1 249.4h.8v.8h-.8zM334.8 249.2h.8v.8h-.8zM365.7 250.7h.8v.8h-.8zM310.2 248.7h.8v.8h-.8zM348.1 250.5h.8v.8h-.8zM360.9 250.2h.8v.8h-.8zM317.7 248.7h.8v.8h-.8zM325.1 249.4h.8v.8h-.8zM311.9 248.6h.8v.8h-.8zM342.3 249.6h.8v.8h-.8zM367.7 249.8h.8v.8h-.8zM332.7 249.6h.8v.8h-.8zM349.2 250.3h.8v.8h-.8zM318.9 249.6h.8v.8h-.8zM312.3 249.5h.8v.8h-.8zM317.9 249.1h.8v.8h-.8zM312.6 248.1h.8v.8h-.8zM366.8 249.8h.8v.8h-.8zM352.3 249.9h.8v.8h-.8zM313.0 248.9h.8v.8h-.8zM315.0 249.5h.8v.8h-.8zM365.8 251.4h.8v.8h-.8zM356.1 250.3h.8v.8h-.8zM341.2 250.2h.8v.8h-.8zM350.1 250.4h.8v.8h-.8zM361.3 249.4h.8v.8h-.8zM328.2 250.1h.8v.8h-.8zM369.2 250.0h.8v.8h-.8zM330.9 249.8h.8v.8h-.8zM322.6 248.9h.8v.8h-.8zM331.5 248.9h.8v.8h-.8zM339.1 249.7h.8v.8h-.8zM327.2 250.4h.8v.8h-.8zM316.7 249.1h.8v.8h-.8zM339.7 249.7h.8v.8h-.8zM351.5 250.8h.8v.8h-.8zM323.3 248.6h.8v.8h-.8zM329.9 249.7h.8v.8h-.8zM364.8 250.9h.8v.8h-.8zM333.9 250.3h.8v.8h-.8zM337.9 249.3h.8v.8h-.8zM368.4 250.4h.8v.8h-.8zM315.2 248.6h.8v.8h-.8zM361.8 249.8h.8v.8h-.8zM328.2 249.0h.8v.8h-.8zM352.3 249.3h.8v.8h-.8zM341.4 249.6h.8v.8h-.8zM355.6 251.1h.8v.8h-.8zM325.8 248.6h.8v.8h-.8zM312.6 249.5h.8v.8h-.8zM367.5 249.6h.8v.8h-.8z" fill="#222"/>
<path d="M476.8 226.4h.8v.8h-.8zM471.2 225.4h.8v.8h-.8zM471.9 229.7h.8v.8h-.8zM471.6 230.3h.8v.8h-.8zM493.7 224.4h.8v.8h-.8zM478.0 242.7h.8v.8h-.8zM475.9 231.1h.8v.8h-.8zM481.6 226.8h.8v.8h-.8zM495.7 227.7h.8v.8h-.8zM488.5 234.4h.8v.8h-.8zM480.6 228.3h.8v.8h-.8zM481.8 231.3h.8v.8h-.8zM495.3 231.5h.8v.8h-.8zM479.0 237.9h.8v.8h-.8zM482.3 241.9h.8v.8h-.8zM490.4 231.6h.8v.8h-.8zM470.9 231.0h.8v.8h-.8zM485.3 235.5h.8v.8h-.8zM473.7 234.6h.8v.8h-.8zM472.9 232.6h.8v.8h-.8zM481.7 226.0h.8v.8h-.8zM470.2 233.4h.8v.8h-.8zM481.4 232.1h.8v.8h-.8zM470.9 234.0h.8v.8h-.8zM472.5 230.1h.8v.8h-.8zM479.4 234.1h.8v.8h-.8zM472.7 231.4h.8v.8h-.8zM475.9 222.3h.8v.8h-.8zM471.1 233.9h.8v.8h-.8zM485.9 231.6h.8v.8h-.8zM491.3 217.1h.8v.8h-.8zM472.4 233.2h.8v.8h-.8zM489.3 244.5h.8v.8h-.8zM498.6 222.5h.8v.8h-.8zM478.7 221.9h.8v.8h-.8zM477.2 231.5h.8v.8h-.8zM474.5 235.3h.8v.8h-.8zM472.3 232.8h.8v.8h-.8zM487.7 229.3h.8v.8h-.8zM476.9 233.2h.8v.8h-.8zM475.2 236.9h.8v.8h-.8zM474.8 241.9h.8v.8h-.8zM471.2 234.8h.8v.8h-.8zM493.4 227.1h.8v.8h-.8zM497.1 228.5h.8v.8h-.8zM478.5 238.9h.8v.8h-.8zM489.7 239.7h.8v.8h-.8zM486.1 241.9h.8v.8h-.8zM491.7 233.8h.8v.8h-.8zM473.3 233.6h.8v.8h-.8zM481.9 233.4h.8v.8h-.8zM471.7 234.7h.8v.8h-.8zM490.0 228.2h.8v.8h-.8zM478.4 233.7h.8v.8h-.8zM484.1 240.5h.8v.8h-.8zM475.9 224.3h.8v.8h-.8zM470.4 229.0h.8v.8h-.8zM485.7 223.9h.8v.8h-.8zM494.6 236.3h.8v.8h-.8zM496.0 222.0h.8v.8h-.8zM472.0 238.2h.8v.8h-.8zM471.5 230.1h.8v.8h-.8zM472.8 229.8h.8v.8h-.8zM474.9 226.6h.8v.8h-.8zM475.5 238.2h.8v.8h-.8zM482.7 226.3h.8v.8h-.8zM481.9 225.8h.8v.8h-.8zM470.7 233.3h.8v.8h-.8zM471.9 238.3h.8v.8h-.8zM485.6 228.6h.8v.8h-.8zM496.1 238.6h.8v.8h-.8zM497.8 232.1h.8v.8h-.8zM481.6 226.0h.8v.8h-.8zM471.2 229.6h.8v.8h-.8zM505.0 236.6h.8v.8h-.8zM486.3 233.1h.8v.8h-.8zM473.3 232.4h.8v.8h-.8zM472.7 225.5h.8v.8h-.8zM494.4 218.1h.8v.8h-.8zM488.0 237.8h.8v.8h-.8zM488.4 235.5h.8v.8h-.8zM476.9 235.0h.8v.8h-.8zM472.3 236.4h.8v.8h-.8zM479.7 239.3h.8v.8h-.8zM473.6 236.5h.8v.8h-.8zM485.6 237.8h.8v.8h-.8zM473.4 228.2h.8v.8h-.8zM484.5 226.6h.8v.8h-.8zM473.1 223.8h.8v.8h-.8zM484.5 233.9h.8v.8h-.8zM474.2 227.4h.8v.8h-.8zM470.8 239.5h.8v.8h-.8zM479.8 226.4h.8v.8h-.8zM470.0 231.8h.8v.8h-.8zM471.7 234.8h.8v.8h-.8zM475.2 227.8h.8v.8h-.8zM479.1 234.3h.8v.8h-.8zM496.7 233.3h.8v.8h-.8zM491.5 234.3h.8v.8h-.8zM471.2 235.7h.8v.8h-.8zM475.8 224.1h.8v.8h-.8zM480.7 231.0h.8v.8h-.8zM498.4 242.9h.8v.8h-.8zM470.7 232.1h.8v.8h-.8zM472.2 231.1h.8v.8h-.8zM504.7 227.9h.8v.8h-.8zM470.8 245.0h.8v.8h-.8zM477.9 238.0h.8v.8h-.8zM482.2 229.8h.8v.8h-.8zM476.2 230.8h.8v.8h-.8zM477.0 231.5h.8v.8h-.8zM487.9 220.6h.8v.8h-.8zM473.0 222.6h.8v.8h-.8zM472.9 234.6h.8v.8h-.8zM476.5 220.1h.8v.8h-.8zM470.4 223.4h.8v.8h-.8zM487.8 224.3h.8v.8h-.8zM497.7 234.6h.8v.8h-.8zM471.5 229.2h.8v.8h-.8zM491.3 228.6h.8v.8h-.8zM488.9 228.8h.8v.8h-.8zM491.9 234.3h.8v.8h-.8zM488.2 221.9h.8v.8h-.8zM474.2 229.1h.8v.8h-.8zM474.7 224.3h.8v.8h-.8zM505.3 223.2h.8v.8h-.8zM483.2 246.0h.8v.8h-.8zM477.0 226.3h.8v.8h-.8zM479.3 223.9h.8v.8h-.8zM478.1 227.3h.8v.8h-.8zM504.6 234.5h.8v.8h-.8zM472.4 237.4h.8v.8h-.8zM472.8 231.8h.8v.8h-.8zM482.7 234.0h.8v.8h-.8zM484.6 223.4h.8v.8h-.8zM481.9 238.5h.8v.8h-.8zM487.4 237.3h.8v.8h-.8zM470.3 234.1h.8v.8h-.8zM472.6 233.6h.8v.8h-.8zM483.7 229.6h.8v.8h-.8zM477.2 227.4h.8v.8h-.8zM496.7 217.9h.8v.8h-.8zM491.7 231.1h.8v.8h-.8zM481.2 237.2h.8v.8h-.8zM498.2 246.3h.8v.8h-.8zM486.8 240.2h.8v.8h-.8zM483.6 227.3h.8v.8h-.8zM477.9 235.0h.8v.8h-.8zM489.0 222.1h.8v.8h-.8zM501.6 237.1h.8v.8h-.8zM471.4 242.1h.8v.8h-.8zM473.2 233.5h.8v.8h-.8zM495.4 227.6h.8v.8h-.8zM470.2 233.8h.8v.8h-.8zM478.5 230.8h.8v.8h-.8zM470.2 231.4h.8v.8h-.8zM475.1 238.0h.8v.8h-.8zM474.5 226.9h.8v.8h-.8zM477.8 225.2h.8v.8h-.8zM475.1 235.9h.8v.8h-.8zM476.6 228.5h.8v.8h-.8zM478.5 232.1h.8v.8h-.8zM490.8 229.8h.8v.8h-.8zM476.5 232.2h.8v.8h-.8zM482.8 232.9h.8v.8h-.8zM482.4 238.0h.8v.8h-.8zM476.8 236.4h.8v.8h-.8zM471.0 239.9h.8v.8h-.8zM505.8 242.0h.8v.8h-.8zM481.9 236.3h.8v.8h-.8zM478.0 224.6h.8v.8h-.8zM475.8 225.0h.8v.8h-.8zM470.9 234.8h.8v.8h-.8zM483.8 244.0h.8v.8h-.8zM491.2 227.3h.8v.8h-.8zM487.7 236.0h.8v.8h-.8zM482.7 235.2h.8v.8h-.8zM476.4 230.7h.8v.8h-.8zM487.8 238.4h.8v.8h-.8zM493.4 227.5h.8v.8h-.8zM471.8 229.8h.8v.8h-.8zM487.9 227.6h.8v.8h-.8zM475.3 233.7h.8v.8h-.8zM489.4 237.2h.8v.8h-.8zM488.8 238.2h.8v.8h-.8zM471.0 230.0h.8v.8h-.8zM495.0 231.7h.8v.8h-.8zM480.1 241.0h.8v.8h-.8zM478.9 236.0h.8v.8h-.8zM490.8 233.2h.8v.8h-.8zM479.3 239.4h.8v.8h-.8zM481.5 225.2h.8v.8h-.8zM481.5 232.3h.8v.8h-.8zM470.8 233.8h.8v.8h-.8zM483.1 229.7h.8v.8h-.8zM474.8 228.3h.8v.8h-.8zM475.2 235.8h.8v.8h-.8zM472.8 229.1h.8v.8h-.8zM471.3 227.1h.8v.8h-.8zM475.0 234.3h.8v.8h-.8zM476.8 221.4h.8v.8h-.8zM471.6 232.8h.8v.8h-.8zM482.9 228.9h.8v.8h-.8zM476.6 229.5h.8v.8h-.8zM478.9 239.2h.8v.8h-.8zM479.9 226.0h.8v.8h-.8zM471.1 227.4h.8v.8h-.8zM478.6 239.8h.8v.8h-.8zM477.5 231.3h.8v.8h-.8zM485.8 230.8h.8v.8h-.8zM487.5 237.4h.8v.8h-.8zM499.3 237.9h.8v.8h-.8zM474.6 228.0h.8v.8h-.8zM482.2 231.2h.8v.8h-.8zM477.5 225.7h.8v.8h-.8zM487.8 244.8h.8v.8h-.8zM476.9 237.1h.8v.8h-.8zM500.5 223.5h.8v.8h-.8zM472.9 237.2h.8v.8h-.8zM481.8 230.6h.8v.8h-.8zM476.9 243.3h.8v.8h-.8zM482.1 230.0h.8v.8h-.8zM482.6 221.9h.8v.8h-.8zM484.6 239.6h.8v.8h-.8zM485.4 241.4h.8v.8h-.8zM485.8 228.6h.8v.8h-.8zM481.3 241.3h.8v.8h-.8zM475.8 240.6h.8v.8h-.8zM487.2 231.6h.8v.8h-.8zM497.7 229.5h.8v.8h-.8zM505.7 227.5h.8v.8h-.8zM480.5 227.0h.8v.8h-.8zM470.7 238.1h.8v.8h-.8zM483.6 224.9h.8v.8h-.8zM479.5 232.6h.8v.8h-.8zM477.7 231.2h.8v.8h-.8zM474.4 228.8h.8v.8h-.8zM484.1 228.6h.8v.8h-.8zM504.4 228.4h.8v.8h-.8zM470.2 233.3h.8v.8h-.8zM497.3 223.6h.8v.8h-.8zM470.5 233.1h.8v.8h-.8zM471.6 241.2h.8v.8h-.8zM470.7 232.2h.8v.8h-.8zM475.9 225.9h.8v.8h-.8zM473.8 233.2h.8v.8h-.8zM485.7 220.4h.8v.8h-.8zM471.5 222.8h.8v.8h-.8zM475.3 235.4h.8v.8h-.8zM473.6 234.5h.8v.8h-.8zM470.5 233.3h.8v.8h-.8zM490.6 226.9h.8v.8h-.8zM495.4 232.7h.8v.8h-.8zM483.3 230.9h.8v.8h-.8zM498.8 224.6h.8v.8h-.8zM478.4 226.9h.8v.8h-.8zM496.1 225.0h.8v.8h-.8zM480.3 231.1h.8v.8h-.8zM479.6 235.3h.8v.8h-.8zM497.2 243.3h.8v.8h-.8zM486.0 238.7h.8v.8h-.8zM492.0 232.7h.8v.8h-.8zM472.1 225.7h.8v.8h-.8zM481.5 231.9h.8v.8h-.8zM476.1 239.8h.8v.8h-.8zM472.7 232.9h.8v.8h-.8zM483.9 222.6h.8v.8h-.8zM471.8 231.2h.8v.8h-.8zM473.1 223.1h.8v.8h-.8zM489.2 224.5h.8v.8h-.8zM488.1 239.4h.8v.8h-.8zM477.9 237.5h.8v.8h-.8zM479.5 230.3h.8v.8h-.8zM489.0 240.7h.8v.8h-.8zM476.1 240.7h.8v.8h-.8zM503.0 235.0h.8v.8h-.8zM483.5 234.6h.8v.8h-.8zM474.2 229.3h.8v.8h-.8zM489.5 233.9h.8v.8h-.8zM490.2 230.7h.8v.8h-.8zM470.7 230.2h.8v.8h-.8zM483.2 240.5h.8v.8h-.8zM482.0 236.7h.8v.8h-.8zM496.5 221.6h.8v.8h-.8zM480.7 231.7h.8v.8h-.8zM488.4 234.5h.8v.8h-.8zM486.6 227.0h.8v.8h-.8zM479.2 227.4h.8v.8h-.8zM491.7 249.0h.8v.8h-.8zM478.7 222.8h.8v.8h-.8zM472.6 227.1h.8v.8h-.8zM477.4 232.5h.8v.8h-.8zM493.3 232.2h.8v.8h-.8zM473.6 244.2h.8v.8h-.8zM475.0 233.9h.8v.8h-.8zM489.5 227.8h.8v.8h-.8zM474.8 227.7h.8v.8h-.8zM474.3 235.0h.8v.8h-.8zM496.2 249.0h.8v.8h-.8zM472.6 228.6h.8v.8h-.8zM470.4 226.0h.8v.8h-.8zM482.0 235.7h.8v.8h-.8zM474.6 231.6h.8v.8h-.8zM477.8 236.9h.8v.8h-.8zM491.0 235.1h.8v.8h-.8zM475.7 234.6h.8v.8h-.8zM504.2 242.6h.8v.8h-.8zM485.7 237.4h.8v.8h-.8zM473.9 235.3h.8v.8h-.8zM495.3 224.9h.8v.8h-.8zM501.7 236.9h.8v.8h-.8zM475.3 219.4h.8v.8h-.8zM475.5 236.5h.8v.8h-.8zM481.7 229.1h.8v.8h-.8zM485.0 227.7h.8v.8h-.8zM478.3 235.5h.8v.8h-.8zM489.6 224.5h.8v.8h-.8zM482.9 230.3h.8v.8h-.8zM472.4 228.1h.8v.8h-.8zM476.8 231.8h.8v.8h-.8zM492.1 233.3h.8v.8h-.8zM481.2 223.4h.8v.8h-.8zM471.0 233.0h.8v.8h-.8zM472.0 231.9h.8v.8h-.8zM500.7 229.8h.8v.8h-.8zM480.7 243.1h.8v.8h-.8zM477.9 230.1h.8v.8h-.8zM476.4 224.4h.8v.8h-.8zM479.4 235.9h.8v.8h-.8zM489.2 243.6h.8v.8h-.8zM480.9 231.7h.8v.8h-.8zM490.5 222.9h.8v.8h-.8zM478.2 232.5h.8v.8h-.8zM482.4 231.6h.8v.8h-.8zM471.6 223.2h.8v.8h-.8zM474.2 227.9h.8v.8h-.8zM492.5 231.9h.8v.8h-.8zM475.0 239.7h.8v.8h-.8zM483.7 232.4h.8v.8h-.8zM497.7 230.1h.8v.8h-.8zM481.2 232.4h.8v.8h-.8zM482.2 237.2h.8v.8h-.8zM490.4 233.4h.8v.8h-.8zM474.0 233.8h.8v.8h-.8zM485.2 223.5h.8v.8h-.8zM489.6 238.9h.8v.8h-.8zM476.9 229.8h.8v.8h-.8zM484.2 230.4h.8v.8h-.8zM485.7 233.0h.8v.8h-.8zM472.3 238.6h.8v.8h-.8zM486.7 227.9h.8v.8h-.8zM473.6 231.5h.8v.8h-.8zM477.2 225.2h.8v.8h-.8zM487.8 232.8h.8v.8h-.8zM473.7 225.3h.8v.8h-.8zM474.2 234.7h.8v.8h-.8zM480.2 234.7h.8v.8h-.8zM489.9 236.3h.8v.8h-.8zM470.3 229.0h.8v.8h-.8zM488.7 227.7h.8v.8h-.8zM474.5 229.0h.8v.8h-.8zM470.2 232.6h.8v.8h-.8zM500.2 227.4h.8v.8h-.8zM477.0 229.5h.8v.8h-.8zM478.0 231.5h.8v.8h-.8zM501.5 239.5h.8v.8h-.8zM474.0 234.5h.8v.8h-.8zM485.9 233.3h.8v.8h-.8zM481.9 226.0h.8v.8h-.8zM473.8 237.5h.8v.8h-.8zM484.1 229.3h.8v.8h-.8zM492.6 234.2h.8v.8h-.8zM473.1 234.5h.8v.8h-.8zM478.7 223.7h.8v.8h-.8zM479.1 233.0h.8v.8h-.8zM488.0 235.7h.8v.8h-.8zM477.0 227.7h.8v.8h-.8zM474.7 230.5h.8v.8h-.8zM472.7 232.6h.8v.8h-.8zM472.5 227.6h.8v.8h-.8zM501.2 235.8h.8v.8h-.8zM472.6 234.8h.8v.8h-.8zM482.4 232.5h.8v.8h-.8zM488.3 235.6h.8v.8h-.8zM478.7 227.4h.8v.8h-.8zM471.5 231.5h.8v.8h-.8zM475.1 241.8h.8v.8h-.8zM504.9 242.6h.8v.8h-.8zM472.3 223.7h.8v.8h-.8zM478.3 234.5h.8v.8h-.8zM474.2 228.7h.8v.8h-.8zM470.3 227.2h.8v.8h-.8zM473.6 231.0h.8v.8h-.8zM474.5 230.3h.8v.8h-.8zM493.3 228.8h.8v.8h-.8zM501.1 228.2h.8v.8h-.8zM482.8 233.7h.8v.8h-.8zM475.3 238.2h.8v.8h-.8zM482.4 237.8h.8v.8h-.8zM474.8 232.3h.8v.8h-.8zM476.5 229.2h.8v.8h-.8zM479.5 230.2h.8v.8h-.8zM483.1 229.4h.8v.8h-.8zM481.8 239.6h.8v.8h-.8zM470.7 235.3h.8v.8h-.8zM472.4 235.3h.8v.8h-.8zM481.9 225.4h.8v.8h-.8zM502.7 225.3h.8v.8h-.8zM484.2 232.6h.8v.8h-.8z" fill="#222"/>
<path d="M462.7 217.5h.8v.8h-.8zM459.9 217.6h.8v.8h-.8zM452.9 220.9h.8v.8h-.8zM440.9 220.9h.8v.8h-.8zM442.3 224.5h.8v.8h-.8zM410.7 230.1h.8v.8h-.8zM417.4 229.0h.8v.8h-.8zM422.8 228.8h.8v.8h-.8zM450.6 222.0h.8v.8h-.8zM421.5 228.0h.8v.8h-.8zM433.4 226.9h.8v.8h-.8zM451.6 220.9h.8v.8h-.8zM427.6 228.0h.8v.8h-.8zM451.7 221.4h.8v.8h-.8zM442.9 224.2h.8v.8h-.8zM411.9 227.4h.8v.8h-.8zM435.3 224.7h.8v.8h-.8zM467.8 211.4h.8v.8h-.8zM468.8 217.7h.8v.8h-.8zM430.7 225.6h.8v.8h-.8zM465.4 216.9h.8v.8h-.8zM456.4 217.8h.8v.8h-.8zM419.4 228.4h.8v.8h-.8zM425.1 227.2h.8v.8h-.8zM409.2 222.5h.8v.8h-.8zM468.0 217.4h.8v.8h-.8zM431.7 227.5h.8v.8h-.8zM450.8 221.9h.8v.8h-.8zM420.9 228.9h.8v.8h-.8zM422.3 228.4h.8v.8h-.8zM443.0 219.4h.8v.8h-.8zM410.7 228.7h.8v.8h-.8zM460.6 218.2h.8v.8h-.8zM466.3 216.8h.8v.8h-.8zM457.4 219.5h.8v.8h-.8zM436.8 223.1h.8v.8h-.8zM432.9 226.4h.8v.8h-.8zM440.9 223.5h.8v.8h-.8zM467.6 216.9h.8v.8h-.8zM429.9 227.0h.8v.8h-.8zM432.7 226.0h.8v.8h-.8zM423.4 227.9h.8v.8h-.8zM427.4 227.6h.8v.8h-.8zM468.9 217.8h.8v.8h-.8zM459.1 218.8h.8v.8h-.8zM430.7 225.4h.8v.8h-.8zM411.6 229.4h.8v.8h-.8zM416.1 229.7h.8v.8h-.8zM457.9 218.3h.8v.8h-.8zM442.8 224.5h.8v.8h-.8zM411.2 228.3h.8v.8h-.8zM424.5 228.5h.8v.8h-.8zM450.9 221.9h.8v.8h-.8zM428.7 225.4h.8v.8h-.8zM447.2 222.9h.8v.8h-.8zM425.6 227.6h.8v.8h-.8zM412.6 229.1h.8v.8h-.8zM412.7 225.7h.8v.8h-.8zM434.5 226.9h.8v.8h-.8zM450.8 221.1h.8v.8h-.8zM466.1 217.4h.8v.8h-.8zM450.0 221.1h.8v.8h-.8zM470.4 220.5h.8v.8h-.8zM468.9 218.6h.8v.8h-.8zM434.6 225.6h.8v.8h-.8zM424.8 222.1h.8v.8h-.8zM452.7 221.2h.8v.8h-.8zM411.4 228.5h.8v.8h-.8zM446.2 222.9h.8v.8h-.8zM440.2 223.9h.8v.8h-.8zM417.2 228.9h.8v.8h-.8zM433.2 226.5h.8v.8h-.8zM433.7 226.7h.8v.8h-.8zM410.5 229.5h.8v.8h-.8zM426.7 226.3h.8v.8h-.8zM410.7 229.0h.8v.8h-.8zM444.2 223.6h.8v.8h-.8zM461.8 214.6h.8v.8h-.8zM444.8 222.9h.8v.8h-.8zM413.3 228.9h.8v.8h-.8zM462.7 216.8h.8v.8h-.8zM423.4 227.4h.8v.8h-.8zM440.3 224.3h.8v.8h-.8zM467.6 214.7h.8v.8h-.8zM449.7 221.8h.8v.8h-.8zM465.5 217.4h.8v.8h-.8zM419.2 228.7h.8v.8h-.8zM415.7 226.6h.8v.8h-.8zM454.9 218.5h.8v.8h-.8zM441.1 224.6h.8v.8h-.8zM449.6 221.9h.8v.8h-.8zM462.8 217.5h.8v.8h-.8zM439.1 223.3h.8v.8h-.8zM423.1 225.7h.8v.8h-.8zM454.6 220.5h.8v.8h-.8zM444.2 217.3h.8v.8h-.8zM456.5 219.8h.8v.8h-.8zM459.9 218.0h.8v.8h-.8zM466.9 216.1h.8v.8h-.8zM454.4 213.7h.8v.8h-.8zM429.9 227.2h.8v.8h-.8zM458.8 218.6h.8v.8h-.8zM458.3 218.6h.8v.8h-.8zM446.9 221.7h.8v.8h-.8zM443.9 224.2h.8v.8h-.8zM458.1 218.2h.8v.8h-.8zM433.4 224.7h.8v.8h-.8zM467.0 218.0h.8v.8h-.8zM457.0 218.7h.8v.8h-.8zM412.3 227.7h.8v.8h-.8zM455.7 220.2h.8v.8h-.8zM424.4 228.2h.8v.8h-.8zM430.9 226.6h.8v.8h-.8zM430.1 227.7h.8v.8h-.8zM437.5 225.6h.8v.8h-.8zM438.0 225.9h.8v.8h-.8zM432.7 225.4h.8v.8h-.8zM451.5 221.6h.8v.8h-.8zM469.8 219.5h.8v.8h-.8zM468.8 218.8h.8v.8h-.8zM418.5 228.4h.8v.8h-.8zM415.6 229.1h.8v.8h-.8zM450.0 222.2h.8v.8h-.8zM432.6 226.8h.8v.8h-.8zM417.6 229.3h.8v.8h-.8zM431.6 226.1h.8v.8h-.8zM453.4 220.7h.8v.8h-.8zM443.7 223.5h.8v.8h-.8zM441.3 224.3h.8v.8h-.8zM439.7 225.0h.8v.8h-.8zM409.6 229.3h.8v.8h-.8zM432.6 226.6h.8v.8h-.8zM462.1 217.6h.8v.8h-.8zM437.3 225.0h.8v.8h-.8zM465.0 216.2h.8v.8h-.8zM415.8 229.6h.8v.8h-.8zM452.4 220.3h.8v.8h-.8zM462.4 216.9h.8v.8h-.8zM423.0 229.0h.8v.8h-.8zM437.6 225.8h.8v.8h-.8zM420.7 228.7h.8v.8h-.8zM443.5 223.8h.8v.8h-.8zM466.3 216.3h.8v.8h-.8zM460.1 218.5h.8v.8h-.8zM442.5 224.5h.8v.8h-.8zM460.4 217.6h.8v.8h-.8zM458.1 215.3h.8v.8h-.8zM436.2 225.1h.8v.8h-.8zM424.2 228.2h.8v.8h-.8zM410.2 229.3h.8v.8h-.8zM436.8 223.9h.8v.8h-.8zM432.7 224.3h.8v.8h-.8zM448.0 222.8h.8v.8h-.8zM461.5 217.5h.8v.8h-.8zM426.7 228.2h.8v.8h-.8zM426.7 227.6h.8v.8h-.8zM447.4 215.7h.8v.8h-.8zM421.9 228.6h.8v.8h-.8zM448.5 222.6h.8v.8h-.8zM468.9 217.8h.8v.8h-.8zM440.3 225.0h.8v.8h-.8zM455.0 219.9h.8v.8h-.8zM439.6 224.3h.8v.8h-.8zM409.4 225.1h.8v.8h-.8zM450.2 213.4h.8v.8h-.8zM421.8 228.1h.8v.8h-.8zM414.6 229.6h.8v.8h-.8zM457.6 219.4h.8v.8h-.8zM440.4 217.6h.8v.8h-.8zM415.4 229.0h.8v.8h-.8zM447.2 222.9h.8v.8h-.8zM443.7 224.1h.8v.8h-.8zM445.7 223.5h.8v.8h-.8zM423.4 228.7h.8v.8h-.8zM432.0 225.2h.8v.8h-.8zM453.4 213.5h.8v.8h-.8zM462.0 214.9h.8v.8h-.8zM465.2 217.2h.8v.8h-.8zM424.3 228.1h.8v.8h-.8zM417.8 228.6h.8v.8h-.8zM451.0 220.6h.8v.8h-.8zM441.4 224.6h.8v.8h-.8zM469.6 219.6h.8v.8h-.8zM448.5 222.4h.8v.8h-.8zM470.1 219.7h.8v.8h-.8zM464.3 217.5h.8v.8h-.8zM469.2 219.0h.8v.8h-.8zM440.6 224.7h.8v.8h-.8zM443.3 224.5h.8v.8h-.8zM464.6 216.4h.8v.8h-.8zM429.7 226.7h.8v.8h-.8zM424.8 227.3h.8v.8h-.8zM410.1 228.7h.8v.8h-.8zM423.7 228.5h.8v.8h-.8zM468.4 218.3h.8v.8h-.8zM435.1 226.8h.8v.8h-.8zM419.6 229.5h.8v.8h-.8zM413.2 229.2h.8v.8h-.8zM441.3 224.3h.8v.8h-.8zM415.7 225.0h.8v.8h-.8zM460.7 217.4h.8v.8h-.8zM447.9 218.3h.8v.8h-.8zM420.0 229.2h.8v.8h-.8zM464.1 216.7h.8v.8h-.8zM444.9 222.7h.8v.8h-.8zM451.2 220.4h.8v.8h-.8zM420.4 228.6h.8v.8h-.8zM454.1 220.7h.8v.8h-.8zM443.0 224.3h.8v.8h-.8zM448.3 220.3h.8v.8h-.8zM417.8 228.8h.8v.8h-.8zM444.7 222.8h.8v.8h-.8zM449.5 217.1h.8v.8h-.8zM426.0 227.3h.8v.8h-.8zM412.8 229.1h.8v.8h-.8zM464.8 216.4h.8v.8h-.8zM448.1 221.8h.8v.8h-.8zM453.1 220.6h.8v.8h-.8zM460.8 217.6h.8v.8h-.8zM421.5 228.8h.8v.8h-.8zM434.4 225.2h.8v.8h-.8zM417.7 229.5h.8v.8h-.8zM411.5 230.0h.8v.8h-.8zM461.8 216.3h.8v.8h-.8zM453.7 219.9h.8v.8h-.8zM453.1 218.8h.8v.8h-.8zM455.5 218.6h.8v.8h-.8zM426.7 227.4h.8v.8h-.8zM461.1 217.5h.8v.8h-.8zM427.5 227.2h.8v.8h-.8zM460.7 251.5h.8v.8h-.8zM448.0 249.9h.8v.8h-.8zM440.9 249.3h.8v.8h-.8zM469.1 249.1h.8v.8h-.8zM427.7 248.7h.8v.8h-.8zM423.8 248.9h.8v.8h-.8zM456.1 250.0h.8v.8h-.8zM421.1 250.1h.8v.8h-.8zM416.8 250.8h.8v.8h-.8zM444.8 249.4h.8v.8h-.8zM413.2 249.9h.8v.8h-.8zM450.7 249.4h.8v.8h-.8zM429.3 251.7h.8v.8h-.8zM450.2 252.0h.8v.8h-.8zM448.0 249.7h.8v.8h-.8zM465.2 249.4h.8v.8h-.8zM454.8 249.7h.8v.8h-.8zM432.5 249.6h.8v.8h-.8zM449.9 251.6h.8v.8h-.8zM430.5 250.3h.8v.8h-.8zM412.8 248.7h.8v.8h-.8zM423.8 249.2h.8v.8h-.8zM455.0 249.5h.8v.8h-.8zM425.5 249.5h.8v.8h-.8zM458.2 249.4h.8v.8h-.8zM454.3 250.3h.8v.8h-.8zM417.7 249.4h.8v.8h-.8zM460.0 250.7h.8v.8h-.8zM420.6 249.0h.8v.8h-.8zM414.4 248.1h.8v.8h-.8zM428.6 251.9h.8v.8h-.8zM426.3 248.9h.8v.8h-.8zM457.6 249.4h.8v.8h-.8zM457.0 249.4h.8v.8h-.8zM464.4 249.7h.8v.8h-.8zM458.8 249.4h.8v.8h-.8zM467.7 249.9h.8v.8h-.8zM448.4 252.5h.8v.8h-.8zM452.0 249.9h.8v.8h-.8zM420.4 249.6h.8v.8h-.8zM448.2 250.2h.8v.8h-.8zM410.8 248.3h.8v.8h-.8zM409.9 249.8h.8v.8h-.8zM421.0 249.8h.8v.8h-.8zM417.6 248.8h.8v.8h-.8zM457.3 251.3h.8v.8h-.8zM465.2 250.0h.8v.8h-.8zM468.8 249.2h.8v.8h-.8zM457.8 250.4h.8v.8h-.8zM429.5 249.7h.8v.8h-.8zM447.6 249.6h.8v.8h-.8zM424.8 248.7h.8v.8h-.8zM435.0 249.8h.8v.8h-.8zM453.5 249.6h.8v.8h-.8zM419.7 248.9h.8v.8h-.8zM422.1 248.6h.8v.8h-.8zM453.1 251.1h.8v.8h-.8zM458.7 249.5h.8v.8h-.8zM409.4 249.1h.8v.8h-.8zM430.7 249.5h.8v.8h-.8zM457.9 249.9h.8v.8h-.8zM422.1 250.1h.8v.8h-.8zM422.7 249.1h.8v.8h-.8zM449.8 249.5h.8v.8h-.8zM415.6 248.3h.8v.8h-.8zM449.1 250.0h.8v.8h-.8zM462.1 251.0h.8v.8h-.8zM450.0 249.6h.8v.8h-.8zM445.7 251.4h.8v.8h-.8zM441.7 249.5h.8v.8h-.8zM414.4 248.7h.8v.8h-.8zM415.9 248.8h.8v.8h-.8zM443.7 249.7h.8v.8h-.8zM460.0 249.7h.8v.8h-.8zM460.3 251.9h.8v.8h-.8zM420.9 249.0h.8v.8h-.8zM413.1 248.3h.8v.8h-.8zM422.6 248.5h.8v.8h-.8zM410.7 247.9h.8v.8h-.8zM458.7 250.9h.8v.8h-.8z" fill="#222"/>
<path d="M371.9 316.0h.8v.8h-.8zM371.2 324.6h.8v.8h-.8zM376.2 318.6h.8v.8h-.8zM386.1 316.7h.8v.8h-.8zM372.9 321.5h.8v.8h-.8zM372.4 320.0h.8v.8h-.8zM371.4 313.6h.8v.8h-.8zM374.1 318.7h.8v.8h-.8zM379.4 321.6h.8v.8h-.8zM379.7 322.0h.8v.8h-.8zM377.7 324.7h.8v.8h-.8zM391.9 327.9h.8v.8h-.8zM391.8 329.0h.8v.8h-.8zM381.5 314.9h.8v.8h-.8zM390.0 335.1h.8v.8h-.8zM378.4 327.8h.8v.8h-.8zM394.0 315.3h.8v.8h-.8zM380.0 317.6h.8v.8h-.8zM398.8 319.6h.8v.8h-.8zM373.3 324.0h.8v.8h-.8zM374.4 332.4h.8v.8h-.8zM381.1 330.8h.8v.8h-.8zM391.0 314.0h.8v.8h-.8zM374.1 323.7h.8v.8h-.8zM398.8 314.9h.8v.8h-.8zM388.0 325.4h.8v.8h-.8zM396.4 331.2h.8v.8h-.8zM377.8 322.1h.8v.8h-.8zM392.9 317.8h.8v.8h-.8zM379.1 323.8h.8v.8h-.8zM375.5 321.8h.8v.8h-.8zM376.3 330.5h.8v.8h-.8zM383.3 321.3h.8v.8h-.8zM390.0 325.4h.8v.8h-.8zM389.7 319.6h.8v.8h-.8zM373.3 316.5h.8v.8h-.8zM379.7 326.8h.8v.8h-.8zM382.2 313.6h.8v.8h-.8zM383.5 323.1h.8v.8h-.8zM394.5 324.4h.8v.8h-.8zM371.1 322.1h.8v.8h-.8zM386.1 328.5h.8v.8h-.8zM385.9 331.9h.8v.8h-.8zM374.9 314.3h.8v.8h-.8zM374.5 325.1h.8v.8h-.8zM372.3 324.8h.8v.8h-.8zM371.6 320.0h.8v.8h-.8zM401.5 322.7h.8v.8h-.8zM373.8 329.8h.8v.8h-.8zM374.9 325.9h.8v.8h-.8zM375.1 326.5h.8v.8h-.8zM381.6 321.3h.8v.8h-.8zM372.7 319.2h.8v.8h-.8zM380.0 317.5h.8v.8h-.8zM376.7 325.3h.8v.8h-.8zM373.2 327.2h.8v.8h-.8zM383.6 328.8h.8v.8h-.8zM385.6 317.4h.8v.8h-.8zM373.7 318.1h.8v.8h-.8zM401.8 312.8h.8v.8h-.8zM374.7 321.2h.8v.8h-.8zM376.9 327.2h.8v.8h-.8zM391.4 321.3h.8v.8h-.8zM372.6 319.5h.8v.8h-.8zM374.3 320.1h.8v.8h-.8zM375.5 316.8h.8v.8h-.8zM377.5 326.5h.8v.8h-.8zM395.8 330.7h.8v.8h-.8zM378.1 330.5h.8v.8h-.8zM390.7 318.0h.8v.8h-.8zM399.2 326.1h.8v.8h-.8zM383.6 321.0h.8v.8h-.8zM386.5 314.6h.8v.8h-.8zM376.3 309.5h.8v.8h-.8zM375.4 328.8h.8v.8h-.8zM398.5 311.9h.8v.8h-.8zM378.1 311.6h.8v.8h-.8zM373.7 327.7h.8v.8h-.8zM373.2 323.9h.8v.8h-.8zM377.7 326.0h.8v.8h-.8zM377.0 320.9h.8v.8h-.8zM376.2 322.5h.8v.8h-.8zM379.8 328.0h.8v.8h-.8zM400.6 325.4h.8v.8h-.8zM384.2 333.4h.8v.8h-.8zM379.5 318.7h.8v.8h-.8zM371.2 327.1h.8v.8h-.8zM394.2 325.8h.8v.8h-.8zM376.0 327.6h.8v.8h-.8zM380.6 329.0h.8v.8h-.8zM378.8 326.8h.8v.8h-.8zM381.6 327.3h.8v.8h-.8zM386.5 324.3h.8v.8h-.8zM393.3 320.5h.8v.8h-.8zM375.8 318.5h.8v.8h-.8zM391.6 325.5h.8v.8h-.8zM378.2 327.4h.8v.8h-.8zM372.9 324.3h.8v.8h-.8zM371.1 325.9h.8v.8h-.8zM378.4 323.8h.8v.8h-.8zM370.9 327.8h.8v.8h-.8zM380.8 331.1h.8v.8h-.8zM385.7 318.1h.8v.8h-.8zM377.1 324.8h.8v.8h-.8zM390.7 323.4h.8v.8h-.8zM384.6 321.1h.8v.8h-.8zM383.8 325.6h.8v.8h-.8zM404.3 322.5h.8v.8h-.8zM380.5 340.7h.8v.8h-.8zM373.8 325.1h.8v.8h-.8zM404.0 335.1h.8v.8h-.8zM373.8 322.4h.8v.8h-.8zM373.8 324.7h.8v.8h-.8zM374.1 319.3h.8v.8h-.8zM384.6 324.4h.8v.8h-.8zM374.4 321.7h.8v.8h-.8zM373.2 326.7h.8v.8h-.8zM371.6 322.5h.8v.8h-.8zM385.0 322.5h.8v.8h-.8zM371.5 313.7h.8v.8h-.8zM382.9 323.8h.8v.8h-.8zM375.5 318.2h.8v.8h-.8zM375.8 325.1h.8v.8h-.8zM371.6 323.5h.8v.8h-.8zM373.8 324.3h.8v.8h-.8zM376.0 327.5h.8v.8h-.8zM373.7 325.9h.8v.8h-.8zM379.9 320.0h.8v.8h-.8zM387.9 315.0h.8v.8h-.8zM390.0 317.7h.8v.8h-.8zM371.4 323.1h.8v.8h-.8zM385.8 318.7h.8v.8h-.8zM372.0 324.8h.8v.8h-.8zM373.4 326.0h.8v.8h-.8zM394.5 316.8h.8v.8h-.8zM394.3 322.3h.8v.8h-.8zM398.3 328.0h.8v.8h-.8zM374.3 313.6h.8v.8h-.8zM378.8 315.1h.8v.8h-.8zM377.9 331.9h.8v.8h-.8zM403.8 317.5h.8v.8h-.8zM386.4 322.5h.8v.8h-.8zM371.2 323.5h.8v.8h-.8zM403.2 304.5h.8v.8h-.8zM374.3 325.7h.8v.8h-.8zM373.4 321.5h.8v.8h-.8zM374.9 333.1h.8v.8h-.8zM376.4 321.9h.8v.8h-.8zM379.2 326.4h.8v.8h-.8zM399.6 308.8h.8v.8h-.8zM376.6 322.8h.8v.8h-.8zM405.1 333.1h.8v.8h-.8zM382.9 324.9h.8v.8h-.8zM379.8 319.7h.8v.8h-.8zM402.3 308.2h.8v.8h-.8zM391.7 316.8h.8v.8h-.8zM378.3 319.3h.8v.8h-.8zM378.2 314.9h.8v.8h-.8zM380.1 326.3h.8v.8h-.8zM376.7 319.4h.8v.8h-.8zM394.9 313.6h.8v.8h-.8zM374.4 318.8h.8v.8h-.8zM391.4 323.3h.8v.8h-.8zM386.5 325.2h.8v.8h-.8zM372.8 322.3h.8v.8h-.8zM382.2 323.0h.8v.8h-.8zM371.9 318.4h.8v.8h-.8zM382.0 317.7h.8v.8h-.8zM374.9 319.0h.8v.8h-.8zM376.3 323.2h.8v.8h-.8zM377.0 331.1h.8v.8h-.8zM386.6 317.8h.8v.8h-.8zM375.0 321.2h.8v.8h-.8zM384.9 331.1h.8v.8h-.8zM373.0 314.9h.8v.8h-.8zM374.7 324.6h.8v.8h-.8zM377.1 324.1h.8v.8h-.8zM386.8 329.6h.8v.8h-.8zM372.9 319.3h.8v.8h-.8zM376.8 324.7h.8v.8h-.8zM381.7 325.8h.8v.8h-.8zM379.7 324.2h.8v.8h-.8zM399.4 328.1h.8v.8h-.8zM383.4 318.0h.8v.8h-.8zM375.4 319.7h.8v.8h-.8zM388.9 331.9h.8v.8h-.8zM383.6 323.7h.8v.8h-.8zM390.3 322.7h.8v.8h-.8zM373.5 316.6h.8v.8h-.8zM385.1 326.4h.8v.8h-.8zM375.2 318.0h.8v.8h-.8zM378.9 311.7h.8v.8h-.8zM377.3 318.2h.8v.8h-.8zM385.5 310.6h.8v.8h-.8zM403.9 326.6h.8v.8h-.8zM374.5 311.0h.8v.8h-.8zM385.0 323.0h.8v.8h-.8zM376.2 324.5h.8v.8h-.8zM403.8 329.6h.8v.8h-.8zM392.7 315.4h.8v.8h-.8zM371.8 323.7h.8v.8h-.8zM376.0 322.3h.8v.8h-.8zM374.4 325.3h.8v.8h-.8zM394.9 315.8h.8v.8h-.8zM379.3 318.9h.8v.8h-.8zM371.5 324.9h.8v.8h-.8zM378.5 335.3h.8v.8h-.8zM404.7 314.9h.8v.8h-.8zM372.2 314.8h.8v.8h-.8zM373.0 325.1h.8v.8h-.8zM371.8 322.7h.8v.8h-.8zM387.9 324.8h.8v.8h-.8zM386.6 324.2h.8v.8h-.8zM386.2 322.1h.8v.8h-.8zM390.8 323.4h.8v.8h-.8zM390.6 326.3h.8v.8h-.8zM384.4 323.8h.8v.8h-.8zM373.3 319.9h.8v.8h-.8zM372.1 323.1h.8v.8h-.8zM379.2 312.4h.8v.8h-.8zM370.9 320.2h.8v.8h-.8zM376.4 327.7h.8v.8h-.8zM373.2 324.6h.8v.8h-.8zM376.0 329.0h.8v.8h-.8zM384.8 320.5h.8v.8h-.8zM382.6 324.8h.8v.8h-.8zM372.1 324.2h.8v.8h-.8zM373.7 318.8h.8v.8h-.8zM384.3 324.4h.8v.8h-.8zM373.7 320.1h.8v.8h-.8zM379.6 324.0h.8v.8h-.8zM371.2 319.8h.8v.8h-.8zM373.2 323.5h.8v.8h-.8zM382.1 328.3h.8v.8h-.8zM381.2 320.2h.8v.8h-.8z" fill="#444"/>
<path d="M352.8 309.8h.8v.8h-.8zM366.2 305.4h.8v.8h-.8zM318.7 319.5h.8v.8h-.8zM332.0 317.2h.8v.8h-.8zM367.6 306.6h.8v.8h-.8zM326.0 316.1h.8v.8h-.8zM354.3 310.6h.8v.8h-.8zM321.3 317.8h.8v.8h-.8zM345.9 312.8h.8v.8h-.8zM335.4 316.1h.8v.8h-.8zM364.7 307.5h.8v.8h-.8zM318.0 318.5h.8v.8h-.8zM338.1 316.0h.8v.8h-.8zM338.9 315.9h.8v.8h-.8zM329.6 317.9h.8v.8h-.8zM342.5 314.6h.8v.8h-.8zM340.4 314.1h.8v.8h-.8zM350.6 310.6h.8v.8h-.8zM356.3 300.6h.8v.8h-.8zM331.7 317.7h.8v.8h-.8zM319.9 311.7h.8v.8h-.8zM323.2 319.2h.8v.8h-.8zM367.2 305.7h.8v.8h-.8zM324.9 318.8h.8v.8h-.8zM345.0 313.4h.8v.8h-.8zM319.9 319.0h.8v.8h-.8zM362.0 308.3h.8v.8h-.8zM349.6 310.1h.8v.8h-.8zM365.1 306.7h.8v.8h-.8zM319.4 317.4h.8v.8h-.8zM371.1 309.8h.8v.8h-.8zM355.8 309.6h.8v.8h-.8zM338.0 307.7h.8v.8h-.8zM343.2 311.7h.8v.8h-.8zM345.1 313.5h.8v.8h-.8zM311.7 319.6h.8v.8h-.8zM333.7 317.3h.8v.8h-.8zM352.1 311.3h.8v.8h-.8zM317.3 319.0h.8v.8h-.8zM330.6 317.2h.8v.8h-.8zM312.0 317.7h.8v.8h-.8zM338.0 315.8h.8v.8h-.8zM364.3 307.6h.8v.8h-.8zM321.0 318.4h.8v.8h-.8zM370.5 309.6h.8v.8h-.8zM313.5 318.9h.8v.8h-.8zM337.8 315.4h.8v.8h-.8zM344.1 313.3h.8v.8h-.8zM320.2 318.3h.8v.8h-.8zM333.3 317.2h.8v.8h-.8zM329.4 315.6h.8v.8h-.8zM311.7 319.7h.8v.8h-.8zM316.8 318.3h.8v.8h-.8zM348.7 312.4h.8v.8h-.8zM342.1 314.0h.8v.8h-.8zM354.0 310.3h.8v.8h-.8zM323.7 312.2h.8v.8h-.8zM359.2 308.4h.8v.8h-.8zM353.0 310.7h.8v.8h-.8zM329.6 313.2h.8v.8h-.8zM353.5 311.3h.8v.8h-.8zM317.6 319.1h.8v.8h-.8zM348.6 313.0h.8v.8h-.8zM349.7 311.3h.8v.8h-.8zM357.6 309.2h.8v.8h-.8zM352.2 310.6h.8v.8h-.8zM344.1 314.0h.8v.8h-.8zM330.2 315.2h.8v.8h-.8zM329.5 314.2h.8v.8h-.8zM316.5 319.7h.8v.8h-.8zM329.1 317.7h.8v.8h-.8zM325.6 317.7h.8v.8h-.8zM324.1 316.3h.8v.8h-.8zM370.8 302.4h.8v.8h-.8zM310.9 319.6h.8v.8h-.8zM357.0 308.2h.8v.8h-.8zM319.4 318.3h.8v.8h-.8zM342.4 312.0h.8v.8h-.8zM351.0 311.5h.8v.8h-.8zM322.7 318.1h.8v.8h-.8zM369.2 300.5h.8v.8h-.8zM352.4 309.0h.8v.8h-.8zM316.1 318.3h.8v.8h-.8zM359.6 302.7h.8v.8h-.8zM333.7 315.1h.8v.8h-.8zM349.2 311.8h.8v.8h-.8zM339.0 314.8h.8v.8h-.8zM331.7 315.2h.8v.8h-.8zM321.1 319.1h.8v.8h-.8zM352.7 311.4h.8v.8h-.8zM362.1 306.8h.8v.8h-.8zM342.1 313.6h.8v.8h-.8zM354.5 310.2h.8v.8h-.8zM338.6 313.0h.8v.8h-.8zM366.3 305.0h.8v.8h-.8zM311.4 319.0h.8v.8h-.8zM310.3 319.7h.8v.8h-.8zM366.2 302.7h.8v.8h-.8zM339.7 314.9h.8v.8h-.8zM344.8 309.1h.8v.8h-.8zM347.4 312.9h.8v.8h-.8zM347.7 312.0h.8v.8h-.8zM337.6 316.0h.8v.8h-.8zM345.8 312.9h.8v.8h-.8zM331.2 317.3h.8v.8h-.8zM327.6 317.5h.8v.8h-.8zM321.6 318.6h.8v.8h-.8zM334.3 313.2h.8v.8h-.8zM341.8 313.5h.8v.8h-.8zM331.3 316.1h.8v.8h-.8zM364.3 306.7h.8v.8h-.8zM371.1 310.4h.8v.8h-.8zM346.4 313.7h.8v.8h-.8zM327.7 317.7h.8v.8h-.8zM325.2 316.9h.8v.8h-.8zM316.3 317.5h.8v.8h-.8zM315.5 318.9h.8v.8h-.8zM336.5 311.0h.8v.8h-.8zM324.4 318.4h.8v.8h-.8zM359.5 308.7h.8v.8h-.8zM345.1 313.6h.8v.8h-.8zM328.1 317.8h.8v.8h-.8zM310.0 319.0h.8v.8h-.8zM322.4 319.3h.8v.8h-.8zM363.9 307.8h.8v.8h-.8zM317.8 319.2h.8v.8h-.8zM332.8 315.4h.8v.8h-.8zM363.4 306.9h.8v.8h-.8zM320.9 319.3h.8v.8h-.8zM338.1 313.1h.8v.8h-.8zM330.6 315.0h.8v.8h-.8zM355.0 301.2h.8v.8h-.8zM347.6 313.0h.8v.8h-.8zM369.9 302.1h.8v.8h-.8zM322.0 311.3h.8v.8h-.8zM361.8 307.7h.8v.8h-.8zM341.3 315.3h.8v.8h-.8zM333.0 317.2h.8v.8h-.8zM342.7 314.2h.8v.8h-.8zM341.2 313.1h.8v.8h-.8zM338.6 315.0h.8v.8h-.8zM370.7 309.7h.8v.8h-.8zM328.5 317.7h.8v.8h-.8zM355.0 310.5h.8v.8h-.8zM328.1 317.2h.8v.8h-.8zM365.6 307.1h.8v.8h-.8zM354.5 309.8h.8v.8h-.8zM344.9 314.1h.8v.8h-.8zM357.1 309.1h.8v.8h-.8zM363.3 307.8h.8v.8h-.8zM370.6 309.4h.8v.8h-.8zM317.0 318.4h.8v.8h-.8zM361.5 307.2h.8v.8h-.8zM336.0 316.4h.8v.8h-.8zM313.6 319.8h.8v.8h-.8zM352.5 311.4h.8v.8h-.8zM338.1 315.6h.8v.8h-.8zM353.3 311.1h.8v.8h-.8zM334.3 316.6h.8v.8h-.8zM316.0 319.8h.8v.8h-.8zM352.9 302.7h.8v.8h-.8zM321.5 319.2h.8v.8h-.8zM367.6 307.5h.8v.8h-.8zM319.9 319.1h.8v.8h-.8zM310.8 319.8h.8v.8h-.8zM325.0 317.6h.8v.8h-.8zM352.2 311.7h.8v.8h-.8zM319.3 319.2h.8v.8h-.8zM367.0 306.3h.8v.8h-.8zM366.8 307.2h.8v.8h-.8zM344.8 314.0h.8v.8h-.8zM338.7 315.2h.8v.8h-.8zM344.2 312.2h.8v.8h-.8zM320.0 319.4h.8v.8h-.8zM315.6 319.4h.8v.8h-.8zM357.0 309.9h.8v.8h-.8zM367.6 307.5h.8v.8h-.8zM355.1 310.1h.8v.8h-.8zM329.6 317.4h.8v.8h-.8zM319.0 319.1h.8v.8h-.8zM357.7 309.2h.8v.8h-.8zM347.8 312.9h.8v.8h-.8zM323.6 318.2h.8v.8h-.8zM329.6 318.0h.8v.8h-.8zM310.9 318.0h.8v.8h-.8zM349.1 312.8h.8v.8h-.8zM335.9 316.2h.8v.8h-.8zM350.1 305.9h.8v.8h-.8zM329.9 318.1h.8v.8h-.8zM353.5 309.3h.8v.8h-.8zM364.5 305.4h.8v.8h-.8zM344.8 313.1h.8v.8h-.8zM367.9 306.9h.8v.8h-.8zM335.8 316.6h.8v.8h-.8zM347.9 312.1h.8v.8h-.8zM360.2 308.3h.8v.8h-.8zM319.4 317.5h.8v.8h-.8zM351.4 311.2h.8v.8h-.8zM333.0 317.4h.8v.8h-.8zM336.2 316.1h.8v.8h-.8zM319.6 319.4h.8v.8h-.8zM355.7 309.2h.8v.8h-.8zM345.6 314.0h.8v.8h-.8zM368.4 307.6h.8v.8h-.8zM346.1 313.8h.8v.8h-.8zM339.5 314.9h.8v.8h-.8zM316.5 319.2h.8v.8h-.8zM319.6 317.7h.8v.8h-.8zM359.0 307.5h.8v.8h-.8zM357.1 308.9h.8v.8h-.8zM367.8 307.7h.8v.8h-.8zM344.8 306.2h.8v.8h-.8zM341.9 314.1h.8v.8h-.8zM354.0 310.4h.8v.8h-.8zM327.4 317.0h.8v.8h-.8zM324.9 313.3h.8v.8h-.8zM316.5 318.7h.8v.8h-.8zM355.9 309.2h.8v.8h-.8zM310.6 318.5h.8v.8h-.8zM318.9 316.1h.8v.8h-.8zM329.5 312.4h.8v.8h-.8zM318.5 317.7h.8v.8h-.8zM321.8 318.5h.8v.8h-.8zM371.3 310.6h.8v.8h-.8zM350.9 311.7h.8v.8h-.8zM313.5 318.7h.8v.8h-.8zM366.3 307.5h.8v.8h-.8zM333.1 308.8h.8v.8h-.8zM337.7 308.6h.8v.8h-.8zM318.2 319.2h.8v.8h-.8zM357.1 340.1h.8v.8h-.8zM351.2 339.8h.8v.8h-.8zM359.5 339.6h.8v.8h-.8zM335.0 339.7h.8v.8h-.8zM346.6 340.4h.8v.8h-.8zM326.1 339.6h.8v.8h-.8zM354.4 339.6h.8v.8h-.8zM310.2 338.2h.8v.8h-.8zM345.2 340.3h.8v.8h-.8zM343.8 339.7h.8v.8h-.8zM321.2 338.7h.8v.8h-.8zM334.5 340.4h.8v.8h-.8zM340.5 340.2h.8v.8h-.8zM355.6 340.0h.8v.8h-.8zM313.4 338.3h.8v.8h-.8zM321.9 338.4h.8v.8h-.8zM321.3 338.9h.8v.8h-.8zM367.3 339.9h.8v.8h-.8zM328.2 338.8h.8v.8h-.8zM332.4 339.2h.8v.8h-.8zM358.1 341.8h.8v.8h-.8zM347.7 339.9h.8v.8h-.8zM349.4 341.2h.8v.8h-.8zM337.4 339.9h.8v.8h-.8zM318.2 338.5h.8v.8h-.8zM313.2 340.0h.8v.8h-.8zM320.7 339.6h.8v.8h-.8zM338.4 340.3h.8v.8h-.8zM349.9 340.6h.8v.8h-.8zM312.0 338.6h.8v.8h-.8zM335.1 340.4h.8v.8h-.8zM330.7 339.0h.8v.8h-.8zM348.1 340.5h.8v.8h-.8zM335.3 339.1h.8v.8h-.8zM360.4 339.9h.8v.8h-.8zM350.9 339.9h.8v.8h-.8zM328.1 339.9h.8v.8h-.8zM332.0 340.5h.8v.8h-.8zM366.1 341.8h.8v.8h-.8zM317.6 338.3h.8v.8h-.8zM334.6 341.2h.8v.8h-.8zM364.6 339.9h.8v.8h-.8zM339.6 342.1h.8v.8h-.8zM333.5 339.5h.8v.8h-.8zM328.5 340.4h.8v.8h-.8zM359.2 341.4h.8v.8h-.8zM342.2 339.3h.8v.8h-.8zM350.9 341.5h.8v.8h-.8zM316.3 339.5h.8v.8h-.8zM339.0 340.9h.8v.8h-.8zM336.0 339.4h.8v.8h-.8zM323.5 339.1h.8v.8h-.8zM351.6 339.8h.8v.8h-.8zM350.7 339.2h.8v.8h-.8zM340.7 339.7h.8v.8h-.8zM328.5 338.8h.8v.8h-.8zM352.4 340.0h.8v.8h-.8zM347.9 340.0h.8v.8h-.8zM356.2 341.6h.8v.8h-.8zM321.4 338.4h.8v.8h-.8zM344.2 340.3h.8v.8h-.8zM346.5 340.1h.8v.8h-.8zM333.3 338.9h.8v.8h-.8zM363.6 341.1h.8v.8h-.8zM351.8 340.9h.8v.8h-.8zM325.3 341.1h.8v.8h-.8zM345.1 339.9h.8v.8h-.8zM309.7 339.2h.8v.8h-.8zM341.2 339.4h.8v.8h-.8zM333.9 339.6h.8v.8h-.8zM370.3 340.1h.8v.8h-.8zM346.5 339.6h.8v.8h-.8zM362.1 341.8h.8v.8h-.8zM353.2 340.0h.8v.8h-.8zM334.4 339.6h.8v.8h-.8zM312.8 338.5h.8v.8h-.8zM339.6 340.0h.8v.8h-.8zM361.7 339.6h.8v.8h-.8zM369.6 339.1h.8v.8h-.8zM331.4 339.4h.8v.8h-.8z" fill="#222"/>
<path d="M480.7 328.6h.8v.8h-.8zM473.1 328.5h.8v.8h-.8zM483.8 321.0h.8v.8h-.8zM472.2 328.4h.8v.8h-.8zM482.2 322.8h.8v.8h-.8zM473.8 321.5h.8v.8h-.8zM471.3 325.4h.8v.8h-.8zM474.9 316.1h.8v.8h-.8zM493.4 329.9h.8v.8h-.8zM486.4 324.0h.8v.8h-.8zM473.6 322.8h.8v.8h-.8zM470.9 320.1h.8v.8h-.8zM488.0 326.7h.8v.8h-.8zM497.2 324.6h.8v.8h-.8zM501.8 307.2h.8v.8h-.8zM478.5 322.1h.8v.8h-.8zM491.2 321.1h.8v.8h-.8zM480.5 331.9h.8v.8h-.8zM480.8 321.2h.8v.8h-.8zM491.9 313.5h.8v.8h-.8zM470.1 319.4h.8v.8h-.8zM474.5 321.9h.8v.8h-.8zM487.7 322.7h.8v.8h-.8zM472.8 315.9h.8v.8h-.8zM475.3 315.2h.8v.8h-.8zM479.7 317.7h.8v.8h-.8zM491.2 319.0h.8v.8h-.8zM473.3 325.6h.8v.8h-.8zM479.5 319.9h.8v.8h-.8zM470.1 321.8h.8v.8h-.8zM476.0 329.6h.8v.8h-.8zM478.5 323.5h.8v.8h-.8zM500.4 317.6h.8v.8h-.8zM489.3 315.8h.8v.8h-.8zM490.4 320.0h.8v.8h-.8zM488.9 326.2h.8v.8h-.8zM485.0 325.8h.8v.8h-.8zM480.1 323.2h.8v.8h-.8zM471.7 318.0h.8v.8h-.8zM476.3 321.4h.8v.8h-.8zM494.8 322.0h.8v.8h-.8zM486.2 319.8h.8v.8h-.8zM474.7 313.7h.8v.8h-.8zM474.5 320.6h.8v.8h-.8zM473.1 325.1h.8v.8h-.8zM475.2 313.5h.8v.8h-.8zM496.4 322.1h.8v.8h-.8zM470.7 322.8h.8v.8h-.8zM475.5 315.4h.8v.8h-.8zM470.1 323.6h.8v.8h-.8zM475.2 320.2h.8v.8h-.8zM476.5 325.7h.8v.8h-.8zM503.8 328.0h.8v.8h-.8zM471.0 318.3h.8v.8h-.8zM474.8 323.7h.8v.8h-.8zM472.6 323.9h.8v.8h-.8zM476.9 326.2h.8v.8h-.8zM504.5 324.6h.8v.8h-.8zM474.9 313.0h.8v.8h-.8zM470.3 321.8h.8v.8h-.8zM493.2 320.4h.8v.8h-.8zM498.3 339.1h.8v.8h-.8zM485.4 331.8h.8v.8h-.8zM488.0 322.6h.8v.8h-.8zM491.8 324.0h.8v.8h-.8zM492.3 323.0h.8v.8h-.8zM485.2 323.7h.8v.8h-.8zM476.6 316.6h.8v.8h-.8zM484.9 332.6h.8v.8h-.8zM472.2 320.0h.8v.8h-.8zM485.0 312.7h.8v.8h-.8zM471.0 323.1h.8v.8h-.8zM476.4 320.6h.8v.8h-.8zM482.8 328.2h.8v.8h-.8zM472.2 321.7h.8v.8h-.8zM475.2 320.7h.8v.8h-.8zM485.7 327.8h.8v.8h-.8zM499.6 323.3h.8v.8h-.8zM493.5 319.0h.8v.8h-.8zM494.7 325.5h.8v.8h-.8zM484.2 325.3h.8v.8h-.8zM491.1 326.1h.8v.8h-.8zM486.8 333.8h.8v.8h-.8zM498.6 334.1h.8v.8h-.8zM489.8 318.8h.8v.8h-.8zM476.3 321.5h.8v.8h-.8zM499.7 330.3h.8v.8h-.8zM486.2 319.7h.8v.8h-.8zM483.0 334.8h.8v.8h-.8zM477.5 315.3h.8v.8h-.8zM479.2 323.2h.8v.8h-.8zM483.2 324.8h.8v.8h-.8zM479.5 326.9h.8v.8h-.8zM494.2 325.0h.8v.8h-.8zM488.4 326.0h.8v.8h-.8zM481.4 323.0h.8v.8h-.8zM480.4 321.5h.8v.8h-.8zM501.8 322.5h.8v.8h-.8zM483.0 316.7h.8v.8h-.8zM479.0 324.4h.8v.8h-.8zM474.6 322.3h.8v.8h-.8zM484.6 326.9h.8v.8h-.8zM491.3 318.5h.8v.8h-.8zM477.4 318.7h.8v.8h-.8zM470.2 323.3h.8v.8h-.8zM476.2 317.6h.8v.8h-.8zM474.1 319.6h.8v.8h-.8zM477.0 322.3h.8v.8h-.8zM472.0 324.1h.8v.8h-.8zM477.1 328.0h.8v.8h-.8zM472.0 323.2h.8v.8h-.8zM479.5 320.8h.8v.8h-.8zM476.2 326.1h.8v.8h-.8zM480.4 323.9h.8v.8h-.8zM490.8 321.8h.8v.8h-.8zM488.0 317.8h.8v.8h-.8zM497.5 324.1h.8v.8h-.8zM478.4 332.4h.8v.8h-.8zM481.6 326.4h.8v.8h-.8zM474.9 322.8h.8v.8h-.8zM474.0 327.4h.8v.8h-.8zM476.8 311.2h.8v.8h-.8zM498.9 318.7h.8v.8h-.8zM473.9 327.9h.8v.8h-.8zM498.2 321.1h.8v.8h-.8zM483.2 312.8h.8v.8h-.8zM481.5 322.8h.8v.8h-.8zM485.3 321.1h.8v.8h-.8zM474.5 324.8h.8v.8h-.8zM473.7 321.7h.8v.8h-.8zM485.6 303.2h.8v.8h-.8zM471.3 326.3h.8v.8h-.8zM494.4 301.6h.8v.8h-.8zM490.6 329.0h.8v.8h-.8zM498.4 319.0h.8v.8h-.8zM477.3 313.0h.8v.8h-.8zM498.3 305.0h.8v.8h-.8zM477.0 314.8h.8v.8h-.8zM487.2 329.3h.8v.8h-.8zM491.3 312.9h.8v.8h-.8zM472.8 324.4h.8v.8h-.8zM488.8 327.1h.8v.8h-.8zM470.6 321.1h.8v.8h-.8zM473.8 320.2h.8v.8h-.8zM475.8 314.8h.8v.8h-.8zM474.6 330.2h.8v.8h-.8zM485.9 328.7h.8v.8h-.8zM478.0 319.5h.8v.8h-.8zM474.4 318.6h.8v.8h-.8zM505.3 324.5h.8v.8h-.8zM478.7 331.2h.8v.8h-.8zM493.7 309.2h.8v.8h-.8zM478.0 316.1h.8v.8h-.8zM477.4 315.9h.8v.8h-.8zM481.5 325.0h.8v.8h-.8zM498.3 324.8h.8v.8h-.8zM476.6 320.6h.8v.8h-.8zM492.1 314.8h.8v.8h-.8zM476.0 328.4h.8v.8h-.8zM475.3 325.9h.8v.8h-.8zM474.1 316.9h.8v.8h-.8zM491.3 315.1h.8v.8h-.8zM486.3 324.9h.8v.8h-.8zM472.5 320.4h.8v.8h-.8zM486.4 326.4h.8v.8h-.8zM474.5 321.4h.8v.8h-.8zM495.6 323.7h.8v.8h-.8zM474.4 325.6h.8v.8h-.8zM496.7 310.9h.8v.8h-.8zM484.8 322.3h.8v.8h-.8zM486.1 323.9h.8v.8h-.8zM470.2 315.3h.8v.8h-.8zM472.7 321.3h.8v.8h-.8zM480.2 319.1h.8v.8h-.8zM474.0 321.5h.8v.8h-.8zM486.8 323.9h.8v.8h-.8zM474.5 324.6h.8v.8h-.8zM485.2 320.4h.8v.8h-.8zM479.4 326.2h.8v.8h-.8zM488.8 323.2h.8v.8h-.8zM470.4 325.4h.8v.8h-.8zM477.6 321.1h.8v.8h-.8zM481.4 324.5h.8v.8h-.8zM476.7 319.4h.8v.8h-.8zM479.6 327.3h.8v.8h-.8zM504.2 324.6h.8v.8h-.8zM480.1 326.1h.8v.8h-.8zM474.6 323.5h.8v.8h-.8zM477.7 319.0h.8v.8h-.8zM492.7 332.2h.8v.8h-.8zM470.8 326.9h.8v.8h-.8zM497.7 327.7h.8v.8h-.8zM471.4 328.0h.8v.8h-.8zM490.1 324.6h.8v.8h-.8zM503.1 339.1h.8v.8h-.8zM481.2 320.1h.8v.8h-.8zM488.6 317.4h.8v.8h-.8zM490.5 317.8h.8v.8h-.8zM472.7 320.4h.8v.8h-.8zM471.7 322.7h.8v.8h-.8zM489.7 318.0h.8v.8h-.8zM476.1 316.7h.8v.8h-.8zM473.6 320.9h.8v.8h-.8zM476.4 311.8h.8v.8h-.8zM473.5 316.4h.8v.8h-.8zM473.0 323.9h.8v.8h-.8zM491.6 323.8h.8v.8h-.8zM470.9 318.4h.8v.8h-.8zM493.3 323.7h.8v.8h-.8zM470.8 320.3h.8v.8h-.8zM476.3 310.0h.8v.8h-.8zM479.2 321.9h.8v.8h-.8zM503.4 314.5h.8v.8h-.8zM472.8 327.1h.8v.8h-.8zM484.6 309.2h.8v.8h-.8zM493.2 334.6h.8v.8h-.8zM478.6 313.0h.8v.8h-.8zM489.5 327.1h.8v.8h-.8zM479.3 327.8h.8v.8h-.8zM487.3 317.9h.8v.8h-.8zM480.7 323.6h.8v.8h-.8zM482.9 313.5h.8v.8h-.8zM474.7 317.9h.8v.8h-.8zM470.8 324.7h.8v.8h-.8zM494.7 311.3h.8v.8h-.8zM498.7 327.4h.8v.8h-.8zM488.2 335.4h.8v.8h-.8zM471.0 319.3h.8v.8h-.8zM473.2 315.9h.8v.8h-.8zM478.7 319.6h.8v.8h-.8zM471.3 323.4h.8v.8h-.8zM474.7 320.5h.8v.8h-.8zM474.8 316.1h.8v.8h-.8zM477.1 322.5h.8v.8h-.8zM475.8 328.2h.8v.8h-.8zM484.0 321.6h.8v.8h-.8zM491.3 325.8h.8v.8h-.8zM475.4 326.9h.8v.8h-.8zM475.4 320.6h.8v.8h-.8zM492.6 328.0h.8v.8h-.8zM493.6 318.0h.8v.8h-.8zM477.2 326.5h.8v.8h-.8zM470.7 322.1h.8v.8h-.8zM470.1 316.8h.8v.8h-.8zM476.0 320.4h.8v.8h-.8zM479.5 317.9h.8v.8h-.8zM473.7 324.6h.8v.8h-.8zM484.0 321.5h.8v.8h-.8zM475.4 318.9h.8v.8h-.8zM490.0 323.0h.8v.8h-.8zM479.3 317.4h.8v.8h-.8zM482.7 319.2h.8v.8h-.8zM471.6 326.6h.8v.8h-.8zM477.2 321.6h.8v.8h-.8zM503.5 317.8h.8v.8h-.8zM479.8 331.5h.8v.8h-.8zM472.2 319.1h.8v.8h-.8zM474.0 320.5h.8v.8h-.8zM499.4 318.5h.8v.8h-.8zM489.8 321.0h.8v.8h-.8zM485.5 325.4h.8v.8h-.8zM473.8 322.4h.8v.8h-.8zM474.4 315.9h.8v.8h-.8zM496.7 331.2h.8v.8h-.8zM480.7 328.4h.8v.8h-.8zM477.8 322.8h.8v.8h-.8zM473.2 320.6h.8v.8h-.8zM478.6 323.9h.8v.8h-.8zM492.2 322.4h.8v.8h-.8zM470.6 323.0h.8v.8h-.8zM474.8 329.5h.8v.8h-.8zM491.3 322.5h.8v.8h-.8zM472.7 330.1h.8v.8h-.8zM501.0 309.3h.8v.8h-.8zM472.4 320.2h.8v.8h-.8zM488.4 318.5h.8v.8h-.8zM476.7 325.8h.8v.8h-.8zM471.5 324.9h.8v.8h-.8zM470.2 315.8h.8v.8h-.8zM482.8 329.6h.8v.8h-.8zM473.3 323.0h.8v.8h-.8zM475.4 327.5h.8v.8h-.8zM474.6 322.4h.8v.8h-.8zM494.5 311.6h.8v.8h-.8zM477.1 329.5h.8v.8h-.8zM472.4 320.4h.8v.8h-.8zM472.9 322.7h.8v.8h-.8zM483.2 318.5h.8v.8h-.8zM473.5 320.8h.8v.8h-.8zM483.1 315.8h.8v.8h-.8zM489.8 324.9h.8v.8h-.8zM472.7 323.8h.8v.8h-.8zM498.3 322.4h.8v.8h-.8zM491.6 325.9h.8v.8h-.8zM476.6 325.9h.8v.8h-.8zM471.6 325.7h.8v.8h-.8zM470.8 323.1h.8v.8h-.8zM480.6 330.1h.8v.8h-.8zM479.1 320.6h.8v.8h-.8zM472.8 318.2h.8v.8h-.8zM471.7 318.9h.8v.8h-.8zM471.5 316.4h.8v.8h-.8zM479.3 323.8h.8v.8h-.8zM481.4 316.3h.8v.8h-.8zM492.0 313.8h.8v.8h-.8zM479.6 327.4h.8v.8h-.8zM470.7 329.5h.8v.8h-.8zM474.1 324.5h.8v.8h-.8zM487.3 330.5h.8v.8h-.8zM471.9 316.6h.8v.8h-.8zM490.7 321.4h.8v.8h-.8zM471.4 321.7h.8v.8h-.8zM478.7 318.0h.8v.8h-.8zM472.4 325.5h.8v.8h-.8zM499.9 312.4h.8v.8h-.8zM482.9 326.8h.8v.8h-.8zM471.5 324.9h.8v.8h-.8zM471.9 322.2h.8v.8h-.8zM478.8 322.2h.8v.8h-.8zM470.8 323.3h.8v.8h-.8zM470.6 309.7h.8v.8h-.8zM478.1 326.1h.8v.8h-.8zM476.6 321.6h.8v.8h-.8zM489.8 318.9h.8v.8h-.8zM498.2 321.9h.8v.8h-.8zM478.4 322.5h.8v.8h-.8zM491.0 329.7h.8v.8h-.8zM479.4 320.9h.8v.8h-.8zM478.5 321.3h.8v.8h-.8zM476.7 322.3h.8v.8h-.8zM472.8 323.3h.8v.8h-.8zM484.1 309.9h.8v.8h-.8zM478.6 325.7h.8v.8h-.8zM480.7 326.3h.8v.8h-.8zM494.8 338.7h.8v.8h-.8zM476.1 322.8h.8v.8h-.8zM479.0 326.5h.8v.8h-.8zM489.0 324.9h.8v.8h-.8zM471.5 312.0h.8v.8h-.8zM473.9 314.0h.8v.8h-.8zM480.9 331.7h.8v.8h-.8zM492.7 326.1h.8v.8h-.8zM478.4 317.1h.8v.8h-.8zM496.7 306.2h.8v.8h-.8zM475.6 310.4h.8v.8h-.8zM488.3 323.4h.8v.8h-.8zM484.8 323.8h.8v.8h-.8zM475.9 320.6h.8v.8h-.8zM481.9 323.8h.8v.8h-.8zM497.0 317.5h.8v.8h-.8zM471.6 319.4h.8v.8h-.8zM492.4 328.8h.8v.8h-.8zM483.2 327.6h.8v.8h-.8zM478.6 315.6h.8v.8h-.8zM483.1 312.9h.8v.8h-.8zM476.5 328.7h.8v.8h-.8zM473.6 322.3h.8v.8h-.8zM499.6 328.6h.8v.8h-.8zM490.7 322.4h.8v.8h-.8zM471.1 332.0h.8v.8h-.8zM470.6 331.4h.8v.8h-.8zM490.8 333.9h.8v.8h-.8zM485.1 316.9h.8v.8h-.8zM473.0 323.1h.8v.8h-.8zM474.5 318.6h.8v.8h-.8zM476.4 327.9h.8v.8h-.8zM474.3 323.7h.8v.8h-.8zM487.9 319.8h.8v.8h-.8zM479.3 311.5h.8v.8h-.8zM494.4 325.1h.8v.8h-.8zM496.6 336.7h.8v.8h-.8zM498.1 323.7h.8v.8h-.8zM470.0 323.2h.8v.8h-.8zM483.8 324.2h.8v.8h-.8zM475.4 320.9h.8v.8h-.8zM500.6 323.9h.8v.8h-.8zM485.0 317.9h.8v.8h-.8zM480.3 321.8h.8v.8h-.8zM476.9 317.1h.8v.8h-.8zM495.6 319.7h.8v.8h-.8zM492.3 315.6h.8v.8h-.8zM475.4 319.1h.8v.8h-.8zM477.5 322.2h.8v.8h-.8zM479.7 326.2h.8v.8h-.8zM477.7 324.6h.8v.8h-.8zM477.1 311.4h.8v.8h-.8zM503.8 321.4h.8v.8h-.8zM476.3 323.6h.8v.8h-.8zM495.4 321.0h.8v.8h-.8zM479.1 310.5h.8v.8h-.8zM473.4 326.0h.8v.8h-.8zM496.1 326.5h.8v.8h-.8zM471.6 320.6h.8v.8h-.8zM474.3 322.9h.8v.8h-.8zM484.4 313.6h.8v.8h-.8zM476.9 312.5h.8v.8h-.8zM474.7 325.0h.8v.8h-.8zM470.6 323.2h.8v.8h-.8zM470.0 325.9h.8v.8h-.8zM480.9 326.8h.8v.8h-.8zM472.8 322.4h.8v.8h-.8zM491.5 334.1h.8v.8h-.8zM474.8 321.2h.8v.8h-.8zM477.6 317.1h.8v.8h-.8zM475.9 324.2h.8v.8h-.8zM473.0 331.2h.8v.8h-.8zM474.1 327.0h.8v.8h-.8zM472.1 326.1h.8v.8h-.8zM498.5 322.3h.8v.8h-.8zM483.4 322.9h.8v.8h-.8zM483.9 329.1h.8v.8h-.8zM473.9 312.2h.8v.8h-.8zM480.6 326.4h.8v.8h-.8zM491.0 317.9h.8v.8h-.8zM489.2 323.8h.8v.8h-.8zM473.8 319.7h.8v.8h-.8zM479.5 322.9h.8v.8h-.8zM487.2 317.6h.8v.8h-.8zM489.0 317.7h.8v.8h-.8zM474.3 319.9h.8v.8h-.8zM486.6 334.1h.8v.8h-.8zM482.0 317.2h.8v.8h-.8zM476.2 320.9h.8v.8h-.8zM482.3 321.3h.8v.8h-.8zM497.3 325.7h.8v.8h-.8zM474.0 321.8h.8v.8h-.8zM481.7 310.7h.8v.8h-.8zM472.0 315.2h.8v.8h-.8zM472.5 314.5h.8v.8h-.8zM470.5 322.9h.8v.8h-.8zM478.5 320.9h.8v.8h-.8zM473.5 317.6h.8v.8h-.8zM471.3 322.5h.8v.8h-.8zM483.8 315.0h.8v.8h-.8zM490.5 322.8h.8v.8h-.8zM478.1 316.9h.8v.8h-.8zM481.0 326.7h.8v.8h-.8zM483.6 322.1h.8v.8h-.8zM476.5 334.1h.8v.8h-.8zM476.9 332.1h.8v.8h-.8zM501.6 328.9h.8v.8h-.8zM470.9 324.2h.8v.8h-.8zM470.5 324.9h.8v.8h-.8zM482.3 327.6h.8v.8h-.8zM482.5 314.6h.8v.8h-.8zM475.5 326.2h.8v.8h-.8zM486.5 318.9h.8v.8h-.8zM482.1 322.8h.8v.8h-.8zM505.4 313.1h.8v.8h-.8zM481.9 313.3h.8v.8h-.8zM474.0 322.4h.8v.8h-.8zM486.1 316.8h.8v.8h-.8zM482.3 322.1h.8v.8h-.8zM473.5 320.8h.8v.8h-.8zM480.6 320.0h.8v.8h-.8zM471.0 320.4h.8v.8h-.8zM501.0 321.2h.8v.8h-.8zM470.3 323.4h.8v.8h-.8zM477.1 326.8h.8v.8h-.8zM475.0 327.8h.8v.8h-.8zM499.9 315.6h.8v.8h-.8zM485.9 322.9h.8v.8h-.8zM474.5 322.0h.8v.8h-.8zM474.8 324.1h.8v.8h-.8zM474.4 324.8h.8v.8h-.8zM480.6 327.1h.8v.8h-.8zM486.1 313.0h.8v.8h-.8zM487.0 319.1h.8v.8h-.8zM481.3 324.1h.8v.8h-.8zM475.7 320.1h.8v.8h-.8zM470.2 329.2h.8v.8h-.8zM479.3 316.2h.8v.8h-.8zM503.0 303.1h.8v.8h-.8zM477.2 321.2h.8v.8h-.8zM481.3 321.4h.8v.8h-.8zM478.7 323.1h.8v.8h-.8zM476.4 316.4h.8v.8h-.8zM471.0 315.8h.8v.8h-.8zM488.6 320.9h.8v.8h-.8zM477.1 319.7h.8v.8h-.8zM480.8 322.1h.8v.8h-.8zM472.9 324.3h.8v.8h-.8zM480.9 332.2h.8v.8h-.8zM479.6 323.0h.8v.8h-.8zM475.8 322.2h.8v.8h-.8zM486.3 327.8h.8v.8h-.8zM492.4 311.6h.8v.8h-.8zM485.2 326.4h.8v.8h-.8zM499.7 320.3h.8v.8h-.8zM470.4 315.3h.8v.8h-.8zM477.7 329.5h.8v.8h-.8zM473.2 327.8h.8v.8h-.8zM491.3 325.7h.8v.8h-.8zM473.7 319.0h.8v.8h-.8zM487.9 327.6h.8v.8h-.8zM483.0 316.8h.8v.8h-.8zM487.3 315.3h.8v.8h-.8zM477.6 324.9h.8v.8h-.8zM502.0 309.2h.8v.8h-.8zM500.5 318.4h.8v.8h-.8zM491.3 328.2h.8v.8h-.8zM491.3 317.0h.8v.8h-.8zM475.8 322.9h.8v.8h-.8zM473.1 325.6h.8v.8h-.8zM486.3 322.0h.8v.8h-.8zM475.2 325.2h.8v.8h-.8zM492.6 330.0h.8v.8h-.8zM485.2 332.7h.8v.8h-.8zM490.1 325.8h.8v.8h-.8zM477.0 327.4h.8v.8h-.8zM496.0 317.9h.8v.8h-.8zM471.7 319.7h.8v.8h-.8zM490.6 333.3h.8v.8h-.8zM491.6 321.6h.8v.8h-.8zM504.5 320.2h.8v.8h-.8zM470.8 322.4h.8v.8h-.8zM482.4 327.2h.8v.8h-.8zM471.8 320.1h.8v.8h-.8zM477.3 323.4h.8v.8h-.8zM477.5 329.2h.8v.8h-.8zM470.6 327.0h.8v.8h-.8zM474.0 325.9h.8v.8h-.8zM476.6 316.1h.8v.8h-.8zM479.3 321.4h.8v.8h-.8zM482.6 328.3h.8v.8h-.8zM477.7 328.8h.8v.8h-.8zM470.3 314.6h.8v.8h-.8zM486.3 322.4h.8v.8h-.8zM479.2 315.8h.8v.8h-.8zM492.7 326.8h.8v.8h-.8zM474.0 326.6h.8v.8h-.8zM505.6 324.3h.8v.8h-.8zM497.5 314.2h.8v.8h-.8zM483.9 319.7h.8v.8h-.8zM496.4 317.3h.8v.8h-.8zM488.7 327.5h.8v.8h-.8zM479.2 322.1h.8v.8h-.8zM497.0 321.4h.8v.8h-.8zM503.8 337.6h.8v.8h-.8zM473.2 321.7h.8v.8h-.8zM475.7 318.2h.8v.8h-.8zM477.7 323.5h.8v.8h-.8zM478.6 314.8h.8v.8h-.8zM490.5 324.0h.8v.8h-.8zM505.7 316.5h.8v.8h-.8zM483.1 314.4h.8v.8h-.8zM474.3 315.3h.8v.8h-.8zM481.3 321.9h.8v.8h-.8zM478.9 321.3h.8v.8h-.8zM483.9 315.4h.8v.8h-.8zM502.4 325.5h.8v.8h-.8zM472.2 321.5h.8v.8h-.8zM471.6 318.8h.8v.8h-.8zM481.1 326.5h.8v.8h-.8zM473.3 325.8h.8v.8h-.8zM480.5 334.3h.8v.8h-.8zM474.2 333.9h.8v.8h-.8zM480.5 315.6h.8v.8h-.8zM472.5 318.2h.8v.8h-.8zM503.6 319.6h.8v.8h-.8zM480.0 323.9h.8v.8h-.8zM487.4 315.3h.8v.8h-.8zM476.7 328.4h.8v.8h-.8zM500.2 336.5h.8v.8h-.8zM471.2 319.0h.8v.8h-.8zM479.7 316.9h.8v.8h-.8zM473.7 321.3h.8v.8h-.8zM485.8 325.0h.8v.8h-.8zM479.7 324.4h.8v.8h-.8zM489.9 334.3h.8v.8h-.8zM488.6 329.9h.8v.8h-.8zM494.0 317.0h.8v.8h-.8zM481.4 325.5h.8v.8h-.8zM470.0 314.4h.8v.8h-.8zM471.3 323.4h.8v.8h-.8zM495.2 318.4h.8v.8h-.8z" fill="#222"/>
<path d="M460.9 308.2h.8v.8h-.8zM432.7 316.3h.8v.8h-.8zM440.6 314.9h.8v.8h-.8zM415.9 319.7h.8v.8h-.8zM418.5 318.7h.8v.8h-.8zM414.4 318.7h.8v.8h-.8zM441.9 313.6h.8v.8h-.8zM414.6 318.5h.8v.8h-.8zM413.5 316.7h.8v.8h-.8zM466.6 307.8h.8v.8h-.8zM422.9 318.8h.8v.8h-.8zM427.3 318.3h.8v.8h-.8zM453.9 309.9h.8v.8h-.8zM444.2 313.9h.8v.8h-.8zM445.9 313.0h.8v.8h-.8zM442.5 314.1h.8v.8h-.8zM469.7 301.7h.8v.8h-.8zM438.0 313.6h.8v.8h-.8zM448.8 308.2h.8v.8h-.8zM417.1 319.6h.8v.8h-.8zM424.1 318.6h.8v.8h-.8zM444.7 313.0h.8v.8h-.8zM424.2 317.7h.8v.8h-.8zM465.4 304.7h.8v.8h-.8zM462.1 299.0h.8v.8h-.8zM422.8 319.1h.8v.8h-.8zM443.4 313.9h.8v.8h-.8zM452.6 310.6h.8v.8h-.8zM435.5 315.6h.8v.8h-.8zM456.0 309.4h.8v.8h-.8zM443.0 308.5h.8v.8h-.8zM417.3 319.6h.8v.8h-.8zM470.5 310.4h.8v.8h-.8zM461.2 307.7h.8v.8h-.8zM426.3 315.7h.8v.8h-.8zM413.2 318.4h.8v.8h-.8zM412.3 319.0h.8v.8h-.8zM420.0 318.8h.8v.8h-.8zM460.1 308.3h.8v.8h-.8zM454.9 305.1h.8v.8h-.8zM434.3 316.3h.8v.8h-.8zM428.7 317.2h.8v.8h-.8zM431.3 316.8h.8v.8h-.8zM422.1 317.8h.8v.8h-.8zM447.8 310.9h.8v.8h-.8zM450.3 310.7h.8v.8h-.8zM409.6 318.2h.8v.8h-.8zM462.9 307.2h.8v.8h-.8zM410.4 319.5h.8v.8h-.8zM427.4 317.8h.8v.8h-.8zM460.2 308.4h.8v.8h-.8zM458.0 309.3h.8v.8h-.8zM424.2 318.0h.8v.8h-.8zM446.0 312.8h.8v.8h-.8zM463.6 307.0h.8v.8h-.8zM454.4 309.7h.8v.8h-.8zM420.8 318.8h.8v.8h-.8zM420.6 319.0h.8v.8h-.8zM419.8 317.6h.8v.8h-.8zM431.9 316.6h.8v.8h-.8zM420.0 318.6h.8v.8h-.8zM413.1 319.5h.8v.8h-.8zM413.5 318.6h.8v.8h-.8zM409.3 318.5h.8v.8h-.8zM456.4 309.6h.8v.8h-.8zM411.2 320.0h.8v.8h-.8zM420.5 318.4h.8v.8h-.8zM433.8 309.8h.8v.8h-.8zM423.1 318.5h.8v.8h-.8zM411.6 318.2h.8v.8h-.8zM453.6 310.5h.8v.8h-.8zM440.5 314.8h.8v.8h-.8zM455.2 309.4h.8v.8h-.8zM419.8 316.6h.8v.8h-.8zM418.2 318.3h.8v.8h-.8zM459.6 307.9h.8v.8h-.8zM433.1 316.9h.8v.8h-.8zM443.6 314.1h.8v.8h-.8zM449.0 312.1h.8v.8h-.8zM446.9 313.1h.8v.8h-.8zM433.0 317.1h.8v.8h-.8zM409.3 319.5h.8v.8h-.8zM470.5 309.4h.8v.8h-.8zM436.2 310.5h.8v.8h-.8zM451.7 311.7h.8v.8h-.8zM419.9 318.6h.8v.8h-.8zM411.8 320.0h.8v.8h-.8zM410.9 318.7h.8v.8h-.8zM458.5 305.0h.8v.8h-.8zM466.4 307.3h.8v.8h-.8zM413.3 319.8h.8v.8h-.8zM445.1 312.7h.8v.8h-.8zM428.8 317.5h.8v.8h-.8zM423.6 317.4h.8v.8h-.8zM442.5 313.8h.8v.8h-.8zM463.5 306.9h.8v.8h-.8zM419.6 318.9h.8v.8h-.8zM410.1 319.7h.8v.8h-.8zM464.1 307.5h.8v.8h-.8zM448.3 312.9h.8v.8h-.8zM458.7 309.2h.8v.8h-.8zM440.7 314.5h.8v.8h-.8zM442.4 314.0h.8v.8h-.8zM444.9 313.5h.8v.8h-.8zM456.5 309.9h.8v.8h-.8zM444.7 312.6h.8v.8h-.8zM441.7 313.5h.8v.8h-.8zM461.4 297.0h.8v.8h-.8zM431.3 314.8h.8v.8h-.8zM433.6 316.4h.8v.8h-.8zM433.2 314.4h.8v.8h-.8zM437.0 315.8h.8v.8h-.8zM422.5 318.8h.8v.8h-.8zM431.2 317.6h.8v.8h-.8zM409.4 318.5h.8v.8h-.8zM420.6 317.6h.8v.8h-.8zM450.6 311.9h.8v.8h-.8zM464.8 306.6h.8v.8h-.8zM429.4 317.2h.8v.8h-.8zM459.7 308.8h.8v.8h-.8zM429.8 317.4h.8v.8h-.8zM446.9 313.4h.8v.8h-.8zM459.6 308.8h.8v.8h-.8zM454.1 310.5h.8v.8h-.8zM463.1 305.9h.8v.8h-.8zM414.7 319.0h.8v.8h-.8zM429.4 314.9h.8v.8h-.8zM463.3 307.5h.8v.8h-.8zM466.6 306.8h.8v.8h-.8zM439.0 314.5h.8v.8h-.8zM457.9 309.3h.8v.8h-.8zM464.2 307.6h.8v.8h-.8zM430.4 316.2h.8v.8h-.8zM419.8 319.1h.8v.8h-.8zM465.7 306.5h.8v.8h-.8zM424.4 318.6h.8v.8h-.8zM444.0 313.4h.8v.8h-.8zM468.7 307.4h.8v.8h-.8zM430.0 317.8h.8v.8h-.8zM440.3 314.1h.8v.8h-.8zM444.9 313.5h.8v.8h-.8zM446.5 312.5h.8v.8h-.8zM469.4 302.6h.8v.8h-.8zM438.5 315.4h.8v.8h-.8zM444.6 313.3h.8v.8h-.8zM443.3 308.8h.8v.8h-.8zM409.2 320.2h.8v.8h-.8zM454.6 310.5h.8v.8h-.8zM448.7 312.5h.8v.8h-.8zM467.8 307.9h.8v.8h-.8zM446.3 313.4h.8v.8h-.8zM424.1 317.8h.8v.8h-.8zM448.2 310.6h.8v.8h-.8zM425.6 318.2h.8v.8h-.8zM443.2 313.7h.8v.8h-.8zM422.3 317.2h.8v.8h-.8zM419.7 318.2h.8v.8h-.8zM451.6 310.8h.8v.8h-.8zM430.5 316.3h.8v.8h-.8zM466.3 307.1h.8v.8h-.8zM456.0 309.3h.8v.8h-.8zM427.0 318.2h.8v.8h-.8zM437.1 316.1h.8v.8h-.8zM432.4 316.8h.8v.8h-.8zM454.9 310.2h.8v.8h-.8zM451.4 303.3h.8v.8h-.8zM459.1 307.6h.8v.8h-.8zM456.9 308.5h.8v.8h-.8zM415.0 319.1h.8v.8h-.8zM467.2 307.3h.8v.8h-.8zM469.3 301.1h.8v.8h-.8zM434.5 316.7h.8v.8h-.8zM453.3 310.4h.8v.8h-.8zM465.3 305.6h.8v.8h-.8zM422.7 318.4h.8v.8h-.8zM424.4 317.9h.8v.8h-.8zM432.0 317.1h.8v.8h-.8zM417.8 318.9h.8v.8h-.8zM465.4 306.5h.8v.8h-.8zM425.9 316.6h.8v.8h-.8zM465.7 306.5h.8v.8h-.8zM413.3 319.8h.8v.8h-.8zM463.2 307.4h.8v.8h-.8zM439.7 314.6h.8v.8h-.8zM409.2 319.4h.8v.8h-.8zM445.2 312.2h.8v.8h-.8zM436.4 315.7h.8v.8h-.8zM450.8 312.0h.8v.8h-.8zM423.1 318.1h.8v.8h-.8zM465.1 306.7h.8v.8h-.8zM414.2 319.8h.8v.8h-.8zM458.1 309.3h.8v.8h-.8zM411.9 318.5h.8v.8h-.8zM423.9 318.4h.8v.8h-.8zM411.0 313.1h.8v.8h-.8zM464.1 307.6h.8v.8h-.8zM427.8 317.4h.8v.8h-.8zM426.0 317.6h.8v.8h-.8zM435.7 315.4h.8v.8h-.8zM450.6 311.4h.8v.8h-.8zM464.3 307.6h.8v.8h-.8zM449.5 311.6h.8v.8h-.8zM447.6 311.7h.8v.8h-.8zM455.4 304.7h.8v.8h-.8zM414.8 319.5h.8v.8h-.8zM432.7 316.0h.8v.8h-.8zM460.8 307.8h.8v.8h-.8zM412.5 319.7h.8v.8h-.8zM461.9 303.6h.8v.8h-.8zM430.0 317.6h.8v.8h-.8zM442.9 309.5h.8v.8h-.8zM448.0 312.3h.8v.8h-.8zM414.0 319.2h.8v.8h-.8zM465.9 305.9h.8v.8h-.8zM432.1 317.2h.8v.8h-.8zM424.2 317.6h.8v.8h-.8zM457.9 308.7h.8v.8h-.8zM428.3 318.0h.8v.8h-.8zM450.0 312.1h.8v.8h-.8zM422.5 319.2h.8v.8h-.8zM442.6 313.9h.8v.8h-.8zM445.9 304.9h.8v.8h-.8zM454.6 309.2h.8v.8h-.8zM464.9 307.2h.8v.8h-.8zM449.1 310.7h.8v.8h-.8zM412.6 317.6h.8v.8h-.8zM415.5 319.4h.8v.8h-.8zM427.6 318.1h.8v.8h-.8zM412.0 318.3h.8v.8h-.8zM459.9 308.7h.8v.8h-.8zM443.9 340.0h.8v.8h-.8zM434.7 340.3h.8v.8h-.8zM428.7 339.3h.8v.8h-.8zM431.6 339.6h.8v.8h-.8zM459.5 340.8h.8v.8h-.8zM423.1 339.5h.8v.8h-.8zM420.2 338.9h.8v.8h-.8zM412.9 339.8h.8v.8h-.8zM417.3 338.6h.8v.8h-.8zM426.4 339.4h.8v.8h-.8zM444.8 339.2h.8v.8h-.8zM438.2 339.3h.8v.8h-.8zM448.4 341.0h.8v.8h-.8zM467.5 340.2h.8v.8h-.8zM447.4 341.0h.8v.8h-.8zM444.2 340.1h.8v.8h-.8zM435.4 339.1h.8v.8h-.8zM411.9 339.7h.8v.8h-.8zM415.9 339.4h.8v.8h-.8zM443.5 339.2h.8v.8h-.8zM433.2 340.3h.8v.8h-.8zM425.4 339.5h.8v.8h-.8zM467.1 339.5h.8v.8h-.8zM437.4 340.3h.8v.8h-.8zM419.2 339.7h.8v.8h-.8zM454.8 339.7h.8v.8h-.8zM440.9 341.7h.8v.8h-.8zM455.0 339.9h.8v.8h-.8zM446.3 341.3h.8v.8h-.8zM464.0 339.4h.8v.8h-.8zM431.7 339.9h.8v.8h-.8zM460.7 340.4h.8v.8h-.8zM465.8 339.9h.8v.8h-.8zM457.8 339.7h.8v.8h-.8zM426.0 339.6h.8v.8h-.8zM426.9 339.1h.8v.8h-.8zM422.8 339.7h.8v.8h-.8zM418.1 338.5h.8v.8h-.8zM419.6 339.0h.8v.8h-.8zM441.7 340.2h.8v.8h-.8zM421.6 338.8h.8v.8h-.8zM461.8 340.7h.8v.8h-.8zM437.9 339.4h.8v.8h-.8zM410.2 339.4h.8v.8h-.8zM409.6 340.1h.8v.8h-.8zM443.8 339.6h.8v.8h-.8zM467.9 341.3h.8v.8h-.8zM464.6 339.9h.8v.8h-.8zM470.2 338.9h.8v.8h-.8zM469.6 340.2h.8v.8h-.8zM425.1 340.5h.8v.8h-.8zM435.6 339.9h.8v.8h-.8zM470.0 339.4h.8v.8h-.8zM452.4 340.3h.8v.8h-.8zM422.1 338.7h.8v.8h-.8zM435.5 339.2h.8v.8h-.8zM444.2 340.5h.8v.8h-.8zM434.0 339.9h.8v.8h-.8zM439.7 339.7h.8v.8h-.8zM438.9 340.4h.8v.8h-.8zM445.0 341.2h.8v.8h-.8zM455.7 339.5h.8v.8h-.8zM428.4 339.3h.8v.8h-.8zM417.6 338.4h.8v.8h-.8zM448.5 341.9h.8v.8h-.8zM422.5 339.8h.8v.8h-.8zM444.3 340.6h.8v.8h-.8zM418.0 340.2h.8v.8h-.8zM468.2 339.1h.8v.8h-.8zM469.5 339.2h.8v.8h-.8zM467.0 342.0h.8v.8h-.8zM418.9 339.1h.8v.8h-.8zM448.3 340.4h.8v.8h-.8zM418.4 338.5h.8v.8h-.8zM468.5 341.0h.8v.8h-.8zM438.3 341.2h.8v.8h-.8zM464.4 340.4h.8v.8h-.8zM420.7 339.6h.8v.8h-.8zM459.0 340.5h.8v.8h-.8zM460.2 340.7h.8v.8h-.8z" fill="#222"/>
<rect x="373.40" y="29.80" width="34.60" height="43.30" fill="none" stroke="#111" stroke-width="1.2"/>
<text x="404.40" y="85.80" font-size="9.0" text-anchor="end" font-weight="bold" style="stroke-width:0.1px" textLength="27.8" lengthAdjust="spacingAndGlyphs">0.35%</text>
<text x="324.00" y="101.30" font-size="10.6" text-anchor="start" font-weight="bold" >DOTAP</text>
<rect x="472.50" y="29.80" width="34.50" height="43.30" fill="none" stroke="#111" stroke-width="1.2"/>
<text x="503.40" y="85.80" font-size="9.0" text-anchor="end" font-weight="bold" style="stroke-width:0.1px" textLength="27.8" lengthAdjust="spacingAndGlyphs">0.87%</text>
<text x="422.40" y="101.30" font-size="10.6" text-anchor="start" font-weight="bold" >DOTAP</text>
<rect x="373.40" y="118.60" width="34.60" height="43.30" fill="none" stroke="#111" stroke-width="1.2"/>
<text x="404.40" y="174.60" font-size="9.0" text-anchor="end" font-weight="bold" style="stroke-width:0.1px" textLength="27.8" lengthAdjust="spacingAndGlyphs">0.52%</text>
<text x="323.80" y="190.10" font-size="10.6" text-anchor="start" font-weight="bold" >pUs21</text>
<rect x="472.50" y="118.60" width="34.50" height="43.30" fill="none" stroke="#111" stroke-width="1.2"/>
<text x="503.40" y="174.60" font-size="9.0" text-anchor="end" font-weight="bold" style="stroke-width:0.1px" textLength="27.8" lengthAdjust="spacingAndGlyphs">3.38%</text>
<text x="422.40" y="190.10" font-size="10.6" text-anchor="start" font-weight="bold" >pUs21</text>
<rect x="373.40" y="208.70" width="34.60" height="43.30" fill="none" stroke="#111" stroke-width="1.2"/>
<text x="404.40" y="264.70" font-size="9.0" text-anchor="end" font-weight="bold" style="stroke-width:0.1px" textLength="27.8" lengthAdjust="spacingAndGlyphs">0.41%</text>
<text x="323.80" y="280.20" font-size="10.6" text-anchor="start" font-weight="bold" >R848</text>
<rect x="472.50" y="208.70" width="34.50" height="43.30" fill="none" stroke="#111" stroke-width="1.2"/>
<text x="503.40" y="264.70" font-size="9.0" text-anchor="end" font-weight="bold" style="stroke-width:0.1px" textLength="27.8" lengthAdjust="spacingAndGlyphs">1.37%</text>
<text x="422.40" y="280.20" font-size="10.6" text-anchor="start" font-weight="bold" >R848</text>
<rect x="373.40" y="298.70" width="34.60" height="43.30" fill="none" stroke="#111" stroke-width="1.2"/>
<text x="404.40" y="354.70" font-size="9.0" text-anchor="end" font-weight="bold" style="stroke-width:0.1px" textLength="27.8" lengthAdjust="spacingAndGlyphs">0.53%</text>
<text x="326.50" y="370.20" font-size="10.6" text-anchor="start" font-weight="bold" >pIC</text>
<rect x="472.50" y="298.70" width="34.50" height="43.30" fill="none" stroke="#111" stroke-width="1.2"/>
<text x="503.40" y="354.70" font-size="9.0" text-anchor="end" font-weight="bold" style="stroke-width:0.1px" textLength="27.8" lengthAdjust="spacingAndGlyphs">2.28%</text>
<text x="425.00" y="370.20" font-size="10.6" text-anchor="start" font-weight="bold" >pIC</text>
<rect x="309.60" y="23.30" width="198.40" height="361.70" fill="none" stroke="#111" stroke-width="1.3"/>
<line x1="409.10" y1="23.30" x2="409.10" y2="385.00" stroke="#111" stroke-width="1.3" />
<line x1="309.60" y1="112.10" x2="508.00" y2="112.10" stroke="#111" stroke-width="1.3" />
<line x1="309.60" y1="202.20" x2="508.00" y2="202.20" stroke="#111" stroke-width="1.3" />
<line x1="309.60" y1="292.20" x2="508.00" y2="292.20" stroke="#111" stroke-width="1.3" />
<line x1="307.60" y1="32.50" x2="309.60" y2="32.50" stroke="#111" stroke-width="1.0" />
<line x1="307.60" y1="54.30" x2="309.60" y2="54.30" stroke="#111" stroke-width="1.0" />
<line x1="307.60" y1="77.50" x2="309.60" y2="77.50" stroke="#111" stroke-width="1.0" />
<line x1="307.60" y1="100.80" x2="309.60" y2="100.80" stroke="#111" stroke-width="1.0" />
<line x1="307.60" y1="110.80" x2="309.60" y2="110.80" stroke="#111" stroke-width="1.0" />
<line x1="308.60" y1="26.30" x2="309.60" y2="26.30" stroke="#111" stroke-width="0.8" />
<line x1="308.60" y1="29.30" x2="309.60" y2="29.30" stroke="#111" stroke-width="0.8" />
<line x1="308.60" y1="37.30" x2="309.60" y2="37.30" stroke="#111" stroke-width="0.8" />
<line x1="308.60" y1="40.30" x2="309.60" y2="40.30" stroke="#111" stroke-width="0.8" />
<line x1="308.60" y1="43.30" x2="309.60" y2="43.30" stroke="#111" stroke-width="0.8" />
<line x1="308.60" y1="45.30" x2="309.60" y2="45.30" stroke="#111" stroke-width="0.8" />
<line x1="308.60" y1="60.30" x2="309.60" y2="60.30" stroke="#111" stroke-width="0.8" />
<line x1="308.60" y1="63.30" x2="309.60" y2="63.30" stroke="#111" stroke-width="0.8" />
<line x1="308.60" y1="66.30" x2="309.60" y2="66.30" stroke="#111" stroke-width="0.8" />
<line x1="308.60" y1="68.30" x2="309.60" y2="68.30" stroke="#111" stroke-width="0.8" />
<line x1="308.60" y1="83.30" x2="309.60" y2="83.30" stroke="#111" stroke-width="0.8" />
<line x1="308.60" y1="86.30" x2="309.60" y2="86.30" stroke="#111" stroke-width="0.8" />
<line x1="308.60" y1="89.30" x2="309.60" y2="89.30" stroke="#111" stroke-width="0.8" />
<line x1="308.60" y1="91.30" x2="309.60" y2="91.30" stroke="#111" stroke-width="0.8" />
<line x1="307.60" y1="121.30" x2="309.60" y2="121.30" stroke="#111" stroke-width="1.0" />
<line x1="307.60" y1="143.10" x2="309.60" y2="143.10" stroke="#111" stroke-width="1.0" />
<line x1="307.60" y1="166.30" x2="309.60" y2="166.30" stroke="#111" stroke-width="1.0" />
<line x1="307.60" y1="189.60" x2="309.60" y2="189.60" stroke="#111" stroke-width="1.0" />
<line x1="307.60" y1="199.60" x2="309.60" y2="199.60" stroke="#111" stroke-width="1.0" />
<line x1="308.60" y1="115.10" x2="309.60" y2="115.10" stroke="#111" stroke-width="0.8" />
<line x1="308.60" y1="118.10" x2="309.60" y2="118.10" stroke="#111" stroke-width="0.8" />
<line x1="308.60" y1="126.10" x2="309.60" y2="126.10" stroke="#111" stroke-width="0.8" />
<line x1="308.60" y1="129.10" x2="309.60" y2="129.10" stroke="#111" stroke-width="0.8" />
<line x1="308.60" y1="132.10" x2="309.60" y2="132.10" stroke="#111" stroke-width="0.8" />
<line x1="308.60" y1="134.10" x2="309.60" y2="134.10" stroke="#111" stroke-width="0.8" />
<line x1="308.60" y1="149.10" x2="309.60" y2="149.10" stroke="#111" stroke-width="0.8" />
<line x1="308.60" y1="152.10" x2="309.60" y2="152.10" stroke="#111" stroke-width="0.8" />
<line x1="308.60" y1="155.10" x2="309.60" y2="155.10" stroke="#111" stroke-width="0.8" />
<line x1="308.60" y1="157.10" x2="309.60" y2="157.10" stroke="#111" stroke-width="0.8" />
<line x1="308.60" y1="172.10" x2="309.60" y2="172.10" stroke="#111" stroke-width="0.8" />
<line x1="308.60" y1="175.10" x2="309.60" y2="175.10" stroke="#111" stroke-width="0.8" />
<line x1="308.60" y1="178.10" x2="309.60" y2="178.10" stroke="#111" stroke-width="0.8" />
<line x1="308.60" y1="180.10" x2="309.60" y2="180.10" stroke="#111" stroke-width="0.8" />
<line x1="307.60" y1="211.40" x2="309.60" y2="211.40" stroke="#111" stroke-width="1.0" />
<line x1="307.60" y1="233.20" x2="309.60" y2="233.20" stroke="#111" stroke-width="1.0" />
<line x1="307.60" y1="256.40" x2="309.60" y2="256.40" stroke="#111" stroke-width="1.0" />
<line x1="307.60" y1="279.70" x2="309.60" y2="279.70" stroke="#111" stroke-width="1.0" />
<line x1="307.60" y1="289.70" x2="309.60" y2="289.70" stroke="#111" stroke-width="1.0" />
<line x1="308.60" y1="205.20" x2="309.60" y2="205.20" stroke="#111" stroke-width="0.8" />
<line x1="308.60" y1="208.20" x2="309.60" y2="208.20" stroke="#111" stroke-width="0.8" />
<line x1="308.60" y1="216.20" x2="309.60" y2="216.20" stroke="#111" stroke-width="0.8" />
<line x1="308.60" y1="219.20" x2="309.60" y2="219.20" stroke="#111" stroke-width="0.8" />
<line x1="308.60" y1="222.20" x2="309.60" y2="222.20" stroke="#111" stroke-width="0.8" />
<line x1="308.60" y1="224.20" x2="309.60" y2="224.20" stroke="#111" stroke-width="0.8" />
<line x1="308.60" y1="239.20" x2="309.60" y2="239.20" stroke="#111" stroke-width="0.8" />
<line x1="308.60" y1="242.20" x2="309.60" y2="242.20" stroke="#111" stroke-width="0.8" />
<line x1="308.60" y1="245.20" x2="309.60" y2="245.20" stroke="#111" stroke-width="0.8" />
<line x1="308.60" y1="247.20" x2="309.60" y2="247.20" stroke="#111" stroke-width="0.8" />
<line x1="308.60" y1="262.20" x2="309.60" y2="262.20" stroke="#111" stroke-width="0.8" />
<line x1="308.60" y1="265.20" x2="309.60" y2="265.20" stroke="#111" stroke-width="0.8" />
<line x1="308.60" y1="268.20" x2="309.60" y2="268.20" stroke="#111" stroke-width="0.8" />
<line x1="308.60" y1="270.20" x2="309.60" y2="270.20" stroke="#111" stroke-width="0.8" />
<line x1="307.60" y1="301.40" x2="309.60" y2="301.40" stroke="#111" stroke-width="1.0" />
<line x1="307.60" y1="323.20" x2="309.60" y2="323.20" stroke="#111" stroke-width="1.0" />
<line x1="307.60" y1="346.40" x2="309.60" y2="346.40" stroke="#111" stroke-width="1.0" />
<line x1="307.60" y1="369.70" x2="309.60" y2="369.70" stroke="#111" stroke-width="1.0" />
<line x1="307.60" y1="379.70" x2="309.60" y2="379.70" stroke="#111" stroke-width="1.0" />
<line x1="308.60" y1="295.20" x2="309.60" y2="295.20" stroke="#111" stroke-width="0.8" />
<line x1="308.60" y1="298.20" x2="309.60" y2="298.20" stroke="#111" stroke-width="0.8" />
<line x1="308.60" y1="306.20" x2="309.60" y2="306.20" stroke="#111" stroke-width="0.8" />
<line x1="308.60" y1="309.20" x2="309.60" y2="309.20" stroke="#111" stroke-width="0.8" />
<line x1="308.60" y1="312.20" x2="309.60" y2="312.20" stroke="#111" stroke-width="0.8" />
<line x1="308.60" y1="314.20" x2="309.60" y2="314.20" stroke="#111" stroke-width="0.8" />
<line x1="308.60" y1="329.20" x2="309.60" y2="329.20" stroke="#111" stroke-width="0.8" />
<line x1="308.60" y1="332.20" x2="309.60" y2="332.20" stroke="#111" stroke-width="0.8" />
<line x1="308.60" y1="335.20" x2="309.60" y2="335.20" stroke="#111" stroke-width="0.8" />
<line x1="308.60" y1="337.20" x2="309.60" y2="337.20" stroke="#111" stroke-width="0.8" />
<line x1="308.60" y1="352.20" x2="309.60" y2="352.20" stroke="#111" stroke-width="0.8" />
<line x1="308.60" y1="355.20" x2="309.60" y2="355.20" stroke="#111" stroke-width="0.8" />
<line x1="308.60" y1="358.20" x2="309.60" y2="358.20" stroke="#111" stroke-width="0.8" />
<line x1="308.60" y1="360.20" x2="309.60" y2="360.20" stroke="#111" stroke-width="0.8" />
<line x1="311.10" y1="385.00" x2="311.10" y2="388.20" stroke="#111" stroke-width="0.8" />
<line x1="318.45" y1="385.00" x2="318.45" y2="387.00" stroke="#111" stroke-width="0.8" />
<line x1="322.74" y1="385.00" x2="322.74" y2="387.00" stroke="#111" stroke-width="0.8" />
<line x1="325.79" y1="385.00" x2="325.79" y2="387.00" stroke="#111" stroke-width="0.8" />
<line x1="328.15" y1="385.00" x2="328.15" y2="387.00" stroke="#111" stroke-width="0.8" />
<line x1="330.09" y1="385.00" x2="330.09" y2="387.00" stroke="#111" stroke-width="0.8" />
<line x1="331.72" y1="385.00" x2="331.72" y2="387.00" stroke="#111" stroke-width="0.8" />
<line x1="333.14" y1="385.00" x2="333.14" y2="387.00" stroke="#111" stroke-width="0.8" />
<line x1="334.38" y1="385.00" x2="334.38" y2="387.00" stroke="#111" stroke-width="0.8" />
<line x1="335.50" y1="385.00" x2="335.50" y2="388.20" stroke="#111" stroke-width="0.8" />
<line x1="342.85" y1="385.00" x2="342.85" y2="387.00" stroke="#111" stroke-width="0.8" />
<line x1="347.14" y1="385.00" x2="347.14" y2="387.00" stroke="#111" stroke-width="0.8" />
<line x1="350.19" y1="385.00" x2="350.19" y2="387.00" stroke="#111" stroke-width="0.8" />
<line x1="352.55" y1="385.00" x2="352.55" y2="387.00" stroke="#111" stroke-width="0.8" />
<line x1="354.49" y1="385.00" x2="354.49" y2="387.00" stroke="#111" stroke-width="0.8" />
<line x1="356.12" y1="385.00" x2="356.12" y2="387.00" stroke="#111" stroke-width="0.8" />
<line x1="357.54" y1="385.00" x2="357.54" y2="387.00" stroke="#111" stroke-width="0.8" />
<line x1="358.78" y1="385.00" x2="358.78" y2="387.00" stroke="#111" stroke-width="0.8" />
<line x1="359.90" y1="385.00" x2="359.90" y2="388.20" stroke="#111" stroke-width="0.8" />
<line x1="367.25" y1="385.00" x2="367.25" y2="387.00" stroke="#111" stroke-width="0.8" />
<line x1="371.54" y1="385.00" x2="371.54" y2="387.00" stroke="#111" stroke-width="0.8" />
<line x1="374.59" y1="385.00" x2="374.59" y2="387.00" stroke="#111" stroke-width="0.8" />
<line x1="376.95" y1="385.00" x2="376.95" y2="387.00" stroke="#111" stroke-width="0.8" />
<line x1="378.89" y1="385.00" x2="378.89" y2="387.00" stroke="#111" stroke-width="0.8" />
<line x1="380.52" y1="385.00" x2="380.52" y2="387.00" stroke="#111" stroke-width="0.8" />
<line x1="381.94" y1="385.00" x2="381.94" y2="387.00" stroke="#111" stroke-width="0.8" />
<line x1="383.18" y1="385.00" x2="383.18" y2="387.00" stroke="#111" stroke-width="0.8" />
<line x1="384.30" y1="385.00" x2="384.30" y2="388.20" stroke="#111" stroke-width="0.8" />
<line x1="391.65" y1="385.00" x2="391.65" y2="387.00" stroke="#111" stroke-width="0.8" />
<line x1="395.94" y1="385.00" x2="395.94" y2="387.00" stroke="#111" stroke-width="0.8" />
<line x1="398.99" y1="385.00" x2="398.99" y2="387.00" stroke="#111" stroke-width="0.8" />
<line x1="401.35" y1="385.00" x2="401.35" y2="387.00" stroke="#111" stroke-width="0.8" />
<line x1="403.29" y1="385.00" x2="403.29" y2="387.00" stroke="#111" stroke-width="0.8" />
<line x1="404.92" y1="385.00" x2="404.92" y2="387.00" stroke="#111" stroke-width="0.8" />
<line x1="406.34" y1="385.00" x2="406.34" y2="387.00" stroke="#111" stroke-width="0.8" />
<line x1="407.58" y1="385.00" x2="407.58" y2="387.00" stroke="#111" stroke-width="0.8" />
<line x1="410.60" y1="385.00" x2="410.60" y2="388.20" stroke="#111" stroke-width="0.8" />
<line x1="417.95" y1="385.00" x2="417.95" y2="387.00" stroke="#111" stroke-width="0.8" />
<line x1="422.24" y1="385.00" x2="422.24" y2="387.00" stroke="#111" stroke-width="0.8" />
<line x1="425.29" y1="385.00" x2="425.29" y2="387.00" stroke="#111" stroke-width="0.8" />
<line x1="427.65" y1="385.00" x2="427.65" y2="387.00" stroke="#111" stroke-width="0.8" />
<line x1="429.59" y1="385.00" x2="429.59" y2="387.00" stroke="#111" stroke-width="0.8" />
<line x1="431.22" y1="385.00" x2="431.22" y2="387.00" stroke="#111" stroke-width="0.8" />
<line x1="432.64" y1="385.00" x2="432.64" y2="387.00" stroke="#111" stroke-width="0.8" />
<line x1="433.88" y1="385.00" x2="433.88" y2="387.00" stroke="#111" stroke-width="0.8" />
<line x1="435.00" y1="385.00" x2="435.00" y2="388.20" stroke="#111" stroke-width="0.8" />
<line x1="442.35" y1="385.00" x2="442.35" y2="387.00" stroke="#111" stroke-width="0.8" />
<line x1="446.64" y1="385.00" x2="446.64" y2="387.00" stroke="#111" stroke-width="0.8" />
<line x1="449.69" y1="385.00" x2="449.69" y2="387.00" stroke="#111" stroke-width="0.8" />
<line x1="452.05" y1="385.00" x2="452.05" y2="387.00" stroke="#111" stroke-width="0.8" />
<line x1="453.99" y1="385.00" x2="453.99" y2="387.00" stroke="#111" stroke-width="0.8" />
<line x1="455.62" y1="385.00" x2="455.62" y2="387.00" stroke="#111" stroke-width="0.8" />
<line x1="457.04" y1="385.00" x2="457.04" y2="387.00" stroke="#111" stroke-width="0.8" />
<line x1="458.28" y1="385.00" x2="458.28" y2="387.00" stroke="#111" stroke-width="0.8" />
<line x1="459.40" y1="385.00" x2="459.40" y2="388.20" stroke="#111" stroke-width="0.8" />
<line x1="466.75" y1="385.00" x2="466.75" y2="387.00" stroke="#111" stroke-width="0.8" />
<line x1="471.04" y1="385.00" x2="471.04" y2="387.00" stroke="#111" stroke-width="0.8" />
<line x1="474.09" y1="385.00" x2="474.09" y2="387.00" stroke="#111" stroke-width="0.8" />
<line x1="476.45" y1="385.00" x2="476.45" y2="387.00" stroke="#111" stroke-width="0.8" />
<line x1="478.39" y1="385.00" x2="478.39" y2="387.00" stroke="#111" stroke-width="0.8" />
<line x1="480.02" y1="385.00" x2="480.02" y2="387.00" stroke="#111" stroke-width="0.8" />
<line x1="481.44" y1="385.00" x2="481.44" y2="387.00" stroke="#111" stroke-width="0.8" />
<line x1="482.68" y1="385.00" x2="482.68" y2="387.00" stroke="#111" stroke-width="0.8" />
<line x1="483.80" y1="385.00" x2="483.80" y2="388.20" stroke="#111" stroke-width="0.8" />
<line x1="491.15" y1="385.00" x2="491.15" y2="387.00" stroke="#111" stroke-width="0.8" />
<line x1="495.44" y1="385.00" x2="495.44" y2="387.00" stroke="#111" stroke-width="0.8" />
<line x1="498.49" y1="385.00" x2="498.49" y2="387.00" stroke="#111" stroke-width="0.8" />
<line x1="500.85" y1="385.00" x2="500.85" y2="387.00" stroke="#111" stroke-width="0.8" />
<line x1="502.79" y1="385.00" x2="502.79" y2="387.00" stroke="#111" stroke-width="0.8" />
<line x1="504.42" y1="385.00" x2="504.42" y2="387.00" stroke="#111" stroke-width="0.8" />
<line x1="505.84" y1="385.00" x2="505.84" y2="387.00" stroke="#111" stroke-width="0.8" />
<line x1="507.08" y1="385.00" x2="507.08" y2="387.00" stroke="#111" stroke-width="0.8" />
<line x1="293.10" y1="28.00" x2="293.10" y2="183.00" stroke="#111" stroke-width="1.3" />
<line x1="293.10" y1="221.30" x2="293.10" y2="392.00" stroke="#111" stroke-width="1.3" />
<path d="M288.2,30.2 L293.1,21.2 L298.0,30.2 Z" fill="#111"/>
<text transform="translate(297.00,202.50) rotate(-90)" font-size="10.6" text-anchor="middle" font-weight="bold">CD3</text>
<line x1="308.00" y1="404.20" x2="390.20" y2="404.20" stroke="#111" stroke-width="1.3" />
<line x1="428.00" y1="404.20" x2="501.00" y2="404.20" stroke="#111" stroke-width="1.3" />
<path d="M499.8,399.6 L510.2,404.2 L499.8,408.8 Z" fill="#111"/>
<text x="409.40" y="407.20" font-size="10.6" text-anchor="middle" font-weight="bold" >IFN&#947;</text>
</svg>
</body></html>
